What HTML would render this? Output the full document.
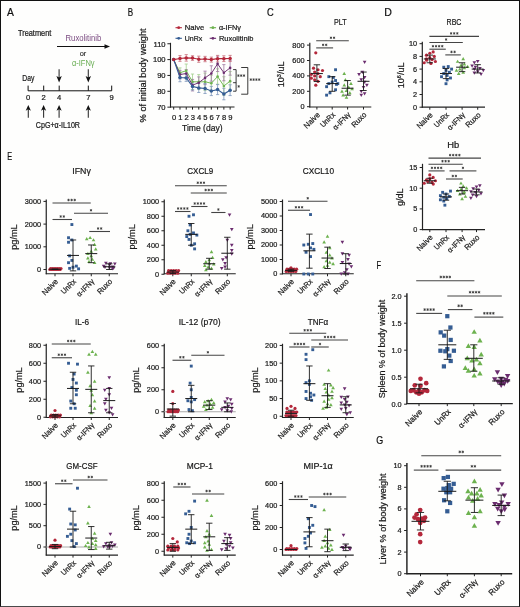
<!DOCTYPE html>
<html><head><meta charset="utf-8"><style>
html,body{margin:0;padding:0;background:#fefefd;}
body{width:520px;height:607px;overflow:hidden;position:relative;}
svg{display:block;font-family:"Liberation Sans", sans-serif;will-change:transform;}
.bd{position:absolute;left:0;top:0;width:520px;height:607px;box-sizing:border-box;border:1px solid #111;border-bottom-color:#4a4a4a;}
</style></head><body>
<svg width="520" height="607" viewBox="0 0 520 607">
<rect x="0" y="0" width="520" height="607" fill="#fefefd"/>
<text x="7.10" y="15.80" font-size="11.3" fill="#111" stroke="#111" stroke-width="0.22" textLength="6.87" lengthAdjust="spacingAndGlyphs">A</text>
<text x="127.80" y="15.70" font-size="11.3" fill="#111" stroke="#111" stroke-width="0.22" textLength="5.38" lengthAdjust="spacingAndGlyphs">B</text>
<text x="266.90" y="15.70" font-size="11.3" fill="#111" stroke="#111" stroke-width="0.22" textLength="6.72" lengthAdjust="spacingAndGlyphs">C</text>
<text x="384.20" y="15.70" font-size="11.3" fill="#111" stroke="#111" stroke-width="0.22" textLength="7.62" lengthAdjust="spacingAndGlyphs">D</text>
<text x="7.20" y="159.70" font-size="11.3" fill="#111" stroke="#111" stroke-width="0.22" textLength="4.88" lengthAdjust="spacingAndGlyphs">E</text>
<text x="376.60" y="268.80" font-size="11.3" fill="#111" stroke="#111" stroke-width="0.22" textLength="4.61" lengthAdjust="spacingAndGlyphs">F</text>
<text x="376.30" y="443.60" font-size="11.3" fill="#111" stroke="#111" stroke-width="0.22" textLength="6.98" lengthAdjust="spacingAndGlyphs">G</text>
<text x="18.00" y="35.60" font-size="8.2" fill="#1a1a1a" stroke="#1a1a1a" stroke-width="0.22" textLength="33.3" lengthAdjust="spacingAndGlyphs">Treatment</text>
<text x="65.50" y="40.60" font-size="8.2" fill="#7a4a80" textLength="35.8" lengthAdjust="spacingAndGlyphs">Ruxolitinib</text>
<line x1="57.00" y1="46.50" x2="107.00" y2="46.50" stroke="#111" stroke-width="1.0"/>
<path d="M104.5 44.2 L110 46.5 L104.5 48.8 Z" stroke="none" stroke-width="1.0" fill="#111"/>
<text x="83.00" y="55.60" font-size="7.6" fill="#1a1a1a" stroke="#1a1a1a" stroke-width="0.1" text-anchor="middle" textLength="6.6" lengthAdjust="spacingAndGlyphs">or</text>
<text x="71.90" y="65.80" font-size="8.2" fill="#68ad52" textLength="22.7" lengthAdjust="spacingAndGlyphs">&#945;-IFN&#947;</text>
<text x="22.30" y="81.20" font-size="8.2" fill="#1a1a1a" stroke="#1a1a1a" stroke-width="0.22" textLength="12.1" lengthAdjust="spacingAndGlyphs">Day</text>
<line x1="28.10" y1="90.80" x2="111.70" y2="90.80" stroke="#111" stroke-width="1.0"/>
<line x1="28.10" y1="85.60" x2="28.10" y2="90.80" stroke="#111" stroke-width="1.0"/>
<text x="28.10" y="100.20" font-size="7.6" fill="#1a1a1a" stroke="#1a1a1a" stroke-width="0.22" text-anchor="middle">0</text>
<line x1="43.70" y1="85.60" x2="43.70" y2="90.80" stroke="#111" stroke-width="1.0"/>
<text x="43.70" y="100.20" font-size="7.6" fill="#1a1a1a" stroke="#1a1a1a" stroke-width="0.22" text-anchor="middle">2</text>
<line x1="59.20" y1="85.60" x2="59.20" y2="90.80" stroke="#111" stroke-width="1.0"/>
<text x="59.20" y="100.20" font-size="7.6" fill="#1a1a1a" stroke="#1a1a1a" stroke-width="0.22" text-anchor="middle">4</text>
<line x1="88.30" y1="85.60" x2="88.30" y2="90.80" stroke="#111" stroke-width="1.0"/>
<text x="88.30" y="100.20" font-size="7.6" fill="#1a1a1a" stroke="#1a1a1a" stroke-width="0.22" text-anchor="middle">7</text>
<line x1="111.70" y1="85.60" x2="111.70" y2="90.80" stroke="#111" stroke-width="1.0"/>
<text x="111.70" y="100.20" font-size="7.6" fill="#1a1a1a" stroke="#1a1a1a" stroke-width="0.22" text-anchor="middle">9</text>
<line x1="59.10" y1="69.20" x2="59.10" y2="78.50" stroke="#333" stroke-width="1.1"/>
<path d="M56.40 76.0 L59.10 77.6 L61.80 76.0 L59.10 82.4 Z" stroke="none" stroke-width="1.0" fill="#111"/>
<line x1="88.30" y1="69.20" x2="88.30" y2="78.50" stroke="#333" stroke-width="1.1"/>
<path d="M85.60 76.0 L88.30 77.6 L91.00 76.0 L88.30 82.4 Z" stroke="none" stroke-width="1.0" fill="#111"/>
<line x1="28.30" y1="109.00" x2="28.30" y2="117.80" stroke="#333" stroke-width="1.1"/>
<path d="M25.70 110.8 L28.30 109.3 L30.90 110.8 L28.30 105.0 Z" stroke="none" stroke-width="1.0" fill="#111"/>
<line x1="43.60" y1="109.00" x2="43.60" y2="117.80" stroke="#333" stroke-width="1.1"/>
<path d="M41.00 110.8 L43.60 109.3 L46.20 110.8 L43.60 105.0 Z" stroke="none" stroke-width="1.0" fill="#111"/>
<line x1="59.10" y1="109.00" x2="59.10" y2="117.80" stroke="#333" stroke-width="1.1"/>
<path d="M56.50 110.8 L59.10 109.3 L61.70 110.8 L59.10 105.0 Z" stroke="none" stroke-width="1.0" fill="#111"/>
<line x1="88.30" y1="109.00" x2="88.30" y2="117.80" stroke="#333" stroke-width="1.1"/>
<path d="M85.70 110.8 L88.30 109.3 L90.90 110.8 L88.30 105.0 Z" stroke="none" stroke-width="1.0" fill="#111"/>
<text x="35.80" y="127.70" font-size="8.2" fill="#1a1a1a" stroke="#1a1a1a" stroke-width="0.22" textLength="44.2" lengthAdjust="spacingAndGlyphs">CpG+&#945;-IL10R</text>
<line x1="170.50" y1="42.80" x2="170.50" y2="107.60" stroke="#222222" stroke-width="1.1"/>
<line x1="170.00" y1="107.00" x2="234.50" y2="107.00" stroke="#222222" stroke-width="1.1"/>
<line x1="167.40" y1="43.75" x2="170.50" y2="43.75" stroke="#222222" stroke-width="1.0"/>
<text x="165.60" y="46.50" font-size="7.6" fill="#1a1a1a" stroke="#1a1a1a" stroke-width="0.22" text-anchor="end">110</text>
<line x1="167.40" y1="59.60" x2="170.50" y2="59.60" stroke="#222222" stroke-width="1.0"/>
<text x="165.60" y="62.35" font-size="7.6" fill="#1a1a1a" stroke="#1a1a1a" stroke-width="0.22" text-anchor="end">100</text>
<line x1="167.40" y1="75.45" x2="170.50" y2="75.45" stroke="#222222" stroke-width="1.0"/>
<text x="165.60" y="78.20" font-size="7.6" fill="#1a1a1a" stroke="#1a1a1a" stroke-width="0.22" text-anchor="end">90</text>
<line x1="167.40" y1="91.30" x2="170.50" y2="91.30" stroke="#222222" stroke-width="1.0"/>
<text x="165.60" y="94.05" font-size="7.6" fill="#1a1a1a" stroke="#1a1a1a" stroke-width="0.22" text-anchor="end">80</text>
<line x1="167.40" y1="107.15" x2="170.50" y2="107.15" stroke="#222222" stroke-width="1.0"/>
<text x="165.60" y="109.90" font-size="7.6" fill="#1a1a1a" stroke="#1a1a1a" stroke-width="0.22" text-anchor="end">70</text>
<line x1="173.70" y1="107.00" x2="173.70" y2="109.60" stroke="#222222" stroke-width="1.0"/>
<text x="174.00" y="119.90" font-size="7.6" fill="#1a1a1a" stroke="#1a1a1a" stroke-width="0.22" text-anchor="middle">0</text>
<line x1="179.97" y1="107.00" x2="179.97" y2="109.60" stroke="#222222" stroke-width="1.0"/>
<text x="180.27" y="119.90" font-size="7.6" fill="#1a1a1a" stroke="#1a1a1a" stroke-width="0.22" text-anchor="middle">1</text>
<line x1="186.24" y1="107.00" x2="186.24" y2="109.60" stroke="#222222" stroke-width="1.0"/>
<text x="186.54" y="119.90" font-size="7.6" fill="#1a1a1a" stroke="#1a1a1a" stroke-width="0.22" text-anchor="middle">2</text>
<line x1="192.51" y1="107.00" x2="192.51" y2="109.60" stroke="#222222" stroke-width="1.0"/>
<text x="192.81" y="119.90" font-size="7.6" fill="#1a1a1a" stroke="#1a1a1a" stroke-width="0.22" text-anchor="middle">3</text>
<line x1="198.78" y1="107.00" x2="198.78" y2="109.60" stroke="#222222" stroke-width="1.0"/>
<text x="199.08" y="119.90" font-size="7.6" fill="#1a1a1a" stroke="#1a1a1a" stroke-width="0.22" text-anchor="middle">4</text>
<line x1="205.05" y1="107.00" x2="205.05" y2="109.60" stroke="#222222" stroke-width="1.0"/>
<text x="205.35" y="119.90" font-size="7.6" fill="#1a1a1a" stroke="#1a1a1a" stroke-width="0.22" text-anchor="middle">5</text>
<line x1="211.32" y1="107.00" x2="211.32" y2="109.60" stroke="#222222" stroke-width="1.0"/>
<text x="211.62" y="119.90" font-size="7.6" fill="#1a1a1a" stroke="#1a1a1a" stroke-width="0.22" text-anchor="middle">6</text>
<line x1="217.59" y1="107.00" x2="217.59" y2="109.60" stroke="#222222" stroke-width="1.0"/>
<text x="217.89" y="119.90" font-size="7.6" fill="#1a1a1a" stroke="#1a1a1a" stroke-width="0.22" text-anchor="middle">7</text>
<line x1="223.86" y1="107.00" x2="223.86" y2="109.60" stroke="#222222" stroke-width="1.0"/>
<text x="224.16" y="119.90" font-size="7.6" fill="#1a1a1a" stroke="#1a1a1a" stroke-width="0.22" text-anchor="middle">8</text>
<line x1="230.13" y1="107.00" x2="230.13" y2="109.60" stroke="#222222" stroke-width="1.0"/>
<text x="230.43" y="119.90" font-size="7.6" fill="#1a1a1a" stroke="#1a1a1a" stroke-width="0.22" text-anchor="middle">9</text>
<text x="202.30" y="130.90" font-size="9.2" fill="#1a1a1a" stroke="#1a1a1a" stroke-width="0.22" text-anchor="middle" textLength="40.5" lengthAdjust="spacingAndGlyphs">Time (day)</text>
<text x="146.00" y="75.40" font-size="8.8" fill="#1a1a1a" stroke="#1a1a1a" stroke-width="0.22" text-anchor="middle" textLength="94" lengthAdjust="spacingAndGlyphs" transform="rotate(-90 146.00 75.40)">% of initial body weight</text>
<line x1="179.97" y1="67.88" x2="179.97" y2="77.50" stroke="#a2cf8d" stroke-width="0.8"/>
<line x1="178.37" y1="67.88" x2="181.57" y2="67.88" stroke="#a2cf8d" stroke-width="0.8"/>
<line x1="178.37" y1="77.50" x2="181.57" y2="77.50" stroke="#a2cf8d" stroke-width="0.8"/>
<line x1="186.24" y1="64.04" x2="186.24" y2="77.50" stroke="#a2cf8d" stroke-width="0.8"/>
<line x1="184.64" y1="64.04" x2="187.84" y2="64.04" stroke="#a2cf8d" stroke-width="0.8"/>
<line x1="184.64" y1="77.50" x2="187.84" y2="77.50" stroke="#a2cf8d" stroke-width="0.8"/>
<line x1="192.51" y1="74.04" x2="192.51" y2="89.42" stroke="#a2cf8d" stroke-width="0.8"/>
<line x1="190.91" y1="74.04" x2="194.11" y2="74.04" stroke="#a2cf8d" stroke-width="0.8"/>
<line x1="190.91" y1="89.42" x2="194.11" y2="89.42" stroke="#a2cf8d" stroke-width="0.8"/>
<line x1="198.78" y1="74.62" x2="198.78" y2="89.23" stroke="#a2cf8d" stroke-width="0.8"/>
<line x1="197.18" y1="74.62" x2="200.38" y2="74.62" stroke="#a2cf8d" stroke-width="0.8"/>
<line x1="197.18" y1="89.23" x2="200.38" y2="89.23" stroke="#a2cf8d" stroke-width="0.8"/>
<line x1="205.05" y1="73.08" x2="205.05" y2="90.38" stroke="#a2cf8d" stroke-width="0.8"/>
<line x1="203.45" y1="73.08" x2="206.65" y2="73.08" stroke="#a2cf8d" stroke-width="0.8"/>
<line x1="203.45" y1="90.38" x2="206.65" y2="90.38" stroke="#a2cf8d" stroke-width="0.8"/>
<line x1="211.32" y1="75.19" x2="211.32" y2="91.35" stroke="#a2cf8d" stroke-width="0.8"/>
<line x1="209.72" y1="75.19" x2="212.92" y2="75.19" stroke="#a2cf8d" stroke-width="0.8"/>
<line x1="209.72" y1="91.35" x2="212.92" y2="91.35" stroke="#a2cf8d" stroke-width="0.8"/>
<line x1="217.59" y1="68.85" x2="217.59" y2="84.23" stroke="#a2cf8d" stroke-width="0.8"/>
<line x1="215.99" y1="68.85" x2="219.19" y2="68.85" stroke="#a2cf8d" stroke-width="0.8"/>
<line x1="215.99" y1="84.23" x2="219.19" y2="84.23" stroke="#a2cf8d" stroke-width="0.8"/>
<line x1="223.86" y1="76.73" x2="223.86" y2="95.19" stroke="#a2cf8d" stroke-width="0.8"/>
<line x1="222.26" y1="76.73" x2="225.46" y2="76.73" stroke="#a2cf8d" stroke-width="0.8"/>
<line x1="222.26" y1="95.19" x2="225.46" y2="95.19" stroke="#a2cf8d" stroke-width="0.8"/>
<line x1="230.13" y1="71.54" x2="230.13" y2="90.77" stroke="#a2cf8d" stroke-width="0.8"/>
<line x1="228.53" y1="71.54" x2="231.73" y2="71.54" stroke="#a2cf8d" stroke-width="0.8"/>
<line x1="228.53" y1="90.77" x2="231.73" y2="90.77" stroke="#a2cf8d" stroke-width="0.8"/>
<line x1="179.97" y1="70.38" x2="179.97" y2="78.85" stroke="#a07aa2" stroke-width="0.8"/>
<line x1="178.37" y1="70.38" x2="181.57" y2="70.38" stroke="#a07aa2" stroke-width="0.8"/>
<line x1="178.37" y1="78.85" x2="181.57" y2="78.85" stroke="#a07aa2" stroke-width="0.8"/>
<line x1="186.24" y1="69.62" x2="186.24" y2="77.31" stroke="#a07aa2" stroke-width="0.8"/>
<line x1="184.64" y1="69.62" x2="187.84" y2="69.62" stroke="#a07aa2" stroke-width="0.8"/>
<line x1="184.64" y1="77.31" x2="187.84" y2="77.31" stroke="#a07aa2" stroke-width="0.8"/>
<line x1="192.51" y1="79.42" x2="192.51" y2="90.96" stroke="#a07aa2" stroke-width="0.8"/>
<line x1="190.91" y1="79.42" x2="194.11" y2="79.42" stroke="#a07aa2" stroke-width="0.8"/>
<line x1="190.91" y1="90.96" x2="194.11" y2="90.96" stroke="#a07aa2" stroke-width="0.8"/>
<line x1="198.78" y1="76.92" x2="198.78" y2="88.46" stroke="#a07aa2" stroke-width="0.8"/>
<line x1="197.18" y1="76.92" x2="200.38" y2="76.92" stroke="#a07aa2" stroke-width="0.8"/>
<line x1="197.18" y1="88.46" x2="200.38" y2="88.46" stroke="#a07aa2" stroke-width="0.8"/>
<line x1="205.05" y1="71.15" x2="205.05" y2="84.62" stroke="#a07aa2" stroke-width="0.8"/>
<line x1="203.45" y1="71.15" x2="206.65" y2="71.15" stroke="#a07aa2" stroke-width="0.8"/>
<line x1="203.45" y1="84.62" x2="206.65" y2="84.62" stroke="#a07aa2" stroke-width="0.8"/>
<line x1="211.32" y1="65.77" x2="211.32" y2="81.15" stroke="#a07aa2" stroke-width="0.8"/>
<line x1="209.72" y1="65.77" x2="212.92" y2="65.77" stroke="#a07aa2" stroke-width="0.8"/>
<line x1="209.72" y1="81.15" x2="212.92" y2="81.15" stroke="#a07aa2" stroke-width="0.8"/>
<line x1="217.59" y1="56.15" x2="217.59" y2="71.54" stroke="#a07aa2" stroke-width="0.8"/>
<line x1="215.99" y1="56.15" x2="219.19" y2="56.15" stroke="#a07aa2" stroke-width="0.8"/>
<line x1="215.99" y1="71.54" x2="219.19" y2="71.54" stroke="#a07aa2" stroke-width="0.8"/>
<line x1="223.86" y1="64.62" x2="223.86" y2="80.77" stroke="#a07aa2" stroke-width="0.8"/>
<line x1="222.26" y1="64.62" x2="225.46" y2="64.62" stroke="#a07aa2" stroke-width="0.8"/>
<line x1="222.26" y1="80.77" x2="225.46" y2="80.77" stroke="#a07aa2" stroke-width="0.8"/>
<line x1="230.13" y1="60.58" x2="230.13" y2="75.19" stroke="#a07aa2" stroke-width="0.8"/>
<line x1="228.53" y1="60.58" x2="231.73" y2="60.58" stroke="#a07aa2" stroke-width="0.8"/>
<line x1="228.53" y1="75.19" x2="231.73" y2="75.19" stroke="#a07aa2" stroke-width="0.8"/>
<line x1="179.97" y1="73.27" x2="179.97" y2="81.73" stroke="#7d97bb" stroke-width="0.8"/>
<line x1="178.37" y1="73.27" x2="181.57" y2="73.27" stroke="#7d97bb" stroke-width="0.8"/>
<line x1="178.37" y1="81.73" x2="181.57" y2="81.73" stroke="#7d97bb" stroke-width="0.8"/>
<line x1="186.24" y1="74.42" x2="186.24" y2="81.35" stroke="#7d97bb" stroke-width="0.8"/>
<line x1="184.64" y1="74.42" x2="187.84" y2="74.42" stroke="#7d97bb" stroke-width="0.8"/>
<line x1="184.64" y1="81.35" x2="187.84" y2="81.35" stroke="#7d97bb" stroke-width="0.8"/>
<line x1="192.51" y1="83.08" x2="192.51" y2="90.00" stroke="#7d97bb" stroke-width="0.8"/>
<line x1="190.91" y1="83.08" x2="194.11" y2="83.08" stroke="#7d97bb" stroke-width="0.8"/>
<line x1="190.91" y1="90.00" x2="194.11" y2="90.00" stroke="#7d97bb" stroke-width="0.8"/>
<line x1="198.78" y1="83.27" x2="198.78" y2="92.50" stroke="#7d97bb" stroke-width="0.8"/>
<line x1="197.18" y1="83.27" x2="200.38" y2="83.27" stroke="#7d97bb" stroke-width="0.8"/>
<line x1="197.18" y1="92.50" x2="200.38" y2="92.50" stroke="#7d97bb" stroke-width="0.8"/>
<line x1="205.05" y1="83.46" x2="205.05" y2="93.46" stroke="#7d97bb" stroke-width="0.8"/>
<line x1="203.45" y1="83.46" x2="206.65" y2="83.46" stroke="#7d97bb" stroke-width="0.8"/>
<line x1="203.45" y1="93.46" x2="206.65" y2="93.46" stroke="#7d97bb" stroke-width="0.8"/>
<line x1="211.32" y1="86.35" x2="211.32" y2="95.58" stroke="#7d97bb" stroke-width="0.8"/>
<line x1="209.72" y1="86.35" x2="212.92" y2="86.35" stroke="#7d97bb" stroke-width="0.8"/>
<line x1="209.72" y1="95.58" x2="212.92" y2="95.58" stroke="#7d97bb" stroke-width="0.8"/>
<line x1="217.59" y1="84.62" x2="217.59" y2="94.62" stroke="#7d97bb" stroke-width="0.8"/>
<line x1="215.99" y1="84.62" x2="219.19" y2="84.62" stroke="#7d97bb" stroke-width="0.8"/>
<line x1="215.99" y1="94.62" x2="219.19" y2="94.62" stroke="#7d97bb" stroke-width="0.8"/>
<line x1="223.86" y1="88.27" x2="223.86" y2="99.81" stroke="#7d97bb" stroke-width="0.8"/>
<line x1="222.26" y1="88.27" x2="225.46" y2="88.27" stroke="#7d97bb" stroke-width="0.8"/>
<line x1="222.26" y1="99.81" x2="225.46" y2="99.81" stroke="#7d97bb" stroke-width="0.8"/>
<line x1="230.13" y1="84.81" x2="230.13" y2="95.58" stroke="#7d97bb" stroke-width="0.8"/>
<line x1="228.53" y1="84.81" x2="231.73" y2="84.81" stroke="#7d97bb" stroke-width="0.8"/>
<line x1="228.53" y1="95.58" x2="231.73" y2="95.58" stroke="#7d97bb" stroke-width="0.8"/>
<line x1="179.97" y1="55.58" x2="179.97" y2="61.35" stroke="#c9707c" stroke-width="0.8"/>
<line x1="178.37" y1="55.58" x2="181.57" y2="55.58" stroke="#c9707c" stroke-width="0.8"/>
<line x1="178.37" y1="61.35" x2="181.57" y2="61.35" stroke="#c9707c" stroke-width="0.8"/>
<line x1="186.24" y1="54.62" x2="186.24" y2="61.15" stroke="#c9707c" stroke-width="0.8"/>
<line x1="184.64" y1="54.62" x2="187.84" y2="54.62" stroke="#c9707c" stroke-width="0.8"/>
<line x1="184.64" y1="61.15" x2="187.84" y2="61.15" stroke="#c9707c" stroke-width="0.8"/>
<line x1="192.51" y1="55.77" x2="192.51" y2="60.38" stroke="#c9707c" stroke-width="0.8"/>
<line x1="190.91" y1="55.77" x2="194.11" y2="55.77" stroke="#c9707c" stroke-width="0.8"/>
<line x1="190.91" y1="60.38" x2="194.11" y2="60.38" stroke="#c9707c" stroke-width="0.8"/>
<line x1="198.78" y1="56.15" x2="198.78" y2="62.31" stroke="#c9707c" stroke-width="0.8"/>
<line x1="197.18" y1="56.15" x2="200.38" y2="56.15" stroke="#c9707c" stroke-width="0.8"/>
<line x1="197.18" y1="62.31" x2="200.38" y2="62.31" stroke="#c9707c" stroke-width="0.8"/>
<line x1="205.05" y1="56.35" x2="205.05" y2="61.73" stroke="#c9707c" stroke-width="0.8"/>
<line x1="203.45" y1="56.35" x2="206.65" y2="56.35" stroke="#c9707c" stroke-width="0.8"/>
<line x1="203.45" y1="61.73" x2="206.65" y2="61.73" stroke="#c9707c" stroke-width="0.8"/>
<line x1="211.32" y1="57.12" x2="211.32" y2="62.12" stroke="#c9707c" stroke-width="0.8"/>
<line x1="209.72" y1="57.12" x2="212.92" y2="57.12" stroke="#c9707c" stroke-width="0.8"/>
<line x1="209.72" y1="62.12" x2="212.92" y2="62.12" stroke="#c9707c" stroke-width="0.8"/>
<line x1="217.59" y1="55.38" x2="217.59" y2="61.92" stroke="#c9707c" stroke-width="0.8"/>
<line x1="215.99" y1="55.38" x2="219.19" y2="55.38" stroke="#c9707c" stroke-width="0.8"/>
<line x1="215.99" y1="61.92" x2="219.19" y2="61.92" stroke="#c9707c" stroke-width="0.8"/>
<line x1="223.86" y1="55.77" x2="223.86" y2="61.54" stroke="#c9707c" stroke-width="0.8"/>
<line x1="222.26" y1="55.77" x2="225.46" y2="55.77" stroke="#c9707c" stroke-width="0.8"/>
<line x1="222.26" y1="61.54" x2="225.46" y2="61.54" stroke="#c9707c" stroke-width="0.8"/>
<line x1="230.13" y1="55.38" x2="230.13" y2="61.54" stroke="#c9707c" stroke-width="0.8"/>
<line x1="228.53" y1="55.38" x2="231.73" y2="55.38" stroke="#c9707c" stroke-width="0.8"/>
<line x1="228.53" y1="61.54" x2="231.73" y2="61.54" stroke="#c9707c" stroke-width="0.8"/>
<path d="M173.70 59.62 L179.97 72.69 L186.24 70.77 L192.51 81.73 L198.78 81.92 L205.05 81.73 L211.32 83.27 L217.59 76.54 L223.86 85.96 L230.13 81.15" stroke="#6db24f" stroke-width="0.95" fill="none"/>
<circle cx="173.70" cy="59.62" r="1.3" fill="#6db24f"/>
<circle cx="179.97" cy="72.69" r="1.3" fill="#6db24f"/>
<circle cx="186.24" cy="70.77" r="1.3" fill="#6db24f"/>
<circle cx="192.51" cy="81.73" r="1.3" fill="#6db24f"/>
<circle cx="198.78" cy="81.92" r="1.3" fill="#6db24f"/>
<circle cx="205.05" cy="81.73" r="1.3" fill="#6db24f"/>
<circle cx="211.32" cy="83.27" r="1.3" fill="#6db24f"/>
<circle cx="217.59" cy="76.54" r="1.3" fill="#6db24f"/>
<circle cx="223.86" cy="85.96" r="1.3" fill="#6db24f"/>
<circle cx="230.13" cy="81.15" r="1.3" fill="#6db24f"/>
<path d="M173.70 59.62 L179.97 74.62 L186.24 73.46 L192.51 85.19 L198.78 82.69 L205.05 77.88 L211.32 73.46 L217.59 63.85 L223.86 72.69 L230.13 67.88" stroke="#6b2d6f" stroke-width="0.95" fill="none"/>
<circle cx="173.70" cy="59.62" r="1.3" fill="#6b2d6f"/>
<circle cx="179.97" cy="74.62" r="1.3" fill="#6b2d6f"/>
<circle cx="186.24" cy="73.46" r="1.3" fill="#6b2d6f"/>
<circle cx="192.51" cy="85.19" r="1.3" fill="#6b2d6f"/>
<circle cx="198.78" cy="82.69" r="1.3" fill="#6b2d6f"/>
<circle cx="205.05" cy="77.88" r="1.3" fill="#6b2d6f"/>
<circle cx="211.32" cy="73.46" r="1.3" fill="#6b2d6f"/>
<circle cx="217.59" cy="63.85" r="1.3" fill="#6b2d6f"/>
<circle cx="223.86" cy="72.69" r="1.3" fill="#6b2d6f"/>
<circle cx="230.13" cy="67.88" r="1.3" fill="#6b2d6f"/>
<path d="M173.70 59.62 L179.97 77.50 L186.24 77.88 L192.51 86.54 L198.78 87.88 L205.05 88.46 L211.32 90.96 L217.59 89.62 L223.86 94.04 L230.13 90.19" stroke="#355d93" stroke-width="1.1" fill="none"/>
<circle cx="173.70" cy="59.62" r="1.75" fill="#355d93"/>
<circle cx="179.97" cy="77.50" r="1.75" fill="#355d93"/>
<circle cx="186.24" cy="77.88" r="1.75" fill="#355d93"/>
<circle cx="192.51" cy="86.54" r="1.75" fill="#355d93"/>
<circle cx="198.78" cy="87.88" r="1.75" fill="#355d93"/>
<circle cx="205.05" cy="88.46" r="1.75" fill="#355d93"/>
<circle cx="211.32" cy="90.96" r="1.75" fill="#355d93"/>
<circle cx="217.59" cy="89.62" r="1.75" fill="#355d93"/>
<circle cx="223.86" cy="94.04" r="1.75" fill="#355d93"/>
<circle cx="230.13" cy="90.19" r="1.75" fill="#355d93"/>
<path d="M173.70 59.62 L179.97 58.46 L186.24 57.88 L192.51 58.08 L198.78 59.23 L205.05 59.04 L211.32 59.62 L217.59 58.65 L223.86 58.65 L230.13 58.46" stroke="#b4283b" stroke-width="1.1" fill="none"/>
<circle cx="173.70" cy="59.62" r="1.75" fill="#b4283b"/>
<circle cx="179.97" cy="58.46" r="1.75" fill="#b4283b"/>
<circle cx="186.24" cy="57.88" r="1.75" fill="#b4283b"/>
<circle cx="192.51" cy="58.08" r="1.75" fill="#b4283b"/>
<circle cx="198.78" cy="59.23" r="1.75" fill="#b4283b"/>
<circle cx="205.05" cy="59.04" r="1.75" fill="#b4283b"/>
<circle cx="211.32" cy="59.62" r="1.75" fill="#b4283b"/>
<circle cx="217.59" cy="58.65" r="1.75" fill="#b4283b"/>
<circle cx="223.86" cy="58.65" r="1.75" fill="#b4283b"/>
<circle cx="230.13" cy="58.46" r="1.75" fill="#b4283b"/>
<line x1="175.50" y1="27.70" x2="181.90" y2="27.70" stroke="#b4283b" stroke-width="1.1"/>
<circle cx="178.70" cy="27.70" r="1.4" fill="#b4283b"/>
<text x="184.70" y="30.40" font-size="7.6" fill="#1a1a1a" stroke="#1a1a1a" stroke-width="0.22" textLength="19.5" lengthAdjust="spacingAndGlyphs">Naive</text>
<line x1="175.50" y1="38.30" x2="181.90" y2="38.30" stroke="#355d93" stroke-width="1.1"/>
<circle cx="178.70" cy="38.30" r="1.4" fill="#355d93"/>
<text x="184.70" y="41.00" font-size="7.6" fill="#1a1a1a" stroke="#1a1a1a" stroke-width="0.22" textLength="17.5" lengthAdjust="spacingAndGlyphs">UnRx</text>
<line x1="209.70" y1="27.70" x2="216.10" y2="27.70" stroke="#6db24f" stroke-width="1.1"/>
<circle cx="212.90" cy="27.70" r="1.4" fill="#6db24f"/>
<text x="218.90" y="30.40" font-size="7.6" fill="#1a1a1a" stroke="#1a1a1a" stroke-width="0.22" textLength="22" lengthAdjust="spacingAndGlyphs">&#945;-IFN&#947;</text>
<line x1="209.70" y1="38.30" x2="216.10" y2="38.30" stroke="#6b2d6f" stroke-width="1.1"/>
<circle cx="212.90" cy="38.30" r="1.4" fill="#6b2d6f"/>
<text x="218.90" y="41.00" font-size="7.6" fill="#1a1a1a" stroke="#1a1a1a" stroke-width="0.22" textLength="34.5" lengthAdjust="spacingAndGlyphs">Ruxolitinib</text>
<path d="M233.1 69.6 H236.1 V91.2 H233.1 M233.1 82.7 H236.1" stroke="#222" stroke-width="0.9" fill="none"/>
<path d="M238.40 74.35L238.40 76.85M237.32 74.97L239.48 76.22M237.32 76.22L239.48 74.97M241.20 74.35L241.20 76.85M240.12 74.97L242.28 76.22M240.12 76.22L242.28 74.97M244.00 74.35L244.00 76.85M242.92 74.97L245.08 76.22M242.92 76.22L245.08 74.97" stroke="#333" stroke-width="0.75" fill="none"/>
<path d="M238.70 85.15L238.70 87.65M237.62 85.78L239.78 87.03M237.62 87.03L239.78 85.78" stroke="#333" stroke-width="0.75" fill="none"/>
<path d="M241.2 67.5 H247.8 V94.2 H241.2" stroke="#222" stroke-width="0.9" fill="none"/>
<path d="M250.80 78.35L250.80 80.85M249.72 78.97L251.88 80.22M249.72 80.22L251.88 78.97M253.60 78.35L253.60 80.85M252.52 78.97L254.68 80.22M252.52 80.22L254.68 78.97M256.40 78.35L256.40 80.85M255.32 78.97L257.48 80.22M255.32 80.22L257.48 78.97M259.20 78.35L259.20 80.85M258.12 78.97L260.28 80.22M258.12 80.22L260.28 78.97" stroke="#333" stroke-width="0.75" fill="none"/>
<line x1="309.80" y1="42.70" x2="309.80" y2="107.50" stroke="#222222" stroke-width="1.2"/>
<line x1="309.30" y1="107.00" x2="371.30" y2="107.00" stroke="#222222" stroke-width="1.2"/>
<line x1="307.00" y1="106.70" x2="309.80" y2="106.70" stroke="#222222" stroke-width="1.0"/>
<text x="304.60" y="109.11" font-size="7.8" fill="#1a1a1a" stroke="#1a1a1a" stroke-width="0.22" text-anchor="end" textLength="4.08" lengthAdjust="spacingAndGlyphs">0</text>
<line x1="307.00" y1="91.30" x2="309.80" y2="91.30" stroke="#222222" stroke-width="1.0"/>
<text x="304.60" y="93.71" font-size="7.8" fill="#1a1a1a" stroke="#1a1a1a" stroke-width="0.22" text-anchor="end" textLength="12.23" lengthAdjust="spacingAndGlyphs">200</text>
<line x1="307.00" y1="75.90" x2="309.80" y2="75.90" stroke="#222222" stroke-width="1.0"/>
<text x="304.60" y="78.31" font-size="7.8" fill="#1a1a1a" stroke="#1a1a1a" stroke-width="0.22" text-anchor="end" textLength="12.23" lengthAdjust="spacingAndGlyphs">400</text>
<line x1="307.00" y1="60.50" x2="309.80" y2="60.50" stroke="#222222" stroke-width="1.0"/>
<text x="304.60" y="62.91" font-size="7.8" fill="#1a1a1a" stroke="#1a1a1a" stroke-width="0.22" text-anchor="end" textLength="12.23" lengthAdjust="spacingAndGlyphs">600</text>
<line x1="307.00" y1="45.10" x2="309.80" y2="45.10" stroke="#222222" stroke-width="1.0"/>
<text x="304.60" y="47.51" font-size="7.8" fill="#1a1a1a" stroke="#1a1a1a" stroke-width="0.22" text-anchor="end" textLength="12.23" lengthAdjust="spacingAndGlyphs">800</text>
<line x1="316.90" y1="107.00" x2="316.90" y2="109.50" stroke="#222222" stroke-width="1.0"/>
<text x="320.40" y="115.30" font-size="7.7" fill="#1a1a1a" stroke="#1a1a1a" stroke-width="0.22" text-anchor="end" textLength="19.2" lengthAdjust="spacingAndGlyphs" transform="rotate(-45 320.40 115.30)">Naive</text>
<line x1="332.20" y1="107.00" x2="332.20" y2="109.50" stroke="#222222" stroke-width="1.0"/>
<text x="335.70" y="115.30" font-size="7.7" fill="#1a1a1a" stroke="#1a1a1a" stroke-width="0.22" text-anchor="end" textLength="17.6" lengthAdjust="spacingAndGlyphs" transform="rotate(-45 335.70 115.30)">UnRx</text>
<line x1="347.60" y1="107.00" x2="347.60" y2="109.50" stroke="#222222" stroke-width="1.0"/>
<text x="351.10" y="115.30" font-size="7.7" fill="#1a1a1a" stroke="#1a1a1a" stroke-width="0.22" text-anchor="end" textLength="21.6" lengthAdjust="spacingAndGlyphs" transform="rotate(-45 351.10 115.30)">&#945;-IFN&#947;</text>
<line x1="363.50" y1="107.00" x2="363.50" y2="109.50" stroke="#222222" stroke-width="1.0"/>
<text x="367.00" y="115.30" font-size="7.7" fill="#1a1a1a" stroke="#1a1a1a" stroke-width="0.22" text-anchor="end" textLength="17.8" lengthAdjust="spacingAndGlyphs" transform="rotate(-45 367.00 115.30)">Ruxo</text>
<circle cx="315.78" cy="52.80" r="1.60" fill="#b4283b"/>
<circle cx="313.54" cy="68.20" r="1.60" fill="#b4283b"/>
<circle cx="318.02" cy="69.74" r="1.60" fill="#b4283b"/>
<circle cx="322.50" cy="70.51" r="1.60" fill="#b4283b"/>
<circle cx="314.66" cy="72.05" r="1.60" fill="#b4283b"/>
<circle cx="318.02" cy="73.59" r="1.60" fill="#b4283b"/>
<circle cx="311.30" cy="74.36" r="1.60" fill="#b4283b"/>
<circle cx="314.66" cy="75.90" r="1.60" fill="#b4283b"/>
<circle cx="320.26" cy="76.67" r="1.60" fill="#b4283b"/>
<circle cx="311.30" cy="78.21" r="1.60" fill="#b4283b"/>
<circle cx="314.66" cy="79.75" r="1.60" fill="#b4283b"/>
<circle cx="318.02" cy="81.29" r="1.60" fill="#b4283b"/>
<circle cx="315.78" cy="85.14" r="1.60" fill="#b4283b"/>
<rect x="334.12" y="68.30" width="2.88" height="2.88" fill="#355d93"/>
<rect x="327.40" y="75.23" width="2.88" height="2.88" fill="#355d93"/>
<rect x="331.88" y="76.00" width="2.88" height="2.88" fill="#355d93"/>
<rect x="334.12" y="79.08" width="2.88" height="2.88" fill="#355d93"/>
<rect x="330.76" y="80.62" width="2.88" height="2.88" fill="#355d93"/>
<rect x="327.40" y="82.16" width="2.88" height="2.88" fill="#355d93"/>
<rect x="336.36" y="82.16" width="2.88" height="2.88" fill="#355d93"/>
<rect x="335.05" y="82.93" width="2.88" height="2.88" fill="#355d93"/>
<rect x="325.16" y="85.24" width="2.88" height="2.88" fill="#355d93"/>
<rect x="334.12" y="88.32" width="2.88" height="2.88" fill="#355d93"/>
<rect x="328.52" y="91.40" width="2.88" height="2.88" fill="#355d93"/>
<rect x="325.16" y="93.71" width="2.88" height="2.88" fill="#355d93"/>
<path d="M344.24 71.75L346.08 74.97L342.40 74.97Z" fill="#6db24f"/>
<path d="M345.36 77.91L347.20 81.13L343.52 81.13Z" fill="#6db24f"/>
<path d="M350.96 81.76L352.80 84.98L349.12 84.98Z" fill="#6db24f"/>
<path d="M344.24 83.30L346.08 86.52L342.40 86.52Z" fill="#6db24f"/>
<path d="M348.72 85.61L350.56 88.83L346.88 88.83Z" fill="#6db24f"/>
<path d="M352.08 87.15L353.92 90.37L350.24 90.37Z" fill="#6db24f"/>
<path d="M346.48 88.69L348.32 91.91L344.64 91.91Z" fill="#6db24f"/>
<path d="M342.00 89.46L343.84 92.68L340.16 92.68Z" fill="#6db24f"/>
<path d="M349.84 91.00L351.68 94.22L348.00 94.22Z" fill="#6db24f"/>
<path d="M343.12 93.31L344.96 96.53L341.28 96.53Z" fill="#6db24f"/>
<path d="M346.48 95.62L348.32 98.84L344.64 98.84Z" fill="#6db24f"/>
<path d="M364.62 63.88L366.46 60.66L362.78 60.66Z" fill="#6b2d6f"/>
<path d="M362.38 73.89L364.22 70.67L360.54 70.67Z" fill="#6b2d6f"/>
<path d="M359.02 76.20L360.86 72.98L357.18 72.98Z" fill="#6b2d6f"/>
<path d="M364.62 79.28L366.46 76.06L362.78 76.06Z" fill="#6b2d6f"/>
<path d="M361.26 81.59L363.10 78.37L359.42 78.37Z" fill="#6b2d6f"/>
<path d="M364.62 83.90L366.46 80.68L362.78 80.68Z" fill="#6b2d6f"/>
<path d="M366.86 86.98L368.70 83.76L365.02 83.76Z" fill="#6b2d6f"/>
<path d="M363.50 89.29L365.34 86.07L361.66 86.07Z" fill="#6b2d6f"/>
<path d="M361.26 93.14L363.10 89.92L359.42 89.92Z" fill="#6b2d6f"/>
<path d="M364.62 95.45L366.46 92.23L362.78 92.23Z" fill="#6b2d6f"/>
<path d="M361.26 96.99L363.10 93.77L359.42 93.77Z" fill="#6b2d6f"/>
<line x1="310.90" y1="73.59" x2="322.90" y2="73.59" stroke="#1a1a1a" stroke-width="1.0"/>
<line x1="316.90" y1="64.81" x2="316.90" y2="81.52" stroke="#1a1a1a" stroke-width="0.9"/>
<line x1="313.70" y1="64.81" x2="320.10" y2="64.81" stroke="#1a1a1a" stroke-width="0.9"/>
<line x1="313.70" y1="81.52" x2="320.10" y2="81.52" stroke="#1a1a1a" stroke-width="0.9"/>
<line x1="326.20" y1="83.60" x2="338.20" y2="83.60" stroke="#1a1a1a" stroke-width="1.0"/>
<line x1="332.20" y1="76.67" x2="332.20" y2="91.30" stroke="#1a1a1a" stroke-width="0.9"/>
<line x1="329.00" y1="76.67" x2="335.40" y2="76.67" stroke="#1a1a1a" stroke-width="0.9"/>
<line x1="329.00" y1="91.30" x2="335.40" y2="91.30" stroke="#1a1a1a" stroke-width="0.9"/>
<line x1="341.60" y1="88.22" x2="353.60" y2="88.22" stroke="#1a1a1a" stroke-width="1.0"/>
<line x1="347.60" y1="80.52" x2="347.60" y2="95.15" stroke="#1a1a1a" stroke-width="0.9"/>
<line x1="344.40" y1="80.52" x2="350.80" y2="80.52" stroke="#1a1a1a" stroke-width="0.9"/>
<line x1="344.40" y1="95.15" x2="350.80" y2="95.15" stroke="#1a1a1a" stroke-width="0.9"/>
<line x1="357.50" y1="81.29" x2="369.50" y2="81.29" stroke="#1a1a1a" stroke-width="1.0"/>
<line x1="363.50" y1="72.05" x2="363.50" y2="90.53" stroke="#1a1a1a" stroke-width="0.9"/>
<line x1="360.30" y1="72.05" x2="366.70" y2="72.05" stroke="#1a1a1a" stroke-width="0.9"/>
<line x1="360.30" y1="90.53" x2="366.70" y2="90.53" stroke="#1a1a1a" stroke-width="0.9"/>
<line x1="316.20" y1="47.90" x2="333.10" y2="47.90" stroke="#444444" stroke-width="1.1"/>
<path d="M323.10 43.65L323.10 46.15M322.02 44.27L324.18 45.52M322.02 45.52L324.18 44.27M326.20 43.65L326.20 46.15M325.12 44.27L327.28 45.52M325.12 45.52L327.28 44.27" stroke="#333" stroke-width="0.75" fill="none"/>
<line x1="316.20" y1="40.80" x2="348.80" y2="40.80" stroke="#444444" stroke-width="1.1"/>
<path d="M330.95 36.55L330.95 39.05M329.87 37.17L332.03 38.42M329.87 38.42L332.03 37.17M334.05 36.55L334.05 39.05M332.97 37.17L335.13 38.42M332.97 38.42L335.13 37.17" stroke="#333" stroke-width="0.75" fill="none"/>
<text x="340.40" y="25.00" font-size="9.4" fill="#1a1a1a" stroke="#1a1a1a" stroke-width="0.22" text-anchor="middle" textLength="12.6" lengthAdjust="spacingAndGlyphs">PLT</text>
<text x="284.50" y="74.40" font-size="9.0" fill="#1a1a1a" stroke="#1a1a1a" stroke-width="0.22" text-anchor="middle" transform="rotate(-90 284.50 74.40)">10<tspan font-size="5.5" dy="-3">3</tspan><tspan dy="3">/uL</tspan></text>
<line x1="422.30" y1="41.70" x2="422.30" y2="107.70" stroke="#222222" stroke-width="1.2"/>
<line x1="421.80" y1="107.20" x2="485.00" y2="107.20" stroke="#222222" stroke-width="1.2"/>
<line x1="419.50" y1="107.20" x2="422.30" y2="107.20" stroke="#222222" stroke-width="1.0"/>
<text x="417.10" y="109.61" font-size="7.8" fill="#1a1a1a" stroke="#1a1a1a" stroke-width="0.22" text-anchor="end" textLength="4.08" lengthAdjust="spacingAndGlyphs">0</text>
<line x1="419.50" y1="94.50" x2="422.30" y2="94.50" stroke="#222222" stroke-width="1.0"/>
<text x="417.10" y="96.91" font-size="7.8" fill="#1a1a1a" stroke="#1a1a1a" stroke-width="0.22" text-anchor="end" textLength="4.08" lengthAdjust="spacingAndGlyphs">2</text>
<line x1="419.50" y1="81.80" x2="422.30" y2="81.80" stroke="#222222" stroke-width="1.0"/>
<text x="417.10" y="84.21" font-size="7.8" fill="#1a1a1a" stroke="#1a1a1a" stroke-width="0.22" text-anchor="end" textLength="4.08" lengthAdjust="spacingAndGlyphs">4</text>
<line x1="419.50" y1="69.10" x2="422.30" y2="69.10" stroke="#222222" stroke-width="1.0"/>
<text x="417.10" y="71.51" font-size="7.8" fill="#1a1a1a" stroke="#1a1a1a" stroke-width="0.22" text-anchor="end" textLength="4.08" lengthAdjust="spacingAndGlyphs">6</text>
<line x1="419.50" y1="56.40" x2="422.30" y2="56.40" stroke="#222222" stroke-width="1.0"/>
<text x="417.10" y="58.81" font-size="7.8" fill="#1a1a1a" stroke="#1a1a1a" stroke-width="0.22" text-anchor="end" textLength="4.08" lengthAdjust="spacingAndGlyphs">8</text>
<line x1="419.50" y1="43.70" x2="422.30" y2="43.70" stroke="#222222" stroke-width="1.0"/>
<text x="417.10" y="46.11" font-size="7.8" fill="#1a1a1a" stroke="#1a1a1a" stroke-width="0.22" text-anchor="end" textLength="8.15" lengthAdjust="spacingAndGlyphs">10</text>
<line x1="429.80" y1="107.20" x2="429.80" y2="109.70" stroke="#222222" stroke-width="1.0"/>
<text x="433.30" y="115.50" font-size="7.7" fill="#1a1a1a" stroke="#1a1a1a" stroke-width="0.22" text-anchor="end" textLength="19.2" lengthAdjust="spacingAndGlyphs" transform="rotate(-45 433.30 115.50)">Naive</text>
<line x1="446.00" y1="107.20" x2="446.00" y2="109.70" stroke="#222222" stroke-width="1.0"/>
<text x="449.50" y="115.50" font-size="7.7" fill="#1a1a1a" stroke="#1a1a1a" stroke-width="0.22" text-anchor="end" textLength="17.6" lengthAdjust="spacingAndGlyphs" transform="rotate(-45 449.50 115.50)">UnRx</text>
<line x1="462.10" y1="107.20" x2="462.10" y2="109.70" stroke="#222222" stroke-width="1.0"/>
<text x="465.60" y="115.50" font-size="7.7" fill="#1a1a1a" stroke="#1a1a1a" stroke-width="0.22" text-anchor="end" textLength="21.6" lengthAdjust="spacingAndGlyphs" transform="rotate(-45 465.60 115.50)">&#945;-IFN&#947;</text>
<line x1="477.70" y1="107.20" x2="477.70" y2="109.70" stroke="#222222" stroke-width="1.0"/>
<text x="481.20" y="115.50" font-size="7.7" fill="#1a1a1a" stroke="#1a1a1a" stroke-width="0.22" text-anchor="end" textLength="17.8" lengthAdjust="spacingAndGlyphs" transform="rotate(-45 481.20 115.50)">Ruxo</text>
<circle cx="433.16" cy="51.96" r="1.60" fill="#b4283b"/>
<circle cx="429.80" cy="53.23" r="1.60" fill="#b4283b"/>
<circle cx="426.44" cy="55.13" r="1.60" fill="#b4283b"/>
<circle cx="434.28" cy="56.40" r="1.60" fill="#b4283b"/>
<circle cx="429.80" cy="57.67" r="1.60" fill="#b4283b"/>
<circle cx="426.44" cy="58.94" r="1.60" fill="#b4283b"/>
<circle cx="432.11" cy="59.58" r="1.60" fill="#b4283b"/>
<circle cx="426.67" cy="60.21" r="1.60" fill="#b4283b"/>
<circle cx="435.40" cy="61.48" r="1.60" fill="#b4283b"/>
<circle cx="424.20" cy="62.75" r="1.60" fill="#b4283b"/>
<circle cx="430.92" cy="63.39" r="1.60" fill="#b4283b"/>
<rect x="446.80" y="65.12" width="2.88" height="2.88" fill="#355d93"/>
<rect x="442.32" y="65.76" width="2.88" height="2.88" fill="#355d93"/>
<rect x="450.16" y="67.66" width="2.88" height="2.88" fill="#355d93"/>
<rect x="444.56" y="68.93" width="2.88" height="2.88" fill="#355d93"/>
<rect x="447.92" y="70.84" width="2.88" height="2.88" fill="#355d93"/>
<rect x="442.32" y="72.11" width="2.88" height="2.88" fill="#355d93"/>
<rect x="445.68" y="74.01" width="2.88" height="2.88" fill="#355d93"/>
<rect x="440.08" y="75.28" width="2.88" height="2.88" fill="#355d93"/>
<rect x="449.04" y="76.55" width="2.88" height="2.88" fill="#355d93"/>
<rect x="445.68" y="78.46" width="2.88" height="2.88" fill="#355d93"/>
<rect x="444.56" y="82.27" width="2.88" height="2.88" fill="#355d93"/>
<path d="M463.22 57.10L465.06 60.32L461.38 60.32Z" fill="#6db24f"/>
<path d="M457.62 59.64L459.46 62.86L455.78 62.86Z" fill="#6db24f"/>
<path d="M464.34 62.18L466.18 65.40L462.50 65.40Z" fill="#6db24f"/>
<path d="M460.98 63.45L462.82 66.67L459.14 66.67Z" fill="#6db24f"/>
<path d="M467.70 64.72L469.54 67.94L465.86 67.94Z" fill="#6db24f"/>
<path d="M464.34 65.99L466.18 69.21L462.50 69.21Z" fill="#6db24f"/>
<path d="M459.86 67.26L461.70 70.48L458.02 70.48Z" fill="#6db24f"/>
<path d="M456.50 68.53L458.34 71.75L454.66 71.75Z" fill="#6db24f"/>
<path d="M463.22 70.44L465.06 73.66L461.38 73.66Z" fill="#6db24f"/>
<path d="M458.74 71.71L460.58 74.93L456.90 74.93Z" fill="#6db24f"/>
<path d="M477.70 63.32L479.54 60.10L475.86 60.10Z" fill="#6b2d6f"/>
<path d="M474.34 64.59L476.18 61.37L472.50 61.37Z" fill="#6b2d6f"/>
<path d="M472.10 67.77L473.94 64.55L470.26 64.55Z" fill="#6b2d6f"/>
<path d="M475.46 69.04L477.30 65.82L473.62 65.82Z" fill="#6b2d6f"/>
<path d="M479.94 70.31L481.78 67.09L478.10 67.09Z" fill="#6b2d6f"/>
<path d="M474.36 70.94L476.20 67.72L472.52 67.72Z" fill="#6b2d6f"/>
<path d="M483.30 72.21L485.14 68.99L481.46 68.99Z" fill="#6b2d6f"/>
<path d="M477.70 73.48L479.54 70.26L475.86 70.26Z" fill="#6b2d6f"/>
<path d="M474.34 74.75L476.18 71.53L472.50 71.53Z" fill="#6b2d6f"/>
<path d="M481.06 76.02L482.90 72.80L479.22 72.80Z" fill="#6b2d6f"/>
<line x1="423.80" y1="58.94" x2="435.80" y2="58.94" stroke="#1a1a1a" stroke-width="1.0"/>
<line x1="429.80" y1="55.13" x2="429.80" y2="62.75" stroke="#1a1a1a" stroke-width="0.9"/>
<line x1="426.60" y1="55.13" x2="433.00" y2="55.13" stroke="#1a1a1a" stroke-width="0.9"/>
<line x1="426.60" y1="62.75" x2="433.00" y2="62.75" stroke="#1a1a1a" stroke-width="0.9"/>
<line x1="440.00" y1="73.55" x2="452.00" y2="73.55" stroke="#1a1a1a" stroke-width="1.0"/>
<line x1="446.00" y1="68.47" x2="446.00" y2="78.62" stroke="#1a1a1a" stroke-width="0.9"/>
<line x1="442.80" y1="68.47" x2="449.20" y2="68.47" stroke="#1a1a1a" stroke-width="0.9"/>
<line x1="442.80" y1="78.62" x2="449.20" y2="78.62" stroke="#1a1a1a" stroke-width="0.9"/>
<line x1="456.10" y1="67.20" x2="468.10" y2="67.20" stroke="#1a1a1a" stroke-width="1.0"/>
<line x1="462.10" y1="62.75" x2="462.10" y2="71.64" stroke="#1a1a1a" stroke-width="0.9"/>
<line x1="458.90" y1="62.75" x2="465.30" y2="62.75" stroke="#1a1a1a" stroke-width="0.9"/>
<line x1="458.90" y1="71.64" x2="465.30" y2="71.64" stroke="#1a1a1a" stroke-width="0.9"/>
<line x1="471.70" y1="69.10" x2="483.70" y2="69.10" stroke="#1a1a1a" stroke-width="1.0"/>
<line x1="477.70" y1="64.66" x2="477.70" y2="72.91" stroke="#1a1a1a" stroke-width="0.9"/>
<line x1="474.50" y1="64.66" x2="480.90" y2="64.66" stroke="#1a1a1a" stroke-width="0.9"/>
<line x1="474.50" y1="72.91" x2="480.90" y2="72.91" stroke="#1a1a1a" stroke-width="0.9"/>
<line x1="429.40" y1="36.40" x2="479.00" y2="36.40" stroke="#444444" stroke-width="1.1"/>
<path d="M451.10 32.15L451.10 34.65M450.02 32.77L452.18 34.02M450.02 34.02L452.18 32.77M454.20 32.15L454.20 34.65M453.12 32.77L455.28 34.02M453.12 34.02L455.28 32.77M457.30 32.15L457.30 34.65M456.22 32.77L458.38 34.02M456.22 34.02L458.38 32.77" stroke="#333" stroke-width="0.75" fill="none"/>
<line x1="429.40" y1="42.50" x2="462.80" y2="42.50" stroke="#444444" stroke-width="1.1"/>
<path d="M446.10 38.25L446.10 40.75M445.02 38.88L447.18 40.12M445.02 40.12L447.18 38.88" stroke="#333" stroke-width="0.75" fill="none"/>
<line x1="429.40" y1="49.20" x2="445.80" y2="49.20" stroke="#444444" stroke-width="1.1"/>
<path d="M432.95 44.95L432.95 47.45M431.87 45.58L434.03 46.83M431.87 46.83L434.03 45.58M436.05 44.95L436.05 47.45M434.97 45.58L437.13 46.83M434.97 46.83L437.13 45.58M439.15 44.95L439.15 47.45M438.07 45.58L440.23 46.83M438.07 46.83L440.23 45.58M442.25 44.95L442.25 47.45M441.17 45.58L443.33 46.83M441.17 46.83L443.33 45.58" stroke="#333" stroke-width="0.75" fill="none"/>
<line x1="445.30" y1="54.90" x2="460.80" y2="54.90" stroke="#444444" stroke-width="1.1"/>
<path d="M451.50 50.65L451.50 53.15M450.42 51.27L452.58 52.52M450.42 52.52L452.58 51.27M454.60 50.65L454.60 53.15M453.52 51.27L455.68 52.52M453.52 52.52L455.68 51.27" stroke="#333" stroke-width="0.75" fill="none"/>
<text x="454.00" y="25.30" font-size="9.4" fill="#1a1a1a" stroke="#1a1a1a" stroke-width="0.22" text-anchor="middle" textLength="14.8" lengthAdjust="spacingAndGlyphs">RBC</text>
<text x="404.00" y="75.40" font-size="9.0" fill="#1a1a1a" stroke="#1a1a1a" stroke-width="0.22" text-anchor="middle" transform="rotate(-90 404.00 75.40)">10<tspan font-size="5.5" dy="-3">6</tspan><tspan dy="3">/uL</tspan></text>
<line x1="422.50" y1="163.80" x2="422.50" y2="230.10" stroke="#222222" stroke-width="1.2"/>
<line x1="422.00" y1="229.60" x2="485.00" y2="229.60" stroke="#222222" stroke-width="1.2"/>
<line x1="419.70" y1="229.60" x2="422.50" y2="229.60" stroke="#222222" stroke-width="1.0"/>
<text x="417.30" y="232.01" font-size="7.8" fill="#1a1a1a" stroke="#1a1a1a" stroke-width="0.22" text-anchor="end" textLength="4.08" lengthAdjust="spacingAndGlyphs">0</text>
<line x1="419.70" y1="208.90" x2="422.50" y2="208.90" stroke="#222222" stroke-width="1.0"/>
<text x="417.30" y="211.31" font-size="7.8" fill="#1a1a1a" stroke="#1a1a1a" stroke-width="0.22" text-anchor="end" textLength="4.08" lengthAdjust="spacingAndGlyphs">5</text>
<line x1="419.70" y1="188.20" x2="422.50" y2="188.20" stroke="#222222" stroke-width="1.0"/>
<text x="417.30" y="190.61" font-size="7.8" fill="#1a1a1a" stroke="#1a1a1a" stroke-width="0.22" text-anchor="end" textLength="8.15" lengthAdjust="spacingAndGlyphs">10</text>
<line x1="419.70" y1="167.50" x2="422.50" y2="167.50" stroke="#222222" stroke-width="1.0"/>
<text x="417.30" y="169.91" font-size="7.8" fill="#1a1a1a" stroke="#1a1a1a" stroke-width="0.22" text-anchor="end" textLength="8.15" lengthAdjust="spacingAndGlyphs">15</text>
<line x1="429.80" y1="229.60" x2="429.80" y2="232.10" stroke="#222222" stroke-width="1.0"/>
<text x="433.30" y="237.90" font-size="7.7" fill="#1a1a1a" stroke="#1a1a1a" stroke-width="0.22" text-anchor="end" textLength="19.2" lengthAdjust="spacingAndGlyphs" transform="rotate(-45 433.30 237.90)">Naive</text>
<line x1="446.00" y1="229.60" x2="446.00" y2="232.10" stroke="#222222" stroke-width="1.0"/>
<text x="449.50" y="237.90" font-size="7.7" fill="#1a1a1a" stroke="#1a1a1a" stroke-width="0.22" text-anchor="end" textLength="17.6" lengthAdjust="spacingAndGlyphs" transform="rotate(-45 449.50 237.90)">UnRx</text>
<line x1="462.10" y1="229.60" x2="462.10" y2="232.10" stroke="#222222" stroke-width="1.0"/>
<text x="465.60" y="237.90" font-size="7.7" fill="#1a1a1a" stroke="#1a1a1a" stroke-width="0.22" text-anchor="end" textLength="21.6" lengthAdjust="spacingAndGlyphs" transform="rotate(-45 465.60 237.90)">&#945;-IFN&#947;</text>
<line x1="476.50" y1="229.60" x2="476.50" y2="232.10" stroke="#222222" stroke-width="1.0"/>
<text x="480.00" y="237.90" font-size="7.7" fill="#1a1a1a" stroke="#1a1a1a" stroke-width="0.22" text-anchor="end" textLength="17.8" lengthAdjust="spacingAndGlyphs" transform="rotate(-45 480.00 237.90)">Ruxo</text>
<circle cx="429.80" cy="174.95" r="1.60" fill="#b4283b"/>
<circle cx="433.16" cy="177.44" r="1.60" fill="#b4283b"/>
<circle cx="429.80" cy="178.68" r="1.60" fill="#b4283b"/>
<circle cx="426.44" cy="179.92" r="1.60" fill="#b4283b"/>
<circle cx="435.40" cy="180.75" r="1.60" fill="#b4283b"/>
<circle cx="427.81" cy="181.58" r="1.60" fill="#b4283b"/>
<circle cx="432.04" cy="182.40" r="1.60" fill="#b4283b"/>
<circle cx="424.20" cy="183.23" r="1.60" fill="#b4283b"/>
<circle cx="433.26" cy="184.06" r="1.60" fill="#b4283b"/>
<rect x="449.04" y="189.66" width="2.88" height="2.88" fill="#355d93"/>
<rect x="441.20" y="190.90" width="2.88" height="2.88" fill="#355d93"/>
<rect x="444.56" y="192.56" width="2.88" height="2.88" fill="#355d93"/>
<rect x="438.96" y="194.21" width="2.88" height="2.88" fill="#355d93"/>
<rect x="447.92" y="195.04" width="2.88" height="2.88" fill="#355d93"/>
<rect x="442.32" y="195.87" width="2.88" height="2.88" fill="#355d93"/>
<rect x="445.36" y="197.11" width="2.88" height="2.88" fill="#355d93"/>
<rect x="438.96" y="198.35" width="2.88" height="2.88" fill="#355d93"/>
<rect x="442.32" y="199.59" width="2.88" height="2.88" fill="#355d93"/>
<rect x="443.44" y="203.73" width="2.88" height="2.88" fill="#355d93"/>
<path d="M460.98 181.39L462.82 184.61L459.14 184.61Z" fill="#6db24f"/>
<path d="M463.22 184.29L465.06 187.51L461.38 187.51Z" fill="#6db24f"/>
<path d="M466.58 186.36L468.42 189.58L464.74 189.58Z" fill="#6db24f"/>
<path d="M460.98 187.60L462.82 190.82L459.14 190.82Z" fill="#6db24f"/>
<path d="M457.62 188.84L459.46 192.06L455.78 192.06Z" fill="#6db24f"/>
<path d="M464.34 190.09L466.18 193.31L462.50 193.31Z" fill="#6db24f"/>
<path d="M463.69 190.91L465.53 194.13L461.85 194.13Z" fill="#6db24f"/>
<path d="M459.86 192.16L461.70 195.38L458.02 195.38Z" fill="#6db24f"/>
<path d="M465.46 194.64L467.30 197.86L463.62 197.86Z" fill="#6db24f"/>
<path d="M462.10 197.12L463.94 200.34L460.26 200.34Z" fill="#6db24f"/>
<path d="M479.86 187.56L481.70 184.34L478.02 184.34Z" fill="#6b2d6f"/>
<path d="M476.50 188.80L478.34 185.58L474.66 185.58Z" fill="#6b2d6f"/>
<path d="M473.14 190.45L474.98 187.23L471.30 187.23Z" fill="#6b2d6f"/>
<path d="M478.74 192.11L480.58 188.89L476.90 188.89Z" fill="#6b2d6f"/>
<path d="M470.90 193.35L472.74 190.13L469.06 190.13Z" fill="#6b2d6f"/>
<path d="M475.38 194.18L477.22 190.96L473.54 190.96Z" fill="#6b2d6f"/>
<path d="M480.98 195.42L482.82 192.20L479.14 192.20Z" fill="#6b2d6f"/>
<path d="M472.61 196.66L474.45 193.44L470.77 193.44Z" fill="#6b2d6f"/>
<path d="M476.50 198.32L478.34 195.10L474.66 195.10Z" fill="#6b2d6f"/>
<path d="M470.90 199.98L472.74 196.76L469.06 196.76Z" fill="#6b2d6f"/>
<line x1="423.80" y1="180.75" x2="435.80" y2="180.75" stroke="#1a1a1a" stroke-width="1.0"/>
<line x1="429.80" y1="178.26" x2="429.80" y2="183.23" stroke="#1a1a1a" stroke-width="0.9"/>
<line x1="426.60" y1="178.26" x2="433.00" y2="178.26" stroke="#1a1a1a" stroke-width="0.9"/>
<line x1="426.60" y1="183.23" x2="433.00" y2="183.23" stroke="#1a1a1a" stroke-width="0.9"/>
<line x1="440.00" y1="196.89" x2="452.00" y2="196.89" stroke="#1a1a1a" stroke-width="1.0"/>
<line x1="446.00" y1="194.00" x2="446.00" y2="200.21" stroke="#1a1a1a" stroke-width="0.9"/>
<line x1="442.80" y1="194.00" x2="449.20" y2="194.00" stroke="#1a1a1a" stroke-width="0.9"/>
<line x1="442.80" y1="200.21" x2="449.20" y2="200.21" stroke="#1a1a1a" stroke-width="0.9"/>
<line x1="456.10" y1="190.68" x2="468.10" y2="190.68" stroke="#1a1a1a" stroke-width="1.0"/>
<line x1="462.10" y1="187.37" x2="462.10" y2="194.00" stroke="#1a1a1a" stroke-width="0.9"/>
<line x1="458.90" y1="187.37" x2="465.30" y2="187.37" stroke="#1a1a1a" stroke-width="0.9"/>
<line x1="458.90" y1="194.00" x2="465.30" y2="194.00" stroke="#1a1a1a" stroke-width="0.9"/>
<line x1="470.50" y1="191.93" x2="482.50" y2="191.93" stroke="#1a1a1a" stroke-width="1.0"/>
<line x1="476.50" y1="189.03" x2="476.50" y2="194.82" stroke="#1a1a1a" stroke-width="0.9"/>
<line x1="473.30" y1="189.03" x2="479.70" y2="189.03" stroke="#1a1a1a" stroke-width="0.9"/>
<line x1="473.30" y1="194.82" x2="479.70" y2="194.82" stroke="#1a1a1a" stroke-width="0.9"/>
<line x1="428.50" y1="158.10" x2="481.00" y2="158.10" stroke="#444444" stroke-width="1.1"/>
<path d="M450.10 153.85L450.10 156.35M449.02 154.47L451.18 155.72M449.02 155.72L451.18 154.47M453.20 153.85L453.20 156.35M452.12 154.47L454.28 155.72M452.12 155.72L454.28 154.47M456.30 153.85L456.30 156.35M455.22 154.47L457.38 155.72M455.22 155.72L457.38 154.47M459.40 153.85L459.40 156.35M458.32 154.47L460.48 155.72M458.32 155.72L460.48 154.47" stroke="#333" stroke-width="0.75" fill="none"/>
<line x1="428.50" y1="164.20" x2="462.70" y2="164.20" stroke="#444444" stroke-width="1.1"/>
<path d="M442.50 159.95L442.50 162.45M441.42 160.57L443.58 161.82M441.42 161.82L443.58 160.57M445.60 159.95L445.60 162.45M444.52 160.57L446.68 161.82M444.52 161.82L446.68 160.57M448.70 159.95L448.70 162.45M447.62 160.57L449.78 161.82M447.62 161.82L449.78 160.57" stroke="#333" stroke-width="0.75" fill="none"/>
<line x1="428.50" y1="170.90" x2="444.60" y2="170.90" stroke="#444444" stroke-width="1.1"/>
<path d="M431.90 166.65L431.90 169.15M430.82 167.28L432.98 168.53M430.82 168.53L432.98 167.28M435.00 166.65L435.00 169.15M433.92 167.28L436.08 168.53M433.92 168.53L436.08 167.28M438.10 166.65L438.10 169.15M437.02 167.28L439.18 168.53M437.02 168.53L439.18 167.28M441.20 166.65L441.20 169.15M440.12 167.28L442.28 168.53M440.12 168.53L442.28 167.28" stroke="#333" stroke-width="0.75" fill="none"/>
<line x1="449.50" y1="170.90" x2="476.40" y2="170.90" stroke="#444444" stroke-width="1.1"/>
<path d="M462.95 166.65L462.95 169.15M461.87 167.28L464.03 168.53M461.87 168.53L464.03 167.28" stroke="#333" stroke-width="0.75" fill="none"/>
<line x1="446.00" y1="179.00" x2="462.70" y2="179.00" stroke="#444444" stroke-width="1.1"/>
<path d="M452.80 174.75L452.80 177.25M451.72 175.38L453.88 176.62M451.72 176.62L453.88 175.38M455.90 174.75L455.90 177.25M454.82 175.38L456.98 176.62M454.82 176.62L456.98 175.38" stroke="#333" stroke-width="0.75" fill="none"/>
<text x="453.20" y="147.80" font-size="9.4" fill="#1a1a1a" stroke="#1a1a1a" stroke-width="0.22" text-anchor="middle">Hb</text>
<text x="403.50" y="197.30" font-size="9.0" fill="#1a1a1a" stroke="#1a1a1a" stroke-width="0.22" text-anchor="middle" transform="rotate(-90 403.50 197.30)">g/dL</text>
<line x1="46.25" y1="199.50" x2="46.25" y2="274.25" stroke="#222222" stroke-width="1.2"/>
<line x1="45.75" y1="273.75" x2="118.00" y2="273.75" stroke="#222222" stroke-width="1.2"/>
<line x1="43.45" y1="269.50" x2="46.25" y2="269.50" stroke="#222222" stroke-width="1.0"/>
<text x="41.05" y="271.91" font-size="7.8" fill="#1a1a1a" stroke="#1a1a1a" stroke-width="0.22" text-anchor="end" textLength="4.08" lengthAdjust="spacingAndGlyphs">0</text>
<line x1="43.45" y1="246.80" x2="46.25" y2="246.80" stroke="#222222" stroke-width="1.0"/>
<text x="41.05" y="249.21" font-size="7.8" fill="#1a1a1a" stroke="#1a1a1a" stroke-width="0.22" text-anchor="end" textLength="16.31" lengthAdjust="spacingAndGlyphs">1000</text>
<line x1="43.45" y1="224.10" x2="46.25" y2="224.10" stroke="#222222" stroke-width="1.0"/>
<text x="41.05" y="226.51" font-size="7.8" fill="#1a1a1a" stroke="#1a1a1a" stroke-width="0.22" text-anchor="end" textLength="16.31" lengthAdjust="spacingAndGlyphs">2000</text>
<line x1="43.45" y1="201.40" x2="46.25" y2="201.40" stroke="#222222" stroke-width="1.0"/>
<text x="41.05" y="203.81" font-size="7.8" fill="#1a1a1a" stroke="#1a1a1a" stroke-width="0.22" text-anchor="end" textLength="16.31" lengthAdjust="spacingAndGlyphs">3000</text>
<line x1="55.00" y1="273.75" x2="55.00" y2="276.25" stroke="#222222" stroke-width="1.0"/>
<text x="58.50" y="282.05" font-size="7.7" fill="#1a1a1a" stroke="#1a1a1a" stroke-width="0.22" text-anchor="end" textLength="19.2" lengthAdjust="spacingAndGlyphs" transform="rotate(-45 58.50 282.05)">Naive</text>
<line x1="73.00" y1="273.75" x2="73.00" y2="276.25" stroke="#222222" stroke-width="1.0"/>
<text x="76.50" y="282.05" font-size="7.7" fill="#1a1a1a" stroke="#1a1a1a" stroke-width="0.22" text-anchor="end" textLength="17.6" lengthAdjust="spacingAndGlyphs" transform="rotate(-45 76.50 282.05)">UnRx</text>
<line x1="91.25" y1="273.75" x2="91.25" y2="276.25" stroke="#222222" stroke-width="1.0"/>
<text x="94.75" y="282.05" font-size="7.7" fill="#1a1a1a" stroke="#1a1a1a" stroke-width="0.22" text-anchor="end" textLength="21.6" lengthAdjust="spacingAndGlyphs" transform="rotate(-45 94.75 282.05)">&#945;-IFN&#947;</text>
<line x1="109.25" y1="273.75" x2="109.25" y2="276.25" stroke="#222222" stroke-width="1.0"/>
<text x="112.75" y="282.05" font-size="7.7" fill="#1a1a1a" stroke="#1a1a1a" stroke-width="0.22" text-anchor="end" textLength="17.8" lengthAdjust="spacingAndGlyphs" transform="rotate(-45 112.75 282.05)">Ruxo</text>
<circle cx="49.80" cy="269.50" r="1.60" fill="#b4283b"/>
<circle cx="51.53" cy="269.50" r="1.60" fill="#b4283b"/>
<circle cx="53.27" cy="269.50" r="1.60" fill="#b4283b"/>
<circle cx="55.00" cy="269.50" r="1.60" fill="#b4283b"/>
<circle cx="56.73" cy="269.50" r="1.60" fill="#b4283b"/>
<circle cx="58.47" cy="269.50" r="1.60" fill="#b4283b"/>
<circle cx="60.20" cy="269.50" r="1.60" fill="#b4283b"/>
<circle cx="50.60" cy="268.48" r="1.60" fill="#b4283b"/>
<circle cx="52.33" cy="268.48" r="1.60" fill="#b4283b"/>
<circle cx="54.07" cy="268.48" r="1.60" fill="#b4283b"/>
<circle cx="55.80" cy="268.48" r="1.60" fill="#b4283b"/>
<circle cx="57.53" cy="268.48" r="1.60" fill="#b4283b"/>
<circle cx="59.27" cy="268.48" r="1.60" fill="#b4283b"/>
<circle cx="61.00" cy="268.48" r="1.60" fill="#b4283b"/>
<rect x="70.44" y="223.11" width="2.88" height="2.88" fill="#355d93"/>
<rect x="67.08" y="236.28" width="2.88" height="2.88" fill="#355d93"/>
<rect x="70.44" y="238.55" width="2.88" height="2.88" fill="#355d93"/>
<rect x="67.08" y="240.82" width="2.88" height="2.88" fill="#355d93"/>
<rect x="68.20" y="254.44" width="2.88" height="2.88" fill="#355d93"/>
<rect x="70.44" y="258.98" width="2.88" height="2.88" fill="#355d93"/>
<rect x="67.08" y="261.25" width="2.88" height="2.88" fill="#355d93"/>
<rect x="74.92" y="264.66" width="2.88" height="2.88" fill="#355d93"/>
<rect x="71.56" y="265.79" width="2.88" height="2.88" fill="#355d93"/>
<rect x="68.20" y="266.93" width="2.88" height="2.88" fill="#355d93"/>
<rect x="77.16" y="267.38" width="2.88" height="2.88" fill="#355d93"/>
<path d="M90.13 235.88L91.97 239.10L88.29 239.10Z" fill="#6db24f"/>
<path d="M86.77 237.02L88.61 240.24L84.93 240.24Z" fill="#6db24f"/>
<path d="M93.49 238.15L95.33 241.37L91.65 241.37Z" fill="#6db24f"/>
<path d="M94.61 242.69L96.45 245.91L92.77 245.91Z" fill="#6db24f"/>
<path d="M95.73 247.23L97.57 250.45L93.89 250.45Z" fill="#6db24f"/>
<path d="M91.25 249.50L93.09 252.72L89.41 252.72Z" fill="#6db24f"/>
<path d="M87.89 251.77L89.73 254.99L86.05 254.99Z" fill="#6db24f"/>
<path d="M91.25 254.04L93.09 257.26L89.41 257.26Z" fill="#6db24f"/>
<path d="M87.89 256.31L89.73 259.53L86.05 259.53Z" fill="#6db24f"/>
<path d="M92.37 257.45L94.21 260.67L90.53 260.67Z" fill="#6db24f"/>
<path d="M89.01 259.72L90.85 262.94L87.17 262.94Z" fill="#6db24f"/>
<path d="M94.61 260.85L96.45 264.07L92.77 264.07Z" fill="#6db24f"/>
<path d="M105.89 264.98L107.73 261.76L104.05 261.76Z" fill="#6b2d6f"/>
<path d="M110.37 265.44L112.21 262.22L108.53 262.22Z" fill="#6b2d6f"/>
<path d="M114.85 265.66L116.69 262.44L113.01 262.44Z" fill="#6b2d6f"/>
<path d="M109.50 266.80L111.34 263.58L107.66 263.58Z" fill="#6b2d6f"/>
<path d="M103.65 267.94L105.49 264.72L101.81 264.72Z" fill="#6b2d6f"/>
<path d="M112.61 268.62L114.45 265.40L110.77 265.40Z" fill="#6b2d6f"/>
<path d="M104.99 269.07L106.83 265.85L103.15 265.85Z" fill="#6b2d6f"/>
<path d="M109.50 269.52L111.34 266.30L107.66 266.30Z" fill="#6b2d6f"/>
<path d="M113.56 269.98L115.40 266.76L111.72 266.76Z" fill="#6b2d6f"/>
<path d="M112.52 270.43L114.36 267.21L110.68 267.21Z" fill="#6b2d6f"/>
<line x1="49.00" y1="269.27" x2="61.00" y2="269.27" stroke="#1a1a1a" stroke-width="1.0"/>
<line x1="55.00" y1="269.05" x2="55.00" y2="269.50" stroke="#1a1a1a" stroke-width="0.9"/>
<line x1="51.80" y1="269.05" x2="58.20" y2="269.05" stroke="#1a1a1a" stroke-width="0.9"/>
<line x1="51.80" y1="269.50" x2="58.20" y2="269.50" stroke="#1a1a1a" stroke-width="0.9"/>
<line x1="67.00" y1="255.43" x2="79.00" y2="255.43" stroke="#1a1a1a" stroke-width="1.0"/>
<line x1="73.00" y1="239.99" x2="73.00" y2="270.86" stroke="#1a1a1a" stroke-width="0.9"/>
<line x1="69.80" y1="239.99" x2="76.20" y2="239.99" stroke="#1a1a1a" stroke-width="0.9"/>
<line x1="69.80" y1="270.86" x2="76.20" y2="270.86" stroke="#1a1a1a" stroke-width="0.9"/>
<line x1="85.25" y1="253.61" x2="97.25" y2="253.61" stroke="#1a1a1a" stroke-width="1.0"/>
<line x1="91.25" y1="244.98" x2="91.25" y2="262.69" stroke="#1a1a1a" stroke-width="0.9"/>
<line x1="88.05" y1="244.98" x2="94.45" y2="244.98" stroke="#1a1a1a" stroke-width="0.9"/>
<line x1="88.05" y1="262.69" x2="94.45" y2="262.69" stroke="#1a1a1a" stroke-width="0.9"/>
<line x1="103.25" y1="266.78" x2="115.25" y2="266.78" stroke="#1a1a1a" stroke-width="1.0"/>
<line x1="109.25" y1="263.82" x2="109.25" y2="269.50" stroke="#1a1a1a" stroke-width="0.9"/>
<line x1="106.05" y1="263.82" x2="112.45" y2="263.82" stroke="#1a1a1a" stroke-width="0.9"/>
<line x1="106.05" y1="269.50" x2="112.45" y2="269.50" stroke="#1a1a1a" stroke-width="0.9"/>
<line x1="52.50" y1="203.00" x2="90.75" y2="203.00" stroke="#444444" stroke-width="1.1"/>
<path d="M68.53 198.75L68.53 201.25M67.44 199.38L69.61 200.62M67.44 200.62L69.61 199.38M71.62 198.75L71.62 201.25M70.54 199.38L72.71 200.62M70.54 200.62L72.71 199.38M74.73 198.75L74.73 201.25M73.64 199.38L75.81 200.62M73.64 200.62L75.81 199.38" stroke="#333" stroke-width="0.75" fill="none"/>
<line x1="52.50" y1="219.50" x2="72.00" y2="219.50" stroke="#444444" stroke-width="1.1"/>
<path d="M60.70 215.25L60.70 217.75M59.62 215.88L61.78 217.12M59.62 217.12L61.78 215.88M63.80 215.25L63.80 217.75M62.72 215.88L64.88 217.12M62.72 217.12L64.88 215.88" stroke="#333" stroke-width="0.75" fill="none"/>
<line x1="74.00" y1="213.25" x2="108.00" y2="213.25" stroke="#444444" stroke-width="1.1"/>
<path d="M91.00 209.00L91.00 211.50M89.92 209.62L92.08 210.88M89.92 210.88L92.08 209.62" stroke="#333" stroke-width="0.75" fill="none"/>
<line x1="89.25" y1="231.50" x2="110.00" y2="231.50" stroke="#444444" stroke-width="1.1"/>
<path d="M98.08 227.25L98.08 229.75M96.99 227.88L99.16 229.12M96.99 229.12L99.16 227.88M101.17 227.25L101.17 229.75M100.09 227.88L102.26 229.12M100.09 229.12L102.26 227.88" stroke="#333" stroke-width="0.75" fill="none"/>
<text x="81.50" y="173.80" font-size="9.4" fill="#1a1a1a" stroke="#1a1a1a" stroke-width="0.22" text-anchor="middle" textLength="18.6" lengthAdjust="spacingAndGlyphs">IFN&#947;</text>
<text x="17.40" y="237.00" font-size="9.0" fill="#1a1a1a" stroke="#1a1a1a" stroke-width="0.22" text-anchor="middle" textLength="25.4" lengthAdjust="spacingAndGlyphs" transform="rotate(-90 17.40 237.00)">pg/mL</text>
<line x1="164.25" y1="199.50" x2="164.25" y2="274.25" stroke="#222222" stroke-width="1.2"/>
<line x1="163.75" y1="273.75" x2="235.75" y2="273.75" stroke="#222222" stroke-width="1.2"/>
<line x1="161.45" y1="274.25" x2="164.25" y2="274.25" stroke="#222222" stroke-width="1.0"/>
<text x="159.05" y="276.66" font-size="7.8" fill="#1a1a1a" stroke="#1a1a1a" stroke-width="0.22" text-anchor="end" textLength="4.08" lengthAdjust="spacingAndGlyphs">0</text>
<line x1="161.45" y1="259.75" x2="164.25" y2="259.75" stroke="#222222" stroke-width="1.0"/>
<text x="159.05" y="262.16" font-size="7.8" fill="#1a1a1a" stroke="#1a1a1a" stroke-width="0.22" text-anchor="end" textLength="12.23" lengthAdjust="spacingAndGlyphs">200</text>
<line x1="161.45" y1="245.25" x2="164.25" y2="245.25" stroke="#222222" stroke-width="1.0"/>
<text x="159.05" y="247.66" font-size="7.8" fill="#1a1a1a" stroke="#1a1a1a" stroke-width="0.22" text-anchor="end" textLength="12.23" lengthAdjust="spacingAndGlyphs">400</text>
<line x1="161.45" y1="230.75" x2="164.25" y2="230.75" stroke="#222222" stroke-width="1.0"/>
<text x="159.05" y="233.16" font-size="7.8" fill="#1a1a1a" stroke="#1a1a1a" stroke-width="0.22" text-anchor="end" textLength="12.23" lengthAdjust="spacingAndGlyphs">600</text>
<line x1="161.45" y1="216.25" x2="164.25" y2="216.25" stroke="#222222" stroke-width="1.0"/>
<text x="159.05" y="218.66" font-size="7.8" fill="#1a1a1a" stroke="#1a1a1a" stroke-width="0.22" text-anchor="end" textLength="12.23" lengthAdjust="spacingAndGlyphs">800</text>
<line x1="161.45" y1="201.75" x2="164.25" y2="201.75" stroke="#222222" stroke-width="1.0"/>
<text x="159.05" y="204.16" font-size="7.8" fill="#1a1a1a" stroke="#1a1a1a" stroke-width="0.22" text-anchor="end" textLength="16.31" lengthAdjust="spacingAndGlyphs">1000</text>
<line x1="172.80" y1="273.75" x2="172.80" y2="276.25" stroke="#222222" stroke-width="1.0"/>
<text x="176.30" y="282.05" font-size="7.7" fill="#1a1a1a" stroke="#1a1a1a" stroke-width="0.22" text-anchor="end" textLength="19.2" lengthAdjust="spacingAndGlyphs" transform="rotate(-45 176.30 282.05)">Naive</text>
<line x1="191.25" y1="273.75" x2="191.25" y2="276.25" stroke="#222222" stroke-width="1.0"/>
<text x="194.75" y="282.05" font-size="7.7" fill="#1a1a1a" stroke="#1a1a1a" stroke-width="0.22" text-anchor="end" textLength="17.6" lengthAdjust="spacingAndGlyphs" transform="rotate(-45 194.75 282.05)">UnRx</text>
<line x1="209.25" y1="273.75" x2="209.25" y2="276.25" stroke="#222222" stroke-width="1.0"/>
<text x="212.75" y="282.05" font-size="7.7" fill="#1a1a1a" stroke="#1a1a1a" stroke-width="0.22" text-anchor="end" textLength="21.6" lengthAdjust="spacingAndGlyphs" transform="rotate(-45 212.75 282.05)">&#945;-IFN&#947;</text>
<line x1="227.30" y1="273.75" x2="227.30" y2="276.25" stroke="#222222" stroke-width="1.0"/>
<text x="230.80" y="282.05" font-size="7.7" fill="#1a1a1a" stroke="#1a1a1a" stroke-width="0.22" text-anchor="end" textLength="17.8" lengthAdjust="spacingAndGlyphs" transform="rotate(-45 230.80 282.05)">Ruxo</text>
<circle cx="167.80" cy="273.16" r="1.60" fill="#b4283b"/>
<circle cx="170.30" cy="273.16" r="1.60" fill="#b4283b"/>
<circle cx="172.80" cy="273.16" r="1.60" fill="#b4283b"/>
<circle cx="175.30" cy="273.16" r="1.60" fill="#b4283b"/>
<circle cx="177.80" cy="273.16" r="1.60" fill="#b4283b"/>
<circle cx="168.60" cy="270.62" r="1.60" fill="#b4283b"/>
<circle cx="171.10" cy="270.62" r="1.60" fill="#b4283b"/>
<circle cx="173.60" cy="270.62" r="1.60" fill="#b4283b"/>
<circle cx="176.10" cy="270.62" r="1.60" fill="#b4283b"/>
<circle cx="178.60" cy="270.62" r="1.60" fill="#b4283b"/>
<rect x="192.05" y="213.36" width="2.88" height="2.88" fill="#355d93"/>
<rect x="187.57" y="214.81" width="2.88" height="2.88" fill="#355d93"/>
<rect x="188.69" y="223.51" width="2.88" height="2.88" fill="#355d93"/>
<rect x="186.45" y="229.31" width="2.88" height="2.88" fill="#355d93"/>
<rect x="192.05" y="231.49" width="2.88" height="2.88" fill="#355d93"/>
<rect x="188.69" y="232.94" width="2.88" height="2.88" fill="#355d93"/>
<rect x="195.41" y="233.66" width="2.88" height="2.88" fill="#355d93"/>
<rect x="185.33" y="235.11" width="2.88" height="2.88" fill="#355d93"/>
<rect x="187.57" y="238.01" width="2.88" height="2.88" fill="#355d93"/>
<rect x="193.17" y="242.36" width="2.88" height="2.88" fill="#355d93"/>
<rect x="189.81" y="243.81" width="2.88" height="2.88" fill="#355d93"/>
<rect x="193.17" y="247.44" width="2.88" height="2.88" fill="#355d93"/>
<path d="M211.49 249.94L213.33 253.16L209.65 253.16Z" fill="#6db24f"/>
<path d="M212.61 255.73L214.45 258.95L210.77 258.95Z" fill="#6db24f"/>
<path d="M209.25 257.91L211.09 261.13L207.41 261.13Z" fill="#6db24f"/>
<path d="M205.89 260.09L207.73 263.31L204.05 263.31Z" fill="#6db24f"/>
<path d="M209.25 261.54L211.09 264.75L207.41 264.75Z" fill="#6db24f"/>
<path d="M213.73 262.26L215.57 265.48L211.89 265.48Z" fill="#6db24f"/>
<path d="M204.77 263.71L206.61 266.93L202.93 266.93Z" fill="#6db24f"/>
<path d="M208.13 265.16L209.97 268.38L206.29 268.38Z" fill="#6db24f"/>
<path d="M211.49 266.61L213.33 269.83L209.65 269.83Z" fill="#6db24f"/>
<path d="M205.89 268.06L207.73 271.28L204.05 271.28Z" fill="#6db24f"/>
<path d="M229.54 216.64L231.38 213.42L227.70 213.42Z" fill="#6b2d6f"/>
<path d="M231.78 231.14L233.62 227.92L229.94 227.92Z" fill="#6b2d6f"/>
<path d="M227.30 242.02L229.14 238.80L225.46 238.80Z" fill="#6b2d6f"/>
<path d="M231.78 247.09L233.62 243.87L229.94 243.87Z" fill="#6b2d6f"/>
<path d="M231.78 252.16L233.62 248.94L229.94 248.94Z" fill="#6b2d6f"/>
<path d="M231.78 255.79L233.62 252.57L229.94 252.57Z" fill="#6b2d6f"/>
<path d="M226.18 259.41L228.02 256.19L224.34 256.19Z" fill="#6b2d6f"/>
<path d="M222.82 261.59L224.66 258.37L220.98 258.37Z" fill="#6b2d6f"/>
<path d="M225.06 265.21L226.90 262.00L223.22 262.00Z" fill="#6b2d6f"/>
<path d="M225.06 268.84L226.90 265.62L223.22 265.62Z" fill="#6b2d6f"/>
<path d="M221.70 270.29L223.54 267.07L219.86 267.07Z" fill="#6b2d6f"/>
<line x1="166.80" y1="272.07" x2="178.80" y2="272.07" stroke="#1a1a1a" stroke-width="1.0"/>
<line x1="172.80" y1="270.62" x2="172.80" y2="273.52" stroke="#1a1a1a" stroke-width="0.9"/>
<line x1="169.60" y1="270.62" x2="176.00" y2="270.62" stroke="#1a1a1a" stroke-width="0.9"/>
<line x1="169.60" y1="273.52" x2="176.00" y2="273.52" stroke="#1a1a1a" stroke-width="0.9"/>
<line x1="185.25" y1="234.38" x2="197.25" y2="234.38" stroke="#1a1a1a" stroke-width="1.0"/>
<line x1="191.25" y1="223.50" x2="191.25" y2="245.25" stroke="#1a1a1a" stroke-width="0.9"/>
<line x1="188.05" y1="223.50" x2="194.45" y2="223.50" stroke="#1a1a1a" stroke-width="0.9"/>
<line x1="188.05" y1="245.25" x2="194.45" y2="245.25" stroke="#1a1a1a" stroke-width="0.9"/>
<line x1="203.25" y1="263.74" x2="215.25" y2="263.74" stroke="#1a1a1a" stroke-width="1.0"/>
<line x1="209.25" y1="258.30" x2="209.25" y2="269.18" stroke="#1a1a1a" stroke-width="0.9"/>
<line x1="206.05" y1="258.30" x2="212.45" y2="258.30" stroke="#1a1a1a" stroke-width="0.9"/>
<line x1="206.05" y1="269.18" x2="212.45" y2="269.18" stroke="#1a1a1a" stroke-width="0.9"/>
<line x1="221.30" y1="253.22" x2="233.30" y2="253.22" stroke="#1a1a1a" stroke-width="1.0"/>
<line x1="227.30" y1="237.28" x2="227.30" y2="269.18" stroke="#1a1a1a" stroke-width="0.9"/>
<line x1="224.10" y1="237.28" x2="230.50" y2="237.28" stroke="#1a1a1a" stroke-width="0.9"/>
<line x1="224.10" y1="269.18" x2="230.50" y2="269.18" stroke="#1a1a1a" stroke-width="0.9"/>
<line x1="175.00" y1="185.75" x2="226.75" y2="185.75" stroke="#444444" stroke-width="1.1"/>
<path d="M197.78 181.50L197.78 184.00M196.69 182.12L198.86 183.38M196.69 183.38L198.86 182.12M200.88 181.50L200.88 184.00M199.79 182.12L201.96 183.38M199.79 183.38L201.96 182.12M203.97 181.50L203.97 184.00M202.89 182.12L205.06 183.38M202.89 183.38L205.06 182.12" stroke="#333" stroke-width="0.75" fill="none"/>
<line x1="190.75" y1="193.00" x2="226.75" y2="193.00" stroke="#444444" stroke-width="1.1"/>
<path d="M205.65 188.75L205.65 191.25M204.57 189.38L206.73 190.62M204.57 190.62L206.73 189.38M208.75 188.75L208.75 191.25M207.67 189.38L209.83 190.62M207.67 190.62L209.83 189.38M211.85 188.75L211.85 191.25M210.77 189.38L212.93 190.62M210.77 190.62L212.93 189.38" stroke="#333" stroke-width="0.75" fill="none"/>
<line x1="191.25" y1="206.50" x2="207.50" y2="206.50" stroke="#444444" stroke-width="1.1"/>
<path d="M194.72 202.25L194.72 204.75M193.64 202.88L195.81 204.12M193.64 204.12L195.81 202.88M197.82 202.25L197.82 204.75M196.74 202.88L198.91 204.12M196.74 204.12L198.91 202.88M200.92 202.25L200.92 204.75M199.84 202.88L202.01 204.12M199.84 204.12L202.01 202.88M204.03 202.25L204.03 204.75M202.94 202.88L205.11 204.12M202.94 204.12L205.11 202.88" stroke="#333" stroke-width="0.75" fill="none"/>
<line x1="175.00" y1="211.50" x2="190.50" y2="211.50" stroke="#444444" stroke-width="1.1"/>
<path d="M178.10 207.25L178.10 209.75M177.02 207.88L179.18 209.12M177.02 209.12L179.18 207.88M181.20 207.25L181.20 209.75M180.12 207.88L182.28 209.12M180.12 209.12L182.28 207.88M184.30 207.25L184.30 209.75M183.22 207.88L185.38 209.12M183.22 209.12L185.38 207.88M187.40 207.25L187.40 209.75M186.32 207.88L188.48 209.12M186.32 209.12L188.48 207.88" stroke="#333" stroke-width="0.75" fill="none"/>
<line x1="211.25" y1="212.50" x2="225.50" y2="212.50" stroke="#444444" stroke-width="1.1"/>
<path d="M218.38 208.25L218.38 210.75M217.29 208.88L219.46 210.12M217.29 210.12L219.46 208.88" stroke="#333" stroke-width="0.75" fill="none"/>
<text x="200.20" y="174.30" font-size="9.4" fill="#1a1a1a" stroke="#1a1a1a" stroke-width="0.22" text-anchor="middle" textLength="26.0" lengthAdjust="spacingAndGlyphs">CXCL9</text>
<text x="135.30" y="236.90" font-size="9.0" fill="#1a1a1a" stroke="#1a1a1a" stroke-width="0.22" text-anchor="middle" textLength="25.4" lengthAdjust="spacingAndGlyphs" transform="rotate(-90 135.30 236.90)">pg/mL</text>
<line x1="282.50" y1="199.50" x2="282.50" y2="274.25" stroke="#222222" stroke-width="1.2"/>
<line x1="282.00" y1="273.75" x2="353.75" y2="273.75" stroke="#222222" stroke-width="1.2"/>
<line x1="279.70" y1="274.00" x2="282.50" y2="274.00" stroke="#222222" stroke-width="1.0"/>
<text x="277.30" y="276.41" font-size="7.8" fill="#1a1a1a" stroke="#1a1a1a" stroke-width="0.22" text-anchor="end" textLength="4.08" lengthAdjust="spacingAndGlyphs">0</text>
<line x1="279.70" y1="259.50" x2="282.50" y2="259.50" stroke="#222222" stroke-width="1.0"/>
<text x="277.30" y="261.91" font-size="7.8" fill="#1a1a1a" stroke="#1a1a1a" stroke-width="0.22" text-anchor="end" textLength="16.31" lengthAdjust="spacingAndGlyphs">1000</text>
<line x1="279.70" y1="245.00" x2="282.50" y2="245.00" stroke="#222222" stroke-width="1.0"/>
<text x="277.30" y="247.41" font-size="7.8" fill="#1a1a1a" stroke="#1a1a1a" stroke-width="0.22" text-anchor="end" textLength="16.31" lengthAdjust="spacingAndGlyphs">2000</text>
<line x1="279.70" y1="230.50" x2="282.50" y2="230.50" stroke="#222222" stroke-width="1.0"/>
<text x="277.30" y="232.91" font-size="7.8" fill="#1a1a1a" stroke="#1a1a1a" stroke-width="0.22" text-anchor="end" textLength="16.31" lengthAdjust="spacingAndGlyphs">3000</text>
<line x1="279.70" y1="216.00" x2="282.50" y2="216.00" stroke="#222222" stroke-width="1.0"/>
<text x="277.30" y="218.41" font-size="7.8" fill="#1a1a1a" stroke="#1a1a1a" stroke-width="0.22" text-anchor="end" textLength="16.31" lengthAdjust="spacingAndGlyphs">4000</text>
<line x1="279.70" y1="201.50" x2="282.50" y2="201.50" stroke="#222222" stroke-width="1.0"/>
<text x="277.30" y="203.91" font-size="7.8" fill="#1a1a1a" stroke="#1a1a1a" stroke-width="0.22" text-anchor="end" textLength="16.31" lengthAdjust="spacingAndGlyphs">5000</text>
<line x1="291.00" y1="273.75" x2="291.00" y2="276.25" stroke="#222222" stroke-width="1.0"/>
<text x="294.50" y="282.05" font-size="7.7" fill="#1a1a1a" stroke="#1a1a1a" stroke-width="0.22" text-anchor="end" textLength="19.2" lengthAdjust="spacingAndGlyphs" transform="rotate(-45 294.50 282.05)">Naive</text>
<line x1="309.40" y1="273.75" x2="309.40" y2="276.25" stroke="#222222" stroke-width="1.0"/>
<text x="312.90" y="282.05" font-size="7.7" fill="#1a1a1a" stroke="#1a1a1a" stroke-width="0.22" text-anchor="end" textLength="17.6" lengthAdjust="spacingAndGlyphs" transform="rotate(-45 312.90 282.05)">UnRx</text>
<line x1="327.50" y1="273.75" x2="327.50" y2="276.25" stroke="#222222" stroke-width="1.0"/>
<text x="331.00" y="282.05" font-size="7.7" fill="#1a1a1a" stroke="#1a1a1a" stroke-width="0.22" text-anchor="end" textLength="21.6" lengthAdjust="spacingAndGlyphs" transform="rotate(-45 331.00 282.05)">&#945;-IFN&#947;</text>
<line x1="345.75" y1="273.75" x2="345.75" y2="276.25" stroke="#222222" stroke-width="1.0"/>
<text x="349.25" y="282.05" font-size="7.7" fill="#1a1a1a" stroke="#1a1a1a" stroke-width="0.22" text-anchor="end" textLength="17.8" lengthAdjust="spacingAndGlyphs" transform="rotate(-45 349.25 282.05)">Ruxo</text>
<circle cx="291.00" cy="267.91" r="1.60" fill="#b4283b"/>
<circle cx="286.20" cy="271.39" r="1.60" fill="#b4283b"/>
<circle cx="288.60" cy="271.39" r="1.60" fill="#b4283b"/>
<circle cx="291.00" cy="271.39" r="1.60" fill="#b4283b"/>
<circle cx="293.40" cy="271.39" r="1.60" fill="#b4283b"/>
<circle cx="295.80" cy="271.39" r="1.60" fill="#b4283b"/>
<circle cx="287.00" cy="269.21" r="1.60" fill="#b4283b"/>
<circle cx="289.40" cy="269.21" r="1.60" fill="#b4283b"/>
<circle cx="291.80" cy="269.21" r="1.60" fill="#b4283b"/>
<circle cx="294.20" cy="269.21" r="1.60" fill="#b4283b"/>
<circle cx="296.60" cy="269.21" r="1.60" fill="#b4283b"/>
<rect x="309.08" y="213.11" width="2.88" height="2.88" fill="#355d93"/>
<rect x="311.32" y="242.11" width="2.88" height="2.88" fill="#355d93"/>
<rect x="306.84" y="242.84" width="2.88" height="2.88" fill="#355d93"/>
<rect x="302.36" y="243.56" width="2.88" height="2.88" fill="#355d93"/>
<rect x="309.08" y="246.46" width="2.88" height="2.88" fill="#355d93"/>
<rect x="312.44" y="247.91" width="2.88" height="2.88" fill="#355d93"/>
<rect x="304.60" y="250.81" width="2.88" height="2.88" fill="#355d93"/>
<rect x="309.08" y="255.16" width="2.88" height="2.88" fill="#355d93"/>
<rect x="311.32" y="272.56" width="2.88" height="2.88" fill="#355d93"/>
<rect x="306.84" y="272.56" width="2.88" height="2.88" fill="#355d93"/>
<rect x="302.36" y="272.56" width="2.88" height="2.88" fill="#355d93"/>
<path d="M327.50 234.46L329.34 237.68L325.66 237.68Z" fill="#6db24f"/>
<path d="M324.14 240.26L325.98 243.48L322.30 243.48Z" fill="#6db24f"/>
<path d="M329.74 246.06L331.58 249.28L327.90 249.28Z" fill="#6db24f"/>
<path d="M326.38 250.41L328.22 253.63L324.54 253.63Z" fill="#6db24f"/>
<path d="M329.74 253.31L331.58 256.53L327.90 256.53Z" fill="#6db24f"/>
<path d="M331.98 256.21L333.82 259.43L330.14 259.43Z" fill="#6db24f"/>
<path d="M326.38 259.11L328.22 262.33L324.54 262.33Z" fill="#6db24f"/>
<path d="M329.74 260.56L331.58 263.78L327.90 263.78Z" fill="#6db24f"/>
<path d="M333.10 262.01L334.94 265.23L331.26 265.23Z" fill="#6db24f"/>
<path d="M327.50 263.46L329.34 266.68L325.66 266.68Z" fill="#6db24f"/>
<path d="M324.14 264.91L325.98 268.13L322.30 268.13Z" fill="#6db24f"/>
<path d="M342.39 243.94L344.23 240.72L340.55 240.72Z" fill="#6b2d6f"/>
<path d="M342.39 255.54L344.23 252.32L340.55 252.32Z" fill="#6b2d6f"/>
<path d="M349.11 256.99L350.95 253.77L347.27 253.77Z" fill="#6b2d6f"/>
<path d="M347.99 261.34L349.83 258.12L346.15 258.12Z" fill="#6b2d6f"/>
<path d="M342.39 264.24L344.23 261.02L340.55 261.02Z" fill="#6b2d6f"/>
<path d="M349.11 265.69L350.95 262.47L347.27 262.47Z" fill="#6b2d6f"/>
<path d="M351.35 268.59L353.19 265.37L349.51 265.37Z" fill="#6b2d6f"/>
<path d="M346.87 271.49L348.71 268.27L345.03 268.27Z" fill="#6b2d6f"/>
<path d="M344.63 274.39L346.47 271.17L342.79 271.17Z" fill="#6b2d6f"/>
<path d="M347.99 275.84L349.83 272.62L346.15 272.62Z" fill="#6b2d6f"/>
<path d="M341.27 275.84L343.11 272.62L339.43 272.62Z" fill="#6b2d6f"/>
<line x1="285.00" y1="270.38" x2="297.00" y2="270.38" stroke="#1a1a1a" stroke-width="1.0"/>
<line x1="291.00" y1="269.21" x2="291.00" y2="271.39" stroke="#1a1a1a" stroke-width="0.9"/>
<line x1="287.80" y1="269.21" x2="294.20" y2="269.21" stroke="#1a1a1a" stroke-width="0.9"/>
<line x1="287.80" y1="271.39" x2="294.20" y2="271.39" stroke="#1a1a1a" stroke-width="0.9"/>
<line x1="303.40" y1="250.80" x2="315.40" y2="250.80" stroke="#1a1a1a" stroke-width="1.0"/>
<line x1="309.40" y1="234.12" x2="309.40" y2="268.20" stroke="#1a1a1a" stroke-width="0.9"/>
<line x1="306.20" y1="234.12" x2="312.60" y2="234.12" stroke="#1a1a1a" stroke-width="0.9"/>
<line x1="306.20" y1="268.20" x2="312.60" y2="268.20" stroke="#1a1a1a" stroke-width="0.9"/>
<line x1="321.50" y1="258.05" x2="333.50" y2="258.05" stroke="#1a1a1a" stroke-width="1.0"/>
<line x1="327.50" y1="247.18" x2="327.50" y2="268.49" stroke="#1a1a1a" stroke-width="0.9"/>
<line x1="324.30" y1="247.18" x2="330.70" y2="247.18" stroke="#1a1a1a" stroke-width="0.9"/>
<line x1="324.30" y1="268.49" x2="330.70" y2="268.49" stroke="#1a1a1a" stroke-width="0.9"/>
<line x1="339.75" y1="263.56" x2="351.75" y2="263.56" stroke="#1a1a1a" stroke-width="1.0"/>
<line x1="345.75" y1="253.70" x2="345.75" y2="274.00" stroke="#1a1a1a" stroke-width="0.9"/>
<line x1="342.55" y1="253.70" x2="348.95" y2="253.70" stroke="#1a1a1a" stroke-width="0.9"/>
<line x1="342.55" y1="274.00" x2="348.95" y2="274.00" stroke="#1a1a1a" stroke-width="0.9"/>
<line x1="288.00" y1="201.25" x2="327.50" y2="201.25" stroke="#444444" stroke-width="1.1"/>
<path d="M307.75 197.00L307.75 199.50M306.67 197.62L308.83 198.88M306.67 198.88L308.83 197.62" stroke="#333" stroke-width="0.75" fill="none"/>
<line x1="288.00" y1="210.25" x2="310.00" y2="210.25" stroke="#444444" stroke-width="1.1"/>
<path d="M295.90 206.00L295.90 208.50M294.82 206.62L296.98 207.88M294.82 207.88L296.98 206.62M299.00 206.00L299.00 208.50M297.92 206.62L300.08 207.88M297.92 207.88L300.08 206.62M302.10 206.00L302.10 208.50M301.02 206.62L303.18 207.88M301.02 207.88L303.18 206.62" stroke="#333" stroke-width="0.75" fill="none"/>
<text x="318.40" y="173.80" font-size="9.4" fill="#1a1a1a" stroke="#1a1a1a" stroke-width="0.22" text-anchor="middle" textLength="31.2" lengthAdjust="spacingAndGlyphs">CXCL10</text>
<text x="253.30" y="236.90" font-size="9.0" fill="#1a1a1a" stroke="#1a1a1a" stroke-width="0.22" text-anchor="middle" textLength="25.4" lengthAdjust="spacingAndGlyphs" transform="rotate(-90 253.30 236.90)">pg/mL</text>
<line x1="46.25" y1="343.75" x2="46.25" y2="418.00" stroke="#222222" stroke-width="1.2"/>
<line x1="45.75" y1="417.50" x2="118.00" y2="417.50" stroke="#222222" stroke-width="1.2"/>
<line x1="43.45" y1="417.25" x2="46.25" y2="417.25" stroke="#222222" stroke-width="1.0"/>
<text x="41.05" y="419.66" font-size="7.8" fill="#1a1a1a" stroke="#1a1a1a" stroke-width="0.22" text-anchor="end" textLength="4.08" lengthAdjust="spacingAndGlyphs">0</text>
<line x1="43.45" y1="399.25" x2="46.25" y2="399.25" stroke="#222222" stroke-width="1.0"/>
<text x="41.05" y="401.66" font-size="7.8" fill="#1a1a1a" stroke="#1a1a1a" stroke-width="0.22" text-anchor="end" textLength="12.23" lengthAdjust="spacingAndGlyphs">200</text>
<line x1="43.45" y1="381.25" x2="46.25" y2="381.25" stroke="#222222" stroke-width="1.0"/>
<text x="41.05" y="383.66" font-size="7.8" fill="#1a1a1a" stroke="#1a1a1a" stroke-width="0.22" text-anchor="end" textLength="12.23" lengthAdjust="spacingAndGlyphs">400</text>
<line x1="43.45" y1="363.25" x2="46.25" y2="363.25" stroke="#222222" stroke-width="1.0"/>
<text x="41.05" y="365.66" font-size="7.8" fill="#1a1a1a" stroke="#1a1a1a" stroke-width="0.22" text-anchor="end" textLength="12.23" lengthAdjust="spacingAndGlyphs">600</text>
<line x1="43.45" y1="345.25" x2="46.25" y2="345.25" stroke="#222222" stroke-width="1.0"/>
<text x="41.05" y="347.66" font-size="7.8" fill="#1a1a1a" stroke="#1a1a1a" stroke-width="0.22" text-anchor="end" textLength="12.23" lengthAdjust="spacingAndGlyphs">800</text>
<line x1="55.00" y1="417.50" x2="55.00" y2="420.00" stroke="#222222" stroke-width="1.0"/>
<text x="58.50" y="425.80" font-size="7.7" fill="#1a1a1a" stroke="#1a1a1a" stroke-width="0.22" text-anchor="end" textLength="19.2" lengthAdjust="spacingAndGlyphs" transform="rotate(-45 58.50 425.80)">Naive</text>
<line x1="73.00" y1="417.50" x2="73.00" y2="420.00" stroke="#222222" stroke-width="1.0"/>
<text x="76.50" y="425.80" font-size="7.7" fill="#1a1a1a" stroke="#1a1a1a" stroke-width="0.22" text-anchor="end" textLength="17.6" lengthAdjust="spacingAndGlyphs" transform="rotate(-45 76.50 425.80)">UnRx</text>
<line x1="91.25" y1="417.50" x2="91.25" y2="420.00" stroke="#222222" stroke-width="1.0"/>
<text x="94.75" y="425.80" font-size="7.7" fill="#1a1a1a" stroke="#1a1a1a" stroke-width="0.22" text-anchor="end" textLength="21.6" lengthAdjust="spacingAndGlyphs" transform="rotate(-45 94.75 425.80)">&#945;-IFN&#947;</text>
<line x1="109.25" y1="417.50" x2="109.25" y2="420.00" stroke="#222222" stroke-width="1.0"/>
<text x="112.75" y="425.80" font-size="7.7" fill="#1a1a1a" stroke="#1a1a1a" stroke-width="0.22" text-anchor="end" textLength="17.8" lengthAdjust="spacingAndGlyphs" transform="rotate(-45 112.75 425.80)">Ruxo</text>
<circle cx="55.00" cy="410.50" r="1.60" fill="#b4283b"/>
<circle cx="50.40" cy="416.80" r="1.60" fill="#b4283b"/>
<circle cx="52.70" cy="416.80" r="1.60" fill="#b4283b"/>
<circle cx="55.00" cy="416.80" r="1.60" fill="#b4283b"/>
<circle cx="57.30" cy="416.80" r="1.60" fill="#b4283b"/>
<circle cx="59.60" cy="416.80" r="1.60" fill="#b4283b"/>
<circle cx="51.20" cy="415.00" r="1.60" fill="#b4283b"/>
<circle cx="53.50" cy="415.00" r="1.60" fill="#b4283b"/>
<circle cx="55.80" cy="415.00" r="1.60" fill="#b4283b"/>
<circle cx="58.10" cy="415.00" r="1.60" fill="#b4283b"/>
<circle cx="60.40" cy="415.00" r="1.60" fill="#b4283b"/>
<rect x="67.08" y="361.81" width="2.88" height="2.88" fill="#355d93"/>
<rect x="76.04" y="362.71" width="2.88" height="2.88" fill="#355d93"/>
<rect x="72.68" y="372.61" width="2.88" height="2.88" fill="#355d93"/>
<rect x="71.56" y="378.01" width="2.88" height="2.88" fill="#355d93"/>
<rect x="74.92" y="381.61" width="2.88" height="2.88" fill="#355d93"/>
<rect x="70.44" y="386.11" width="2.88" height="2.88" fill="#355d93"/>
<rect x="74.92" y="388.81" width="2.88" height="2.88" fill="#355d93"/>
<rect x="74.92" y="393.31" width="2.88" height="2.88" fill="#355d93"/>
<rect x="69.32" y="399.61" width="2.88" height="2.88" fill="#355d93"/>
<rect x="72.68" y="402.31" width="2.88" height="2.88" fill="#355d93"/>
<rect x="69.32" y="406.81" width="2.88" height="2.88" fill="#355d93"/>
<rect x="73.80" y="406.81" width="2.88" height="2.88" fill="#355d93"/>
<path d="M92.37 349.71L94.21 352.93L90.53 352.93Z" fill="#6db24f"/>
<path d="M89.01 352.41L90.85 355.63L87.17 355.63Z" fill="#6db24f"/>
<path d="M95.73 352.41L97.57 355.63L93.89 355.63Z" fill="#6db24f"/>
<path d="M87.89 370.41L89.73 373.63L86.05 373.63Z" fill="#6db24f"/>
<path d="M94.61 379.41L96.45 382.63L92.77 382.63Z" fill="#6db24f"/>
<path d="M90.13 383.91L91.97 387.13L88.29 387.13Z" fill="#6db24f"/>
<path d="M91.25 388.41L93.09 391.63L89.41 391.63Z" fill="#6db24f"/>
<path d="M92.37 392.91L94.21 396.13L90.53 396.13Z" fill="#6db24f"/>
<path d="M94.61 399.21L96.45 402.43L92.77 402.43Z" fill="#6db24f"/>
<path d="M90.13 403.71L91.97 406.93L88.29 406.93Z" fill="#6db24f"/>
<path d="M94.61 406.41L96.45 409.63L92.77 409.63Z" fill="#6db24f"/>
<path d="M91.25 410.91L93.09 414.13L89.41 414.13Z" fill="#6db24f"/>
<path d="M109.25 379.49L111.09 376.27L107.41 376.27Z" fill="#6b2d6f"/>
<path d="M109.25 390.29L111.09 387.07L107.41 387.07Z" fill="#6b2d6f"/>
<path d="M104.77 392.09L106.61 388.87L102.93 388.87Z" fill="#6b2d6f"/>
<path d="M109.25 396.59L111.09 393.37L107.41 393.37Z" fill="#6b2d6f"/>
<path d="M105.89 401.09L107.73 397.87L104.05 397.87Z" fill="#6b2d6f"/>
<path d="M104.77 405.59L106.61 402.37L102.93 402.37Z" fill="#6b2d6f"/>
<path d="M111.49 410.09L113.33 406.87L109.65 406.87Z" fill="#6b2d6f"/>
<path d="M105.89 411.89L107.73 408.67L104.05 408.67Z" fill="#6b2d6f"/>
<path d="M109.25 414.59L111.09 411.37L107.41 411.37Z" fill="#6b2d6f"/>
<path d="M112.61 416.39L114.45 413.17L110.77 413.17Z" fill="#6b2d6f"/>
<line x1="49.00" y1="415.90" x2="61.00" y2="415.90" stroke="#1a1a1a" stroke-width="1.0"/>
<line x1="55.00" y1="414.55" x2="55.00" y2="417.25" stroke="#1a1a1a" stroke-width="0.9"/>
<line x1="51.80" y1="414.55" x2="58.20" y2="414.55" stroke="#1a1a1a" stroke-width="0.9"/>
<line x1="51.80" y1="417.25" x2="58.20" y2="417.25" stroke="#1a1a1a" stroke-width="0.9"/>
<line x1="67.00" y1="388.45" x2="79.00" y2="388.45" stroke="#1a1a1a" stroke-width="1.0"/>
<line x1="73.00" y1="372.25" x2="73.00" y2="403.75" stroke="#1a1a1a" stroke-width="0.9"/>
<line x1="69.80" y1="372.25" x2="76.20" y2="372.25" stroke="#1a1a1a" stroke-width="0.9"/>
<line x1="69.80" y1="403.75" x2="76.20" y2="403.75" stroke="#1a1a1a" stroke-width="0.9"/>
<line x1="85.25" y1="389.35" x2="97.25" y2="389.35" stroke="#1a1a1a" stroke-width="1.0"/>
<line x1="91.25" y1="365.95" x2="91.25" y2="412.75" stroke="#1a1a1a" stroke-width="0.9"/>
<line x1="88.05" y1="365.95" x2="94.45" y2="365.95" stroke="#1a1a1a" stroke-width="0.9"/>
<line x1="88.05" y1="412.75" x2="94.45" y2="412.75" stroke="#1a1a1a" stroke-width="0.9"/>
<line x1="103.25" y1="400.60" x2="115.25" y2="400.60" stroke="#1a1a1a" stroke-width="1.0"/>
<line x1="109.25" y1="388.45" x2="109.25" y2="412.75" stroke="#1a1a1a" stroke-width="0.9"/>
<line x1="106.05" y1="388.45" x2="112.45" y2="388.45" stroke="#1a1a1a" stroke-width="0.9"/>
<line x1="106.05" y1="412.75" x2="112.45" y2="412.75" stroke="#1a1a1a" stroke-width="0.9"/>
<line x1="51.75" y1="344.00" x2="90.75" y2="344.00" stroke="#444444" stroke-width="1.1"/>
<path d="M68.15 339.75L68.15 342.25M67.07 340.38L69.23 341.62M67.07 341.62L69.23 340.38M71.25 339.75L71.25 342.25M70.17 340.38L72.33 341.62M70.17 341.62L72.33 340.38M74.35 339.75L74.35 342.25M73.27 340.38L75.43 341.62M73.27 341.62L75.43 340.38" stroke="#333" stroke-width="0.75" fill="none"/>
<line x1="51.75" y1="357.75" x2="72.00" y2="357.75" stroke="#444444" stroke-width="1.1"/>
<path d="M58.77 353.50L58.77 356.00M57.69 354.12L59.86 355.38M57.69 355.38L59.86 354.12M61.88 353.50L61.88 356.00M60.79 354.12L62.96 355.38M60.79 355.38L62.96 354.12M64.97 353.50L64.97 356.00M63.89 354.12L66.06 355.38M63.89 355.38L66.06 354.12" stroke="#333" stroke-width="0.75" fill="none"/>
<text x="82.00" y="324.60" font-size="9.4" fill="#1a1a1a" stroke="#1a1a1a" stroke-width="0.22" text-anchor="middle" textLength="14.2" lengthAdjust="spacingAndGlyphs">IL-6</text>
<text x="21.80" y="380.00" font-size="9.0" fill="#1a1a1a" stroke="#1a1a1a" stroke-width="0.22" text-anchor="middle" textLength="25.4" lengthAdjust="spacingAndGlyphs" transform="rotate(-90 21.80 380.00)">pg/mL</text>
<line x1="164.25" y1="343.75" x2="164.25" y2="418.00" stroke="#222222" stroke-width="1.2"/>
<line x1="163.75" y1="417.50" x2="235.75" y2="417.50" stroke="#222222" stroke-width="1.2"/>
<line x1="161.45" y1="411.75" x2="164.25" y2="411.75" stroke="#222222" stroke-width="1.0"/>
<text x="159.05" y="414.16" font-size="7.8" fill="#1a1a1a" stroke="#1a1a1a" stroke-width="0.22" text-anchor="end" textLength="4.08" lengthAdjust="spacingAndGlyphs">0</text>
<line x1="161.45" y1="389.75" x2="164.25" y2="389.75" stroke="#222222" stroke-width="1.0"/>
<text x="159.05" y="392.16" font-size="7.8" fill="#1a1a1a" stroke="#1a1a1a" stroke-width="0.22" text-anchor="end" textLength="12.23" lengthAdjust="spacingAndGlyphs">200</text>
<line x1="161.45" y1="367.75" x2="164.25" y2="367.75" stroke="#222222" stroke-width="1.0"/>
<text x="159.05" y="370.16" font-size="7.8" fill="#1a1a1a" stroke="#1a1a1a" stroke-width="0.22" text-anchor="end" textLength="12.23" lengthAdjust="spacingAndGlyphs">400</text>
<line x1="161.45" y1="345.75" x2="164.25" y2="345.75" stroke="#222222" stroke-width="1.0"/>
<text x="159.05" y="348.16" font-size="7.8" fill="#1a1a1a" stroke="#1a1a1a" stroke-width="0.22" text-anchor="end" textLength="12.23" lengthAdjust="spacingAndGlyphs">600</text>
<line x1="164.25" y1="411.75" x2="235.75" y2="411.75" stroke="#aaaaaa" stroke-width="1.0"/>
<line x1="172.80" y1="417.50" x2="172.80" y2="420.00" stroke="#222222" stroke-width="1.0"/>
<text x="176.30" y="425.80" font-size="7.7" fill="#1a1a1a" stroke="#1a1a1a" stroke-width="0.22" text-anchor="end" textLength="19.2" lengthAdjust="spacingAndGlyphs" transform="rotate(-45 176.30 425.80)">Naive</text>
<line x1="191.25" y1="417.50" x2="191.25" y2="420.00" stroke="#222222" stroke-width="1.0"/>
<text x="194.75" y="425.80" font-size="7.7" fill="#1a1a1a" stroke="#1a1a1a" stroke-width="0.22" text-anchor="end" textLength="17.6" lengthAdjust="spacingAndGlyphs" transform="rotate(-45 194.75 425.80)">UnRx</text>
<line x1="209.25" y1="417.50" x2="209.25" y2="420.00" stroke="#222222" stroke-width="1.0"/>
<text x="212.75" y="425.80" font-size="7.7" fill="#1a1a1a" stroke="#1a1a1a" stroke-width="0.22" text-anchor="end" textLength="21.6" lengthAdjust="spacingAndGlyphs" transform="rotate(-45 212.75 425.80)">&#945;-IFN&#947;</text>
<line x1="227.30" y1="417.50" x2="227.30" y2="420.00" stroke="#222222" stroke-width="1.0"/>
<text x="230.80" y="425.80" font-size="7.7" fill="#1a1a1a" stroke="#1a1a1a" stroke-width="0.22" text-anchor="end" textLength="17.8" lengthAdjust="spacingAndGlyphs" transform="rotate(-45 230.80 425.80)">Ruxo</text>
<circle cx="172.80" cy="391.40" r="1.60" fill="#b4283b"/>
<circle cx="172.80" cy="403.50" r="1.60" fill="#b4283b"/>
<circle cx="168.00" cy="411.75" r="1.60" fill="#b4283b"/>
<circle cx="169.92" cy="411.75" r="1.60" fill="#b4283b"/>
<circle cx="171.84" cy="411.75" r="1.60" fill="#b4283b"/>
<circle cx="173.76" cy="411.75" r="1.60" fill="#b4283b"/>
<circle cx="175.68" cy="411.75" r="1.60" fill="#b4283b"/>
<circle cx="177.60" cy="411.75" r="1.60" fill="#b4283b"/>
<circle cx="168.80" cy="410.10" r="1.60" fill="#b4283b"/>
<circle cx="170.72" cy="410.10" r="1.60" fill="#b4283b"/>
<circle cx="172.64" cy="410.10" r="1.60" fill="#b4283b"/>
<circle cx="174.56" cy="410.10" r="1.60" fill="#b4283b"/>
<circle cx="176.48" cy="410.10" r="1.60" fill="#b4283b"/>
<circle cx="178.40" cy="410.10" r="1.60" fill="#b4283b"/>
<rect x="189.81" y="364.66" width="2.88" height="2.88" fill="#355d93"/>
<rect x="188.69" y="381.71" width="2.88" height="2.88" fill="#355d93"/>
<rect x="189.81" y="388.31" width="2.88" height="2.88" fill="#355d93"/>
<rect x="189.81" y="396.01" width="2.88" height="2.88" fill="#355d93"/>
<rect x="193.17" y="398.21" width="2.88" height="2.88" fill="#355d93"/>
<rect x="186.45" y="399.31" width="2.88" height="2.88" fill="#355d93"/>
<rect x="189.81" y="400.41" width="2.88" height="2.88" fill="#355d93"/>
<rect x="187.57" y="408.11" width="2.88" height="2.88" fill="#355d93"/>
<rect x="190.93" y="409.21" width="2.88" height="2.88" fill="#355d93"/>
<path d="M211.49 397.81L213.33 401.03L209.65 401.03Z" fill="#6db24f"/>
<path d="M208.13 398.91L209.97 402.13L206.29 402.13Z" fill="#6db24f"/>
<path d="M204.77 400.01L206.61 403.23L202.93 403.23Z" fill="#6db24f"/>
<path d="M213.73 401.11L215.57 404.33L211.89 404.33Z" fill="#6db24f"/>
<path d="M210.37 402.21L212.21 405.43L208.53 405.43Z" fill="#6db24f"/>
<path d="M207.01 403.31L208.85 406.53L205.17 406.53Z" fill="#6db24f"/>
<path d="M203.65 404.41L205.49 407.63L201.81 407.63Z" fill="#6db24f"/>
<path d="M212.61 405.51L214.45 408.73L210.77 408.73Z" fill="#6db24f"/>
<path d="M209.25 406.61L211.09 409.83L207.41 409.83Z" fill="#6db24f"/>
<path d="M205.89 407.71L207.73 410.93L204.05 410.93Z" fill="#6db24f"/>
<path d="M227.30 400.39L229.14 397.17L225.46 397.17Z" fill="#6b2d6f"/>
<path d="M230.66 401.49L232.50 398.27L228.82 398.27Z" fill="#6b2d6f"/>
<path d="M225.06 403.69L226.90 400.47L223.22 400.47Z" fill="#6b2d6f"/>
<path d="M231.78 405.89L233.62 402.67L229.94 402.67Z" fill="#6b2d6f"/>
<path d="M228.42 408.09L230.26 404.87L226.58 404.87Z" fill="#6b2d6f"/>
<path d="M225.06 409.19L226.90 405.97L223.22 405.97Z" fill="#6b2d6f"/>
<path d="M231.78 410.29L233.62 407.07L229.94 407.07Z" fill="#6b2d6f"/>
<path d="M221.70 411.39L223.54 408.17L219.86 408.17Z" fill="#6b2d6f"/>
<path d="M227.30 412.49L229.14 409.27L225.46 409.27Z" fill="#6b2d6f"/>
<path d="M231.29 413.59L233.13 410.37L229.45 410.37Z" fill="#6b2d6f"/>
<line x1="166.80" y1="409.00" x2="178.80" y2="409.00" stroke="#1a1a1a" stroke-width="1.0"/>
<line x1="172.80" y1="403.50" x2="172.80" y2="416.15" stroke="#1a1a1a" stroke-width="0.9"/>
<line x1="169.60" y1="403.50" x2="176.00" y2="403.50" stroke="#1a1a1a" stroke-width="0.9"/>
<line x1="169.60" y1="416.15" x2="176.00" y2="416.15" stroke="#1a1a1a" stroke-width="0.9"/>
<line x1="185.25" y1="398.55" x2="197.25" y2="398.55" stroke="#1a1a1a" stroke-width="1.0"/>
<line x1="191.25" y1="385.35" x2="191.25" y2="411.75" stroke="#1a1a1a" stroke-width="0.9"/>
<line x1="188.05" y1="385.35" x2="194.45" y2="385.35" stroke="#1a1a1a" stroke-width="0.9"/>
<line x1="188.05" y1="411.75" x2="194.45" y2="411.75" stroke="#1a1a1a" stroke-width="0.9"/>
<line x1="203.25" y1="405.15" x2="215.25" y2="405.15" stroke="#1a1a1a" stroke-width="1.0"/>
<line x1="209.25" y1="400.75" x2="209.25" y2="409.55" stroke="#1a1a1a" stroke-width="0.9"/>
<line x1="206.05" y1="400.75" x2="212.45" y2="400.75" stroke="#1a1a1a" stroke-width="0.9"/>
<line x1="206.05" y1="409.55" x2="212.45" y2="409.55" stroke="#1a1a1a" stroke-width="0.9"/>
<line x1="221.30" y1="407.35" x2="233.30" y2="407.35" stroke="#1a1a1a" stroke-width="1.0"/>
<line x1="227.30" y1="402.95" x2="227.30" y2="411.75" stroke="#1a1a1a" stroke-width="0.9"/>
<line x1="224.10" y1="402.95" x2="230.50" y2="402.95" stroke="#1a1a1a" stroke-width="0.9"/>
<line x1="224.10" y1="411.75" x2="230.50" y2="411.75" stroke="#1a1a1a" stroke-width="0.9"/>
<line x1="172.50" y1="360.25" x2="191.25" y2="360.25" stroke="#444444" stroke-width="1.1"/>
<path d="M180.32 356.00L180.32 358.50M179.24 356.62L181.41 357.88M179.24 357.88L181.41 356.62M183.42 356.00L183.42 358.50M182.34 356.62L184.51 357.88M182.34 357.88L184.51 356.62" stroke="#333" stroke-width="0.75" fill="none"/>
<line x1="191.25" y1="355.25" x2="224.50" y2="355.25" stroke="#444444" stroke-width="1.1"/>
<path d="M207.88 351.00L207.88 353.50M206.79 351.62L208.96 352.88M206.79 352.88L208.96 351.62" stroke="#333" stroke-width="0.75" fill="none"/>
<text x="199.70" y="324.60" font-size="9.4" fill="#1a1a1a" stroke="#1a1a1a" stroke-width="0.22" text-anchor="middle" textLength="42.0" lengthAdjust="spacingAndGlyphs">IL-12 (p70)</text>
<text x="139.50" y="380.10" font-size="9.0" fill="#1a1a1a" stroke="#1a1a1a" stroke-width="0.22" text-anchor="middle" textLength="25.4" lengthAdjust="spacingAndGlyphs" transform="rotate(-90 139.50 380.10)">pg/mL</text>
<line x1="282.50" y1="343.75" x2="282.50" y2="418.00" stroke="#222222" stroke-width="1.2"/>
<line x1="282.00" y1="417.50" x2="353.75" y2="417.50" stroke="#222222" stroke-width="1.2"/>
<line x1="279.70" y1="416.25" x2="282.50" y2="416.25" stroke="#222222" stroke-width="1.0"/>
<text x="277.30" y="418.66" font-size="7.8" fill="#1a1a1a" stroke="#1a1a1a" stroke-width="0.22" text-anchor="end" textLength="4.08" lengthAdjust="spacingAndGlyphs">0</text>
<line x1="279.70" y1="398.55" x2="282.50" y2="398.55" stroke="#222222" stroke-width="1.0"/>
<text x="277.30" y="400.96" font-size="7.8" fill="#1a1a1a" stroke="#1a1a1a" stroke-width="0.22" text-anchor="end" textLength="8.15" lengthAdjust="spacingAndGlyphs">50</text>
<line x1="279.70" y1="380.85" x2="282.50" y2="380.85" stroke="#222222" stroke-width="1.0"/>
<text x="277.30" y="383.26" font-size="7.8" fill="#1a1a1a" stroke="#1a1a1a" stroke-width="0.22" text-anchor="end" textLength="12.23" lengthAdjust="spacingAndGlyphs">100</text>
<line x1="279.70" y1="363.15" x2="282.50" y2="363.15" stroke="#222222" stroke-width="1.0"/>
<text x="277.30" y="365.56" font-size="7.8" fill="#1a1a1a" stroke="#1a1a1a" stroke-width="0.22" text-anchor="end" textLength="12.23" lengthAdjust="spacingAndGlyphs">150</text>
<line x1="279.70" y1="345.45" x2="282.50" y2="345.45" stroke="#222222" stroke-width="1.0"/>
<text x="277.30" y="347.86" font-size="7.8" fill="#1a1a1a" stroke="#1a1a1a" stroke-width="0.22" text-anchor="end" textLength="12.23" lengthAdjust="spacingAndGlyphs">200</text>
<line x1="291.00" y1="417.50" x2="291.00" y2="420.00" stroke="#222222" stroke-width="1.0"/>
<text x="294.50" y="425.80" font-size="7.7" fill="#1a1a1a" stroke="#1a1a1a" stroke-width="0.22" text-anchor="end" textLength="19.2" lengthAdjust="spacingAndGlyphs" transform="rotate(-45 294.50 425.80)">Naive</text>
<line x1="309.40" y1="417.50" x2="309.40" y2="420.00" stroke="#222222" stroke-width="1.0"/>
<text x="312.90" y="425.80" font-size="7.7" fill="#1a1a1a" stroke="#1a1a1a" stroke-width="0.22" text-anchor="end" textLength="17.6" lengthAdjust="spacingAndGlyphs" transform="rotate(-45 312.90 425.80)">UnRx</text>
<line x1="327.50" y1="417.50" x2="327.50" y2="420.00" stroke="#222222" stroke-width="1.0"/>
<text x="331.00" y="425.80" font-size="7.7" fill="#1a1a1a" stroke="#1a1a1a" stroke-width="0.22" text-anchor="end" textLength="21.6" lengthAdjust="spacingAndGlyphs" transform="rotate(-45 331.00 425.80)">&#945;-IFN&#947;</text>
<line x1="345.75" y1="417.50" x2="345.75" y2="420.00" stroke="#222222" stroke-width="1.0"/>
<text x="349.25" y="425.80" font-size="7.7" fill="#1a1a1a" stroke="#1a1a1a" stroke-width="0.22" text-anchor="end" textLength="17.8" lengthAdjust="spacingAndGlyphs" transform="rotate(-45 349.25 425.80)">Ruxo</text>
<circle cx="291.00" cy="406.34" r="1.60" fill="#b4283b"/>
<circle cx="286.00" cy="415.54" r="1.60" fill="#b4283b"/>
<circle cx="288.00" cy="415.54" r="1.60" fill="#b4283b"/>
<circle cx="290.00" cy="415.54" r="1.60" fill="#b4283b"/>
<circle cx="292.00" cy="415.54" r="1.60" fill="#b4283b"/>
<circle cx="294.00" cy="415.54" r="1.60" fill="#b4283b"/>
<circle cx="296.00" cy="415.54" r="1.60" fill="#b4283b"/>
<circle cx="286.80" cy="412.00" r="1.60" fill="#b4283b"/>
<circle cx="288.80" cy="412.00" r="1.60" fill="#b4283b"/>
<circle cx="290.80" cy="412.00" r="1.60" fill="#b4283b"/>
<circle cx="292.80" cy="412.00" r="1.60" fill="#b4283b"/>
<circle cx="294.80" cy="412.00" r="1.60" fill="#b4283b"/>
<circle cx="296.80" cy="412.00" r="1.60" fill="#b4283b"/>
<circle cx="287.00" cy="408.46" r="1.60" fill="#b4283b"/>
<circle cx="295.00" cy="408.46" r="1.60" fill="#b4283b"/>
<rect x="311.32" y="348.26" width="2.88" height="2.88" fill="#355d93"/>
<rect x="304.60" y="352.86" width="2.88" height="2.88" fill="#355d93"/>
<rect x="304.60" y="358.17" width="2.88" height="2.88" fill="#355d93"/>
<rect x="307.96" y="379.41" width="2.88" height="2.88" fill="#355d93"/>
<rect x="304.60" y="381.18" width="2.88" height="2.88" fill="#355d93"/>
<rect x="307.96" y="382.95" width="2.88" height="2.88" fill="#355d93"/>
<rect x="304.60" y="390.03" width="2.88" height="2.88" fill="#355d93"/>
<rect x="309.08" y="391.80" width="2.88" height="2.88" fill="#355d93"/>
<rect x="312.44" y="393.57" width="2.88" height="2.88" fill="#355d93"/>
<rect x="309.08" y="395.34" width="2.88" height="2.88" fill="#355d93"/>
<rect x="304.60" y="397.11" width="2.88" height="2.88" fill="#355d93"/>
<rect x="310.20" y="398.88" width="2.88" height="2.88" fill="#355d93"/>
<path d="M328.62 368.39L330.46 371.61L326.78 371.61Z" fill="#6db24f"/>
<path d="M324.14 382.55L325.98 385.77L322.30 385.77Z" fill="#6db24f"/>
<path d="M330.86 383.26L332.70 386.48L329.02 386.48Z" fill="#6db24f"/>
<path d="M333.10 386.09L334.94 389.31L331.26 389.31Z" fill="#6db24f"/>
<path d="M325.26 386.80L327.10 390.02L323.42 390.02Z" fill="#6db24f"/>
<path d="M331.98 389.63L333.82 392.85L330.14 392.85Z" fill="#6db24f"/>
<path d="M326.38 390.34L328.22 393.56L324.54 393.56Z" fill="#6db24f"/>
<path d="M328.62 393.17L330.46 396.39L326.78 396.39Z" fill="#6db24f"/>
<path d="M331.98 396.00L333.82 399.22L330.14 399.22Z" fill="#6db24f"/>
<path d="M328.62 397.42L330.46 400.64L326.78 400.64Z" fill="#6db24f"/>
<path d="M324.14 399.54L325.98 402.76L322.30 402.76Z" fill="#6db24f"/>
<path d="M327.50 402.02L329.34 405.24L325.66 405.24Z" fill="#6db24f"/>
<path d="M330.86 403.08L332.70 406.30L329.02 406.30Z" fill="#6db24f"/>
<path d="M326.38 405.56L328.22 408.78L324.54 408.78Z" fill="#6db24f"/>
<path d="M323.02 406.62L324.86 409.84L321.18 409.84Z" fill="#6db24f"/>
<path d="M344.63 390.48L346.47 387.26L342.79 387.26Z" fill="#6b2d6f"/>
<path d="M347.99 398.62L349.83 395.40L346.15 395.40Z" fill="#6b2d6f"/>
<path d="M341.27 398.97L343.11 395.75L339.43 395.75Z" fill="#6b2d6f"/>
<path d="M344.63 401.10L346.47 397.88L342.79 397.88Z" fill="#6b2d6f"/>
<path d="M346.87 403.93L348.71 400.71L345.03 400.71Z" fill="#6b2d6f"/>
<path d="M341.27 404.64L343.11 401.42L339.43 401.42Z" fill="#6b2d6f"/>
<path d="M344.63 406.76L346.47 403.54L342.79 403.54Z" fill="#6b2d6f"/>
<path d="M349.11 407.47L350.95 404.25L347.27 404.25Z" fill="#6b2d6f"/>
<path d="M345.75 410.30L347.59 407.08L343.91 407.08Z" fill="#6b2d6f"/>
<path d="M341.27 411.01L343.11 407.79L339.43 407.79Z" fill="#6b2d6f"/>
<path d="M350.23 414.55L352.07 411.33L348.39 411.33Z" fill="#6b2d6f"/>
<path d="M346.87 416.32L348.71 413.10L345.03 413.10Z" fill="#6b2d6f"/>
<line x1="285.00" y1="413.42" x2="297.00" y2="413.42" stroke="#1a1a1a" stroke-width="1.0"/>
<line x1="291.00" y1="410.23" x2="291.00" y2="416.25" stroke="#1a1a1a" stroke-width="0.9"/>
<line x1="287.80" y1="410.23" x2="294.20" y2="410.23" stroke="#1a1a1a" stroke-width="0.9"/>
<line x1="287.80" y1="416.25" x2="294.20" y2="416.25" stroke="#1a1a1a" stroke-width="0.9"/>
<line x1="303.40" y1="383.68" x2="315.40" y2="383.68" stroke="#1a1a1a" stroke-width="1.0"/>
<line x1="309.40" y1="365.98" x2="309.40" y2="400.32" stroke="#1a1a1a" stroke-width="0.9"/>
<line x1="306.20" y1="365.98" x2="312.60" y2="365.98" stroke="#1a1a1a" stroke-width="0.9"/>
<line x1="306.20" y1="400.32" x2="312.60" y2="400.32" stroke="#1a1a1a" stroke-width="0.9"/>
<line x1="321.50" y1="395.72" x2="333.50" y2="395.72" stroke="#1a1a1a" stroke-width="1.0"/>
<line x1="327.50" y1="383.68" x2="327.50" y2="407.40" stroke="#1a1a1a" stroke-width="0.9"/>
<line x1="324.30" y1="383.68" x2="330.70" y2="383.68" stroke="#1a1a1a" stroke-width="0.9"/>
<line x1="324.30" y1="407.40" x2="330.70" y2="407.40" stroke="#1a1a1a" stroke-width="0.9"/>
<line x1="339.75" y1="404.92" x2="351.75" y2="404.92" stroke="#1a1a1a" stroke-width="1.0"/>
<line x1="345.75" y1="396.78" x2="345.75" y2="412.71" stroke="#1a1a1a" stroke-width="0.9"/>
<line x1="342.55" y1="396.78" x2="348.95" y2="396.78" stroke="#1a1a1a" stroke-width="0.9"/>
<line x1="342.55" y1="412.71" x2="348.95" y2="412.71" stroke="#1a1a1a" stroke-width="0.9"/>
<line x1="289.25" y1="333.25" x2="326.25" y2="333.25" stroke="#444444" stroke-width="1.1"/>
<path d="M304.65 329.00L304.65 331.50M303.57 329.62L305.73 330.88M303.57 330.88L305.73 329.62M307.75 329.00L307.75 331.50M306.67 329.62L308.83 330.88M306.67 330.88L308.83 329.62M310.85 329.00L310.85 331.50M309.77 329.62L311.93 330.88M309.77 330.88L311.93 329.62" stroke="#333" stroke-width="0.75" fill="none"/>
<line x1="311.25" y1="340.00" x2="348.00" y2="340.00" stroke="#444444" stroke-width="1.1"/>
<path d="M324.98 335.75L324.98 338.25M323.89 336.38L326.06 337.62M323.89 337.62L326.06 336.38M328.08 335.75L328.08 338.25M326.99 336.38L329.16 337.62M326.99 337.62L329.16 336.38M331.18 335.75L331.18 338.25M330.09 336.38L332.26 337.62M330.09 337.62L332.26 336.38M334.28 335.75L334.28 338.25M333.19 336.38L335.36 337.62M333.19 337.62L335.36 336.38" stroke="#333" stroke-width="0.75" fill="none"/>
<line x1="289.25" y1="347.00" x2="309.50" y2="347.00" stroke="#444444" stroke-width="1.1"/>
<path d="M294.73 342.75L294.73 345.25M293.64 343.38L295.81 344.62M293.64 344.62L295.81 343.38M297.83 342.75L297.83 345.25M296.74 343.38L298.91 344.62M296.74 344.62L298.91 343.38M300.93 342.75L300.93 345.25M299.84 343.38L302.01 344.62M299.84 344.62L302.01 343.38M304.03 342.75L304.03 345.25M302.94 343.38L305.11 344.62M302.94 344.62L305.11 343.38" stroke="#333" stroke-width="0.75" fill="none"/>
<line x1="311.25" y1="347.00" x2="328.75" y2="347.00" stroke="#444444" stroke-width="1.1"/>
<path d="M320.00 342.75L320.00 345.25M318.92 343.38L321.08 344.62M318.92 344.62L321.08 343.38" stroke="#333" stroke-width="0.75" fill="none"/>
<text x="318.00" y="324.60" font-size="9.4" fill="#1a1a1a" stroke="#1a1a1a" stroke-width="0.22" text-anchor="middle" textLength="20.5" lengthAdjust="spacingAndGlyphs">TNF&#945;</text>
<text x="258.00" y="380.00" font-size="9.0" fill="#1a1a1a" stroke="#1a1a1a" stroke-width="0.22" text-anchor="middle" textLength="25.4" lengthAdjust="spacingAndGlyphs" transform="rotate(-90 258.00 380.00)">pg/mL</text>
<line x1="46.25" y1="481.25" x2="46.25" y2="555.60" stroke="#222222" stroke-width="1.2"/>
<line x1="45.75" y1="555.10" x2="118.00" y2="555.10" stroke="#222222" stroke-width="1.2"/>
<line x1="43.45" y1="547.00" x2="46.25" y2="547.00" stroke="#222222" stroke-width="1.0"/>
<text x="41.05" y="549.41" font-size="7.8" fill="#1a1a1a" stroke="#1a1a1a" stroke-width="0.22" text-anchor="end" textLength="4.08" lengthAdjust="spacingAndGlyphs">0</text>
<line x1="43.45" y1="525.70" x2="46.25" y2="525.70" stroke="#222222" stroke-width="1.0"/>
<text x="41.05" y="528.11" font-size="7.8" fill="#1a1a1a" stroke="#1a1a1a" stroke-width="0.22" text-anchor="end" textLength="12.23" lengthAdjust="spacingAndGlyphs">500</text>
<line x1="43.45" y1="504.40" x2="46.25" y2="504.40" stroke="#222222" stroke-width="1.0"/>
<text x="41.05" y="506.81" font-size="7.8" fill="#1a1a1a" stroke="#1a1a1a" stroke-width="0.22" text-anchor="end" textLength="16.31" lengthAdjust="spacingAndGlyphs">1000</text>
<line x1="43.45" y1="483.10" x2="46.25" y2="483.10" stroke="#222222" stroke-width="1.0"/>
<text x="41.05" y="485.51" font-size="7.8" fill="#1a1a1a" stroke="#1a1a1a" stroke-width="0.22" text-anchor="end" textLength="16.31" lengthAdjust="spacingAndGlyphs">1500</text>
<line x1="46.25" y1="547.00" x2="118.00" y2="547.00" stroke="#aaaaaa" stroke-width="1.0"/>
<line x1="55.00" y1="555.10" x2="55.00" y2="557.60" stroke="#222222" stroke-width="1.0"/>
<text x="58.50" y="563.40" font-size="7.7" fill="#1a1a1a" stroke="#1a1a1a" stroke-width="0.22" text-anchor="end" textLength="19.2" lengthAdjust="spacingAndGlyphs" transform="rotate(-45 58.50 563.40)">Naive</text>
<line x1="73.00" y1="555.10" x2="73.00" y2="557.60" stroke="#222222" stroke-width="1.0"/>
<text x="76.50" y="563.40" font-size="7.7" fill="#1a1a1a" stroke="#1a1a1a" stroke-width="0.22" text-anchor="end" textLength="17.6" lengthAdjust="spacingAndGlyphs" transform="rotate(-45 76.50 563.40)">UnRx</text>
<line x1="91.25" y1="555.10" x2="91.25" y2="557.60" stroke="#222222" stroke-width="1.0"/>
<text x="94.75" y="563.40" font-size="7.7" fill="#1a1a1a" stroke="#1a1a1a" stroke-width="0.22" text-anchor="end" textLength="21.6" lengthAdjust="spacingAndGlyphs" transform="rotate(-45 94.75 563.40)">&#945;-IFN&#947;</text>
<line x1="109.25" y1="555.10" x2="109.25" y2="557.60" stroke="#222222" stroke-width="1.0"/>
<text x="112.75" y="563.40" font-size="7.7" fill="#1a1a1a" stroke="#1a1a1a" stroke-width="0.22" text-anchor="end" textLength="17.8" lengthAdjust="spacingAndGlyphs" transform="rotate(-45 112.75 563.40)">Ruxo</text>
<circle cx="55.00" cy="540.18" r="1.60" fill="#b4283b"/>
<circle cx="50.20" cy="547.00" r="1.60" fill="#b4283b"/>
<circle cx="52.12" cy="547.00" r="1.60" fill="#b4283b"/>
<circle cx="54.04" cy="547.00" r="1.60" fill="#b4283b"/>
<circle cx="55.96" cy="547.00" r="1.60" fill="#b4283b"/>
<circle cx="57.88" cy="547.00" r="1.60" fill="#b4283b"/>
<circle cx="59.80" cy="547.00" r="1.60" fill="#b4283b"/>
<circle cx="51.00" cy="545.72" r="1.60" fill="#b4283b"/>
<circle cx="52.92" cy="545.72" r="1.60" fill="#b4283b"/>
<circle cx="54.84" cy="545.72" r="1.60" fill="#b4283b"/>
<circle cx="56.76" cy="545.72" r="1.60" fill="#b4283b"/>
<circle cx="58.68" cy="545.72" r="1.60" fill="#b4283b"/>
<circle cx="60.60" cy="545.72" r="1.60" fill="#b4283b"/>
<rect x="76.04" y="486.77" width="2.88" height="2.88" fill="#355d93"/>
<rect x="68.20" y="507.65" width="2.88" height="2.88" fill="#355d93"/>
<rect x="69.32" y="522.56" width="2.88" height="2.88" fill="#355d93"/>
<rect x="73.80" y="523.41" width="2.88" height="2.88" fill="#355d93"/>
<rect x="73.80" y="528.52" width="2.88" height="2.88" fill="#355d93"/>
<rect x="69.32" y="532.78" width="2.88" height="2.88" fill="#355d93"/>
<rect x="65.96" y="534.91" width="2.88" height="2.88" fill="#355d93"/>
<rect x="70.44" y="539.17" width="2.88" height="2.88" fill="#355d93"/>
<rect x="74.92" y="542.15" width="2.88" height="2.88" fill="#355d93"/>
<rect x="72.68" y="545.13" width="2.88" height="2.88" fill="#355d93"/>
<path d="M89.01 504.69L90.85 507.91L87.17 507.91Z" fill="#6db24f"/>
<path d="M87.89 521.30L89.73 524.52L86.05 524.52Z" fill="#6db24f"/>
<path d="M94.61 531.53L96.45 534.75L92.77 534.75Z" fill="#6db24f"/>
<path d="M92.37 536.64L94.21 539.86L90.53 539.86Z" fill="#6db24f"/>
<path d="M95.73 538.77L97.57 541.99L93.89 541.99Z" fill="#6db24f"/>
<path d="M87.89 540.90L89.73 544.12L86.05 544.12Z" fill="#6db24f"/>
<path d="M92.37 541.75L94.21 544.97L90.53 544.97Z" fill="#6db24f"/>
<path d="M95.73 543.03L97.57 546.25L93.89 546.25Z" fill="#6db24f"/>
<path d="M85.65 543.88L87.49 547.10L83.81 547.10Z" fill="#6db24f"/>
<path d="M89.01 545.16L90.85 548.38L87.17 548.38Z" fill="#6db24f"/>
<path d="M95.73 546.86L97.57 550.08L93.89 550.08Z" fill="#6db24f"/>
<path d="M110.37 536.06L112.21 532.84L108.53 532.84Z" fill="#6b2d6f"/>
<path d="M111.49 544.58L113.33 541.36L109.65 541.36Z" fill="#6b2d6f"/>
<path d="M105.89 545.43L107.73 542.21L104.05 542.21Z" fill="#6b2d6f"/>
<path d="M114.85 546.71L116.69 543.49L113.01 543.49Z" fill="#6b2d6f"/>
<path d="M109.25 547.56L111.09 544.34L107.41 544.34Z" fill="#6b2d6f"/>
<path d="M112.51 547.99L114.35 544.77L110.67 544.77Z" fill="#6b2d6f"/>
<path d="M103.65 548.41L105.49 545.19L101.81 545.19Z" fill="#6b2d6f"/>
<path d="M107.80 548.84L109.64 545.62L105.96 545.62Z" fill="#6b2d6f"/>
<path d="M109.73 548.84L111.57 545.62L107.89 545.62Z" fill="#6b2d6f"/>
<line x1="49.00" y1="546.57" x2="61.00" y2="546.57" stroke="#1a1a1a" stroke-width="1.0"/>
<line x1="55.00" y1="544.44" x2="55.00" y2="548.70" stroke="#1a1a1a" stroke-width="0.9"/>
<line x1="51.80" y1="544.44" x2="58.20" y2="544.44" stroke="#1a1a1a" stroke-width="0.9"/>
<line x1="51.80" y1="548.70" x2="58.20" y2="548.70" stroke="#1a1a1a" stroke-width="0.9"/>
<line x1="67.00" y1="529.11" x2="79.00" y2="529.11" stroke="#1a1a1a" stroke-width="1.0"/>
<line x1="73.00" y1="511.22" x2="73.00" y2="547.00" stroke="#1a1a1a" stroke-width="0.9"/>
<line x1="69.80" y1="511.22" x2="76.20" y2="511.22" stroke="#1a1a1a" stroke-width="0.9"/>
<line x1="69.80" y1="547.00" x2="76.20" y2="547.00" stroke="#1a1a1a" stroke-width="0.9"/>
<line x1="85.25" y1="538.05" x2="97.25" y2="538.05" stroke="#1a1a1a" stroke-width="1.0"/>
<line x1="91.25" y1="526.55" x2="91.25" y2="549.56" stroke="#1a1a1a" stroke-width="0.9"/>
<line x1="88.05" y1="526.55" x2="94.45" y2="526.55" stroke="#1a1a1a" stroke-width="0.9"/>
<line x1="88.05" y1="549.56" x2="94.45" y2="549.56" stroke="#1a1a1a" stroke-width="0.9"/>
<line x1="103.25" y1="545.72" x2="115.25" y2="545.72" stroke="#1a1a1a" stroke-width="1.0"/>
<line x1="109.25" y1="542.31" x2="109.25" y2="549.13" stroke="#1a1a1a" stroke-width="0.9"/>
<line x1="106.05" y1="542.31" x2="112.45" y2="542.31" stroke="#1a1a1a" stroke-width="0.9"/>
<line x1="106.05" y1="549.13" x2="112.45" y2="549.13" stroke="#1a1a1a" stroke-width="0.9"/>
<line x1="55.00" y1="483.75" x2="72.50" y2="483.75" stroke="#444444" stroke-width="1.1"/>
<path d="M62.20 479.50L62.20 482.00M61.12 480.12L63.28 481.38M61.12 481.38L63.28 480.12M65.30 479.50L65.30 482.00M64.22 480.12L66.38 481.38M64.22 481.38L66.38 480.12" stroke="#333" stroke-width="0.75" fill="none"/>
<line x1="73.00" y1="480.00" x2="107.50" y2="480.00" stroke="#444444" stroke-width="1.1"/>
<path d="M88.70 475.75L88.70 478.25M87.62 476.38L89.78 477.62M87.62 477.62L89.78 476.38M91.80 475.75L91.80 478.25M90.72 476.38L92.88 477.62M90.72 477.62L92.88 476.38" stroke="#333" stroke-width="0.75" fill="none"/>
<text x="81.90" y="468.70" font-size="9.4" fill="#1a1a1a" stroke="#1a1a1a" stroke-width="0.22" text-anchor="middle" textLength="31.2" lengthAdjust="spacingAndGlyphs">GM-CSF</text>
<text x="17.20" y="518.00" font-size="9.0" fill="#1a1a1a" stroke="#1a1a1a" stroke-width="0.22" text-anchor="middle" textLength="25.4" lengthAdjust="spacingAndGlyphs" transform="rotate(-90 17.20 518.00)">pg/mL</text>
<line x1="164.25" y1="481.25" x2="164.25" y2="555.60" stroke="#222222" stroke-width="1.2"/>
<line x1="163.75" y1="555.10" x2="235.75" y2="555.10" stroke="#222222" stroke-width="1.2"/>
<line x1="161.45" y1="551.25" x2="164.25" y2="551.25" stroke="#222222" stroke-width="1.0"/>
<text x="159.05" y="553.66" font-size="7.8" fill="#1a1a1a" stroke="#1a1a1a" stroke-width="0.22" text-anchor="end" textLength="4.08" lengthAdjust="spacingAndGlyphs">0</text>
<line x1="161.45" y1="534.25" x2="164.25" y2="534.25" stroke="#222222" stroke-width="1.0"/>
<text x="159.05" y="536.66" font-size="7.8" fill="#1a1a1a" stroke="#1a1a1a" stroke-width="0.22" text-anchor="end" textLength="12.23" lengthAdjust="spacingAndGlyphs">200</text>
<line x1="161.45" y1="517.25" x2="164.25" y2="517.25" stroke="#222222" stroke-width="1.0"/>
<text x="159.05" y="519.66" font-size="7.8" fill="#1a1a1a" stroke="#1a1a1a" stroke-width="0.22" text-anchor="end" textLength="12.23" lengthAdjust="spacingAndGlyphs">400</text>
<line x1="161.45" y1="500.25" x2="164.25" y2="500.25" stroke="#222222" stroke-width="1.0"/>
<text x="159.05" y="502.66" font-size="7.8" fill="#1a1a1a" stroke="#1a1a1a" stroke-width="0.22" text-anchor="end" textLength="12.23" lengthAdjust="spacingAndGlyphs">600</text>
<line x1="161.45" y1="483.25" x2="164.25" y2="483.25" stroke="#222222" stroke-width="1.0"/>
<text x="159.05" y="485.66" font-size="7.8" fill="#1a1a1a" stroke="#1a1a1a" stroke-width="0.22" text-anchor="end" textLength="12.23" lengthAdjust="spacingAndGlyphs">800</text>
<line x1="172.80" y1="555.10" x2="172.80" y2="557.60" stroke="#222222" stroke-width="1.0"/>
<text x="176.30" y="563.40" font-size="7.7" fill="#1a1a1a" stroke="#1a1a1a" stroke-width="0.22" text-anchor="end" textLength="19.2" lengthAdjust="spacingAndGlyphs" transform="rotate(-45 176.30 563.40)">Naive</text>
<line x1="191.25" y1="555.10" x2="191.25" y2="557.60" stroke="#222222" stroke-width="1.0"/>
<text x="194.75" y="563.40" font-size="7.7" fill="#1a1a1a" stroke="#1a1a1a" stroke-width="0.22" text-anchor="end" textLength="17.6" lengthAdjust="spacingAndGlyphs" transform="rotate(-45 194.75 563.40)">UnRx</text>
<line x1="209.25" y1="555.10" x2="209.25" y2="557.60" stroke="#222222" stroke-width="1.0"/>
<text x="212.75" y="563.40" font-size="7.7" fill="#1a1a1a" stroke="#1a1a1a" stroke-width="0.22" text-anchor="end" textLength="21.6" lengthAdjust="spacingAndGlyphs" transform="rotate(-45 212.75 563.40)">&#945;-IFN&#947;</text>
<line x1="227.30" y1="555.10" x2="227.30" y2="557.60" stroke="#222222" stroke-width="1.0"/>
<text x="230.80" y="563.40" font-size="7.7" fill="#1a1a1a" stroke="#1a1a1a" stroke-width="0.22" text-anchor="end" textLength="17.8" lengthAdjust="spacingAndGlyphs" transform="rotate(-45 230.80 563.40)">Ruxo</text>
<circle cx="172.80" cy="538.50" r="1.60" fill="#b4283b"/>
<circle cx="167.80" cy="549.98" r="1.60" fill="#b4283b"/>
<circle cx="171.13" cy="549.98" r="1.60" fill="#b4283b"/>
<circle cx="174.47" cy="549.98" r="1.60" fill="#b4283b"/>
<circle cx="177.80" cy="549.98" r="1.60" fill="#b4283b"/>
<circle cx="168.60" cy="548.06" r="1.60" fill="#b4283b"/>
<circle cx="171.93" cy="548.06" r="1.60" fill="#b4283b"/>
<circle cx="175.27" cy="548.06" r="1.60" fill="#b4283b"/>
<circle cx="178.60" cy="548.06" r="1.60" fill="#b4283b"/>
<circle cx="167.80" cy="546.15" r="1.60" fill="#b4283b"/>
<circle cx="171.13" cy="546.15" r="1.60" fill="#b4283b"/>
<circle cx="174.47" cy="546.15" r="1.60" fill="#b4283b"/>
<circle cx="177.80" cy="546.15" r="1.60" fill="#b4283b"/>
<circle cx="177.30" cy="541.90" r="1.60" fill="#b4283b"/>
<rect x="193.17" y="499.66" width="2.88" height="2.88" fill="#355d93"/>
<rect x="187.57" y="509.86" width="2.88" height="2.88" fill="#355d93"/>
<rect x="184.21" y="512.41" width="2.88" height="2.88" fill="#355d93"/>
<rect x="189.81" y="526.01" width="2.88" height="2.88" fill="#355d93"/>
<rect x="187.57" y="532.81" width="2.88" height="2.88" fill="#355d93"/>
<rect x="186.45" y="537.06" width="2.88" height="2.88" fill="#355d93"/>
<rect x="189.81" y="539.61" width="2.88" height="2.88" fill="#355d93"/>
<rect x="185.33" y="541.31" width="2.88" height="2.88" fill="#355d93"/>
<rect x="193.17" y="541.31" width="2.88" height="2.88" fill="#355d93"/>
<rect x="188.12" y="542.16" width="2.88" height="2.88" fill="#355d93"/>
<path d="M207.01 498.41L208.85 501.63L205.17 501.63Z" fill="#6db24f"/>
<path d="M211.49 513.71L213.33 516.93L209.65 516.93Z" fill="#6db24f"/>
<path d="M207.01 529.01L208.85 532.23L205.17 532.23Z" fill="#6db24f"/>
<path d="M209.25 532.41L211.09 535.63L207.41 535.63Z" fill="#6db24f"/>
<path d="M205.89 534.96L207.73 538.18L204.05 538.18Z" fill="#6db24f"/>
<path d="M208.13 539.21L209.97 542.43L206.29 542.43Z" fill="#6db24f"/>
<path d="M204.77 540.91L206.61 544.13L202.93 544.13Z" fill="#6db24f"/>
<path d="M209.25 542.61L211.09 545.83L207.41 545.83Z" fill="#6db24f"/>
<path d="M204.77 545.16L206.61 548.38L202.93 548.38Z" fill="#6db24f"/>
<path d="M211.49 547.71L213.33 550.93L209.65 550.93Z" fill="#6db24f"/>
<path d="M207.01 548.56L208.85 551.78L205.17 551.78Z" fill="#6db24f"/>
<path d="M225.06 536.09L226.90 532.87L223.22 532.87Z" fill="#6b2d6f"/>
<path d="M229.54 536.94L231.38 533.72L227.70 533.72Z" fill="#6b2d6f"/>
<path d="M230.66 540.34L232.50 537.12L228.82 537.12Z" fill="#6b2d6f"/>
<path d="M223.94 542.89L225.78 539.67L222.10 539.67Z" fill="#6b2d6f"/>
<path d="M230.66 544.59L232.50 541.37L228.82 541.37Z" fill="#6b2d6f"/>
<path d="M226.18 546.29L228.02 543.07L224.34 543.07Z" fill="#6b2d6f"/>
<path d="M229.54 547.99L231.38 544.77L227.70 544.77Z" fill="#6b2d6f"/>
<path d="M232.90 549.69L234.74 546.47L231.06 546.47Z" fill="#6b2d6f"/>
<path d="M226.18 550.54L228.02 547.32L224.34 547.32Z" fill="#6b2d6f"/>
<path d="M221.70 551.39L223.54 548.17L219.86 548.17Z" fill="#6b2d6f"/>
<line x1="166.80" y1="547.42" x2="178.80" y2="547.42" stroke="#1a1a1a" stroke-width="1.0"/>
<line x1="172.80" y1="543.60" x2="172.80" y2="551.25" stroke="#1a1a1a" stroke-width="0.9"/>
<line x1="169.60" y1="543.60" x2="176.00" y2="543.60" stroke="#1a1a1a" stroke-width="0.9"/>
<line x1="169.60" y1="551.25" x2="176.00" y2="551.25" stroke="#1a1a1a" stroke-width="0.9"/>
<line x1="185.25" y1="529.15" x2="197.25" y2="529.15" stroke="#1a1a1a" stroke-width="1.0"/>
<line x1="191.25" y1="514.70" x2="191.25" y2="543.60" stroke="#1a1a1a" stroke-width="0.9"/>
<line x1="188.05" y1="514.70" x2="194.45" y2="514.70" stroke="#1a1a1a" stroke-width="0.9"/>
<line x1="188.05" y1="543.60" x2="194.45" y2="543.60" stroke="#1a1a1a" stroke-width="0.9"/>
<line x1="203.25" y1="536.80" x2="215.25" y2="536.80" stroke="#1a1a1a" stroke-width="1.0"/>
<line x1="209.25" y1="523.20" x2="209.25" y2="550.40" stroke="#1a1a1a" stroke-width="0.9"/>
<line x1="206.05" y1="523.20" x2="212.45" y2="523.20" stroke="#1a1a1a" stroke-width="0.9"/>
<line x1="206.05" y1="550.40" x2="212.45" y2="550.40" stroke="#1a1a1a" stroke-width="0.9"/>
<line x1="221.30" y1="543.60" x2="233.30" y2="543.60" stroke="#1a1a1a" stroke-width="1.0"/>
<line x1="227.30" y1="537.65" x2="227.30" y2="550.40" stroke="#1a1a1a" stroke-width="0.9"/>
<line x1="224.10" y1="537.65" x2="230.50" y2="537.65" stroke="#1a1a1a" stroke-width="0.9"/>
<line x1="224.10" y1="550.40" x2="230.50" y2="550.40" stroke="#1a1a1a" stroke-width="0.9"/>
<line x1="173.25" y1="487.00" x2="190.50" y2="487.00" stroke="#444444" stroke-width="1.1"/>
<path d="M178.78 482.75L178.78 485.25M177.69 483.38L179.86 484.62M177.69 484.62L179.86 483.38M181.88 482.75L181.88 485.25M180.79 483.38L182.96 484.62M180.79 484.62L182.96 483.38M184.97 482.75L184.97 485.25M183.89 483.38L186.06 484.62M183.89 484.62L186.06 483.38" stroke="#333" stroke-width="0.75" fill="none"/>
<line x1="192.00" y1="494.00" x2="224.25" y2="494.00" stroke="#444444" stroke-width="1.1"/>
<path d="M206.57 489.75L206.57 492.25M205.49 490.38L207.66 491.62M205.49 491.62L207.66 490.38M209.67 489.75L209.67 492.25M208.59 490.38L210.76 491.62M208.59 491.62L210.76 490.38" stroke="#333" stroke-width="0.75" fill="none"/>
<text x="199.80" y="468.70" font-size="9.4" fill="#1a1a1a" stroke="#1a1a1a" stroke-width="0.22" text-anchor="middle" textLength="26.0" lengthAdjust="spacingAndGlyphs">MCP-1</text>
<text x="138.80" y="517.90" font-size="9.0" fill="#1a1a1a" stroke="#1a1a1a" stroke-width="0.22" text-anchor="middle" textLength="25.4" lengthAdjust="spacingAndGlyphs" transform="rotate(-90 138.80 517.90)">pg/mL</text>
<line x1="282.50" y1="481.25" x2="282.50" y2="555.60" stroke="#222222" stroke-width="1.2"/>
<line x1="282.00" y1="555.10" x2="353.75" y2="555.10" stroke="#222222" stroke-width="1.2"/>
<line x1="279.70" y1="549.50" x2="282.50" y2="549.50" stroke="#222222" stroke-width="1.0"/>
<text x="277.30" y="551.91" font-size="7.8" fill="#1a1a1a" stroke="#1a1a1a" stroke-width="0.22" text-anchor="end" textLength="4.08" lengthAdjust="spacingAndGlyphs">0</text>
<line x1="279.70" y1="527.50" x2="282.50" y2="527.50" stroke="#222222" stroke-width="1.0"/>
<text x="277.30" y="529.91" font-size="7.8" fill="#1a1a1a" stroke="#1a1a1a" stroke-width="0.22" text-anchor="end" textLength="12.23" lengthAdjust="spacingAndGlyphs">200</text>
<line x1="279.70" y1="505.50" x2="282.50" y2="505.50" stroke="#222222" stroke-width="1.0"/>
<text x="277.30" y="507.91" font-size="7.8" fill="#1a1a1a" stroke="#1a1a1a" stroke-width="0.22" text-anchor="end" textLength="12.23" lengthAdjust="spacingAndGlyphs">400</text>
<line x1="279.70" y1="483.50" x2="282.50" y2="483.50" stroke="#222222" stroke-width="1.0"/>
<text x="277.30" y="485.91" font-size="7.8" fill="#1a1a1a" stroke="#1a1a1a" stroke-width="0.22" text-anchor="end" textLength="12.23" lengthAdjust="spacingAndGlyphs">600</text>
<line x1="291.00" y1="555.10" x2="291.00" y2="557.60" stroke="#222222" stroke-width="1.0"/>
<text x="294.50" y="563.40" font-size="7.7" fill="#1a1a1a" stroke="#1a1a1a" stroke-width="0.22" text-anchor="end" textLength="19.2" lengthAdjust="spacingAndGlyphs" transform="rotate(-45 294.50 563.40)">Naive</text>
<line x1="309.40" y1="555.10" x2="309.40" y2="557.60" stroke="#222222" stroke-width="1.0"/>
<text x="312.90" y="563.40" font-size="7.7" fill="#1a1a1a" stroke="#1a1a1a" stroke-width="0.22" text-anchor="end" textLength="17.6" lengthAdjust="spacingAndGlyphs" transform="rotate(-45 312.90 563.40)">UnRx</text>
<line x1="327.50" y1="555.10" x2="327.50" y2="557.60" stroke="#222222" stroke-width="1.0"/>
<text x="331.00" y="563.40" font-size="7.7" fill="#1a1a1a" stroke="#1a1a1a" stroke-width="0.22" text-anchor="end" textLength="21.6" lengthAdjust="spacingAndGlyphs" transform="rotate(-45 331.00 563.40)">&#945;-IFN&#947;</text>
<line x1="345.75" y1="555.10" x2="345.75" y2="557.60" stroke="#222222" stroke-width="1.0"/>
<text x="349.25" y="563.40" font-size="7.7" fill="#1a1a1a" stroke="#1a1a1a" stroke-width="0.22" text-anchor="end" textLength="17.8" lengthAdjust="spacingAndGlyphs" transform="rotate(-45 349.25 563.40)">Ruxo</text>
<circle cx="291.00" cy="545.65" r="1.60" fill="#b4283b"/>
<circle cx="286.00" cy="549.50" r="1.60" fill="#b4283b"/>
<circle cx="288.50" cy="549.50" r="1.60" fill="#b4283b"/>
<circle cx="291.00" cy="549.50" r="1.60" fill="#b4283b"/>
<circle cx="293.50" cy="549.50" r="1.60" fill="#b4283b"/>
<circle cx="296.00" cy="549.50" r="1.60" fill="#b4283b"/>
<circle cx="286.80" cy="548.62" r="1.60" fill="#b4283b"/>
<circle cx="289.30" cy="548.62" r="1.60" fill="#b4283b"/>
<circle cx="291.80" cy="548.62" r="1.60" fill="#b4283b"/>
<circle cx="294.30" cy="548.62" r="1.60" fill="#b4283b"/>
<circle cx="296.80" cy="548.62" r="1.60" fill="#b4283b"/>
<rect x="310.20" y="504.06" width="2.88" height="2.88" fill="#355d93"/>
<rect x="313.56" y="505.16" width="2.88" height="2.88" fill="#355d93"/>
<rect x="306.84" y="517.26" width="2.88" height="2.88" fill="#355d93"/>
<rect x="311.32" y="523.86" width="2.88" height="2.88" fill="#355d93"/>
<rect x="307.96" y="526.06" width="2.88" height="2.88" fill="#355d93"/>
<rect x="309.08" y="531.56" width="2.88" height="2.88" fill="#355d93"/>
<rect x="306.84" y="534.86" width="2.88" height="2.88" fill="#355d93"/>
<rect x="303.48" y="537.06" width="2.88" height="2.88" fill="#355d93"/>
<rect x="303.48" y="541.46" width="2.88" height="2.88" fill="#355d93"/>
<rect x="304.60" y="546.96" width="2.88" height="2.88" fill="#355d93"/>
<path d="M324.14 508.06L325.98 511.28L322.30 511.28Z" fill="#6db24f"/>
<path d="M329.74 527.86L331.58 531.08L327.90 531.08Z" fill="#6db24f"/>
<path d="M325.26 534.46L327.10 537.68L323.42 537.68Z" fill="#6db24f"/>
<path d="M324.14 538.86L325.98 542.08L322.30 542.08Z" fill="#6db24f"/>
<path d="M327.50 541.06L329.34 544.28L325.66 544.28Z" fill="#6db24f"/>
<path d="M330.86 543.26L332.70 546.48L329.02 546.48Z" fill="#6db24f"/>
<path d="M325.26 544.36L327.10 547.58L323.42 547.58Z" fill="#6db24f"/>
<path d="M321.90 545.46L323.74 548.68L320.06 548.68Z" fill="#6db24f"/>
<path d="M328.62 546.56L330.46 549.78L326.78 549.78Z" fill="#6db24f"/>
<path d="M331.98 547.66L333.82 550.88L330.14 550.88Z" fill="#6db24f"/>
<path d="M343.51 537.04L345.35 533.82L341.67 533.82Z" fill="#6b2d6f"/>
<path d="M345.75 548.04L347.59 544.82L343.91 544.82Z" fill="#6b2d6f"/>
<path d="M342.39 549.14L344.23 545.92L340.55 545.92Z" fill="#6b2d6f"/>
<path d="M349.11 549.69L350.95 546.47L347.27 546.47Z" fill="#6b2d6f"/>
<path d="M343.62 550.24L345.46 547.02L341.78 547.02Z" fill="#6b2d6f"/>
<path d="M349.91 550.79L351.75 547.57L348.07 547.57Z" fill="#6b2d6f"/>
<path d="M350.00 551.34L351.84 548.12L348.16 548.12Z" fill="#6b2d6f"/>
<line x1="285.00" y1="549.50" x2="297.00" y2="549.50" stroke="#1a1a1a" stroke-width="1.0"/>
<line x1="291.00" y1="549.50" x2="291.00" y2="549.50" stroke="#1a1a1a" stroke-width="0.9"/>
<line x1="287.80" y1="549.50" x2="294.20" y2="549.50" stroke="#1a1a1a" stroke-width="0.9"/>
<line x1="287.80" y1="549.50" x2="294.20" y2="549.50" stroke="#1a1a1a" stroke-width="0.9"/>
<line x1="303.40" y1="531.90" x2="315.40" y2="531.90" stroke="#1a1a1a" stroke-width="1.0"/>
<line x1="309.40" y1="517.60" x2="309.40" y2="546.75" stroke="#1a1a1a" stroke-width="0.9"/>
<line x1="306.20" y1="517.60" x2="312.60" y2="517.60" stroke="#1a1a1a" stroke-width="0.9"/>
<line x1="306.20" y1="546.75" x2="312.60" y2="546.75" stroke="#1a1a1a" stroke-width="0.9"/>
<line x1="321.50" y1="540.70" x2="333.50" y2="540.70" stroke="#1a1a1a" stroke-width="1.0"/>
<line x1="327.50" y1="529.15" x2="327.50" y2="551.70" stroke="#1a1a1a" stroke-width="0.9"/>
<line x1="324.30" y1="529.15" x2="330.70" y2="529.15" stroke="#1a1a1a" stroke-width="0.9"/>
<line x1="324.30" y1="551.70" x2="330.70" y2="551.70" stroke="#1a1a1a" stroke-width="0.9"/>
<line x1="339.75" y1="547.30" x2="351.75" y2="547.30" stroke="#1a1a1a" stroke-width="1.0"/>
<line x1="345.75" y1="544.00" x2="345.75" y2="550.60" stroke="#1a1a1a" stroke-width="0.9"/>
<line x1="342.55" y1="544.00" x2="348.95" y2="544.00" stroke="#1a1a1a" stroke-width="0.9"/>
<line x1="342.55" y1="550.60" x2="348.95" y2="550.60" stroke="#1a1a1a" stroke-width="0.9"/>
<line x1="288.75" y1="499.50" x2="308.00" y2="499.50" stroke="#444444" stroke-width="1.1"/>
<path d="M295.27 495.25L295.27 497.75M294.19 495.88L296.36 497.12M294.19 497.12L296.36 495.88M298.38 495.25L298.38 497.75M297.29 495.88L299.46 497.12M297.29 497.12L299.46 495.88M301.47 495.25L301.47 497.75M300.39 495.88L302.56 497.12M300.39 497.12L302.56 495.88" stroke="#333" stroke-width="0.75" fill="none"/>
<line x1="308.75" y1="497.00" x2="346.25" y2="497.00" stroke="#444444" stroke-width="1.1"/>
<path d="M324.40 492.75L324.40 495.25M323.32 493.38L325.48 494.62M323.32 494.62L325.48 493.38M327.50 492.75L327.50 495.25M326.42 493.38L328.58 494.62M326.42 494.62L328.58 493.38M330.60 492.75L330.60 495.25M329.52 493.38L331.68 494.62M329.52 494.62L331.68 493.38" stroke="#333" stroke-width="0.75" fill="none"/>
<text x="318.20" y="468.70" font-size="9.4" fill="#1a1a1a" stroke="#1a1a1a" stroke-width="0.22" text-anchor="middle" textLength="29.2" lengthAdjust="spacingAndGlyphs">MIP-1&#945;</text>
<text x="258.20" y="517.90" font-size="9.0" fill="#1a1a1a" stroke="#1a1a1a" stroke-width="0.22" text-anchor="middle" textLength="25.4" lengthAdjust="spacingAndGlyphs" transform="rotate(-90 258.20 517.90)">pg/mL</text>
<line x1="406.90" y1="293.20" x2="406.90" y2="404.10" stroke="#222222" stroke-width="1.45"/>
<line x1="406.40" y1="403.60" x2="512.80" y2="403.60" stroke="#222222" stroke-width="1.45"/>
<line x1="404.10" y1="404.20" x2="406.90" y2="404.20" stroke="#222222" stroke-width="1.0"/>
<text x="401.70" y="406.61" font-size="7.8" fill="#1a1a1a" stroke="#1a1a1a" stroke-width="0.22" text-anchor="end" textLength="10.19" lengthAdjust="spacingAndGlyphs">0.0</text>
<line x1="404.10" y1="377.20" x2="406.90" y2="377.20" stroke="#222222" stroke-width="1.0"/>
<text x="401.70" y="379.61" font-size="7.8" fill="#1a1a1a" stroke="#1a1a1a" stroke-width="0.22" text-anchor="end" textLength="10.19" lengthAdjust="spacingAndGlyphs">0.5</text>
<line x1="404.10" y1="350.20" x2="406.90" y2="350.20" stroke="#222222" stroke-width="1.0"/>
<text x="401.70" y="352.61" font-size="7.8" fill="#1a1a1a" stroke="#1a1a1a" stroke-width="0.22" text-anchor="end" textLength="10.19" lengthAdjust="spacingAndGlyphs">1.0</text>
<line x1="404.10" y1="323.20" x2="406.90" y2="323.20" stroke="#222222" stroke-width="1.0"/>
<text x="401.70" y="325.61" font-size="7.8" fill="#1a1a1a" stroke="#1a1a1a" stroke-width="0.22" text-anchor="end" textLength="10.19" lengthAdjust="spacingAndGlyphs">1.5</text>
<line x1="404.10" y1="296.20" x2="406.90" y2="296.20" stroke="#222222" stroke-width="1.0"/>
<text x="401.70" y="298.61" font-size="7.8" fill="#1a1a1a" stroke="#1a1a1a" stroke-width="0.22" text-anchor="end" textLength="10.19" lengthAdjust="spacingAndGlyphs">2.0</text>
<line x1="419.00" y1="403.60" x2="419.00" y2="406.10" stroke="#222222" stroke-width="1.0"/>
<text x="423.00" y="412.40" font-size="8.2" fill="#1a1a1a" stroke="#1a1a1a" stroke-width="0.22" text-anchor="end" textLength="20.5" lengthAdjust="spacingAndGlyphs" transform="rotate(-45 423.00 412.40)">Naive</text>
<line x1="447.30" y1="403.60" x2="447.30" y2="406.10" stroke="#222222" stroke-width="1.0"/>
<text x="451.30" y="412.40" font-size="8.2" fill="#1a1a1a" stroke="#1a1a1a" stroke-width="0.22" text-anchor="end" textLength="19" lengthAdjust="spacingAndGlyphs" transform="rotate(-45 451.30 412.40)">UnRx</text>
<line x1="473.80" y1="403.60" x2="473.80" y2="406.10" stroke="#222222" stroke-width="1.0"/>
<text x="477.80" y="412.40" font-size="8.2" fill="#1a1a1a" stroke="#1a1a1a" stroke-width="0.22" text-anchor="end" textLength="23" lengthAdjust="spacingAndGlyphs" transform="rotate(-45 477.80 412.40)">&#945;-IFN&#947;</text>
<line x1="501.20" y1="403.60" x2="501.20" y2="406.10" stroke="#222222" stroke-width="1.0"/>
<text x="505.20" y="412.40" font-size="8.2" fill="#1a1a1a" stroke="#1a1a1a" stroke-width="0.22" text-anchor="end" textLength="19" lengthAdjust="spacingAndGlyphs" transform="rotate(-45 505.20 412.40)">Ruxo</text>
<circle cx="420.50" cy="378.82" r="2.35" fill="#b4283b"/>
<circle cx="414.80" cy="385.30" r="2.35" fill="#b4283b"/>
<circle cx="420.50" cy="385.84" r="2.35" fill="#b4283b"/>
<circle cx="426.20" cy="383.14" r="2.35" fill="#b4283b"/>
<circle cx="413.50" cy="390.16" r="2.35" fill="#b4283b"/>
<circle cx="419.00" cy="390.70" r="2.35" fill="#b4283b"/>
<circle cx="424.50" cy="390.16" r="2.35" fill="#b4283b"/>
<circle cx="416.20" cy="392.32" r="2.35" fill="#b4283b"/>
<circle cx="421.80" cy="392.32" r="2.35" fill="#b4283b"/>
<circle cx="427.20" cy="390.97" r="2.35" fill="#b4283b"/>
<circle cx="410.80" cy="390.97" r="2.35" fill="#b4283b"/>
<circle cx="419.00" cy="393.67" r="2.35" fill="#b4283b"/>
<rect x="445.19" y="314.06" width="4.23" height="4.23" fill="#355d93"/>
<rect x="448.29" y="325.40" width="4.23" height="4.23" fill="#355d93"/>
<rect x="438.58" y="330.26" width="4.23" height="4.23" fill="#355d93"/>
<rect x="442.08" y="333.50" width="4.23" height="4.23" fill="#355d93"/>
<rect x="448.58" y="337.82" width="4.23" height="4.23" fill="#355d93"/>
<rect x="438.29" y="348.62" width="4.23" height="4.23" fill="#355d93"/>
<rect x="443.19" y="349.16" width="4.23" height="4.23" fill="#355d93"/>
<rect x="445.19" y="347.00" width="4.23" height="4.23" fill="#355d93"/>
<rect x="451.79" y="348.62" width="4.23" height="4.23" fill="#355d93"/>
<rect x="447.19" y="353.48" width="4.23" height="4.23" fill="#355d93"/>
<rect x="448.58" y="358.88" width="4.23" height="4.23" fill="#355d93"/>
<rect x="441.79" y="364.28" width="4.23" height="4.23" fill="#355d93"/>
<path d="M474.20 329.14L476.90 333.87L471.50 333.87Z" fill="#6db24f"/>
<path d="M479.90 337.78L482.60 342.51L477.20 342.51Z" fill="#6db24f"/>
<path d="M468.40 343.18L471.10 347.91L465.70 347.91Z" fill="#6db24f"/>
<path d="M474.20 344.26L476.90 348.99L471.50 348.99Z" fill="#6db24f"/>
<path d="M481.20 351.82L483.90 356.55L478.50 356.55Z" fill="#6db24f"/>
<path d="M467.30 355.60L470.00 360.33L464.60 360.33Z" fill="#6db24f"/>
<path d="M471.90 357.76L474.60 362.49L469.20 362.49Z" fill="#6db24f"/>
<path d="M476.50 356.68L479.20 361.41L473.80 361.41Z" fill="#6db24f"/>
<path d="M479.90 360.46L482.60 365.19L477.20 365.19Z" fill="#6db24f"/>
<path d="M465.30 365.32L468.00 370.05L462.60 370.05Z" fill="#6db24f"/>
<path d="M468.40 368.02L471.10 372.75L465.70 372.75Z" fill="#6db24f"/>
<path d="M474.20 366.40L476.90 371.13L471.50 371.13Z" fill="#6db24f"/>
<path d="M474.20 372.88L476.90 377.61L471.50 377.61Z" fill="#6db24f"/>
<path d="M479.90 370.72L482.60 375.45L477.20 375.45Z" fill="#6db24f"/>
<path d="M497.40 375.04L500.10 370.31L494.70 370.31Z" fill="#6b2d6f"/>
<path d="M507.60 378.82L510.30 374.09L504.90 374.09Z" fill="#6b2d6f"/>
<path d="M494.70 382.06L497.40 377.33L492.00 377.33Z" fill="#6b2d6f"/>
<path d="M501.20 381.52L503.90 376.79L498.50 376.79Z" fill="#6b2d6f"/>
<path d="M505.70 382.60L508.40 377.87L503.00 377.87Z" fill="#6b2d6f"/>
<path d="M497.70 384.22L500.40 379.49L495.00 379.49Z" fill="#6b2d6f"/>
<path d="M502.70 384.22L505.40 379.49L500.00 379.49Z" fill="#6b2d6f"/>
<path d="M507.70 383.68L510.40 378.95L505.00 378.95Z" fill="#6b2d6f"/>
<path d="M500.20 385.84L502.90 381.11L497.50 381.11Z" fill="#6b2d6f"/>
<path d="M504.20 386.38L506.90 381.65L501.50 381.65Z" fill="#6b2d6f"/>
<path d="M501.20 388.00L503.90 383.27L498.50 383.27Z" fill="#6b2d6f"/>
<line x1="410.00" y1="388.76" x2="428.00" y2="388.76" stroke="#1a1a1a" stroke-width="1.0"/>
<line x1="419.00" y1="384.22" x2="419.00" y2="392.86" stroke="#1a1a1a" stroke-width="0.9"/>
<line x1="415.40" y1="384.22" x2="422.60" y2="384.22" stroke="#1a1a1a" stroke-width="0.9"/>
<line x1="415.40" y1="392.86" x2="422.60" y2="392.86" stroke="#1a1a1a" stroke-width="0.9"/>
<line x1="438.30" y1="344.80" x2="456.30" y2="344.80" stroke="#1a1a1a" stroke-width="1.0"/>
<line x1="447.30" y1="330.22" x2="447.30" y2="359.38" stroke="#1a1a1a" stroke-width="0.9"/>
<line x1="443.70" y1="330.22" x2="450.90" y2="330.22" stroke="#1a1a1a" stroke-width="0.9"/>
<line x1="443.70" y1="359.38" x2="450.90" y2="359.38" stroke="#1a1a1a" stroke-width="0.9"/>
<line x1="464.80" y1="358.30" x2="482.80" y2="358.30" stroke="#1a1a1a" stroke-width="1.0"/>
<line x1="473.80" y1="344.80" x2="473.80" y2="371.26" stroke="#1a1a1a" stroke-width="0.9"/>
<line x1="470.20" y1="344.80" x2="477.40" y2="344.80" stroke="#1a1a1a" stroke-width="0.9"/>
<line x1="470.20" y1="371.26" x2="477.40" y2="371.26" stroke="#1a1a1a" stroke-width="0.9"/>
<line x1="492.20" y1="380.98" x2="510.20" y2="380.98" stroke="#1a1a1a" stroke-width="1.0"/>
<line x1="501.20" y1="377.74" x2="501.20" y2="384.22" stroke="#1a1a1a" stroke-width="0.9"/>
<line x1="497.60" y1="377.74" x2="504.80" y2="377.74" stroke="#1a1a1a" stroke-width="0.9"/>
<line x1="497.60" y1="384.22" x2="504.80" y2="384.22" stroke="#1a1a1a" stroke-width="0.9"/>
<line x1="416.20" y1="280.80" x2="474.40" y2="280.80" stroke="#444444" stroke-width="1.1"/>
<path d="M440.80 275.65L440.80 278.35M439.63 276.32L441.97 277.68M439.63 277.68L441.97 276.32M443.80 275.65L443.80 278.35M442.63 276.32L444.97 277.68M442.63 277.68L444.97 276.32M446.80 275.65L446.80 278.35M445.63 276.32L447.97 277.68M445.63 277.68L447.97 276.32M449.80 275.65L449.80 278.35M448.63 276.32L450.97 277.68M448.63 277.68L450.97 276.32" stroke="#333" stroke-width="0.75" fill="none"/>
<line x1="447.30" y1="296.00" x2="501.80" y2="296.00" stroke="#444444" stroke-width="1.1"/>
<path d="M470.05 290.85L470.05 293.55M468.88 291.52L471.22 292.88M468.88 292.88L471.22 291.52M473.05 290.85L473.05 293.55M471.88 291.52L474.22 292.88M471.88 292.88L474.22 291.52M476.05 290.85L476.05 293.55M474.88 291.52L477.22 292.88M474.88 292.88L477.22 291.52M479.05 290.85L479.05 293.55M477.88 291.52L480.22 292.88M477.88 292.88L480.22 291.52" stroke="#333" stroke-width="0.75" fill="none"/>
<line x1="416.20" y1="313.40" x2="442.10" y2="313.40" stroke="#444444" stroke-width="1.1"/>
<path d="M424.65 308.25L424.65 310.95M423.48 308.92L425.82 310.27M423.48 310.27L425.82 308.92M427.65 308.25L427.65 310.95M426.48 308.92L428.82 310.27M426.48 310.27L428.82 308.92M430.65 308.25L430.65 310.95M429.48 308.92L431.82 310.27M429.48 310.27L431.82 308.92M433.65 308.25L433.65 310.95M432.48 308.92L434.82 310.27M432.48 310.27L434.82 308.92" stroke="#333" stroke-width="0.75" fill="none"/>
<line x1="447.90" y1="309.60" x2="472.40" y2="309.60" stroke="#444444" stroke-width="1.1"/>
<path d="M458.65 304.45L458.65 307.15M457.48 305.12L459.82 306.48M457.48 306.48L459.82 305.12M461.65 304.45L461.65 307.15M460.48 305.12L462.82 306.48M460.48 306.48L462.82 305.12" stroke="#333" stroke-width="0.75" fill="none"/>
<line x1="474.40" y1="317.10" x2="503.30" y2="317.10" stroke="#444444" stroke-width="1.1"/>
<path d="M484.35 311.95L484.35 314.65M483.18 312.62L485.52 313.98M483.18 313.98L485.52 312.62M487.35 311.95L487.35 314.65M486.18 312.62L488.52 313.98M486.18 313.98L488.52 312.62M490.35 311.95L490.35 314.65M489.18 312.62L491.52 313.98M489.18 313.98L491.52 312.62M493.35 311.95L493.35 314.65M492.18 312.62L494.52 313.98M492.18 313.98L494.52 312.62" stroke="#333" stroke-width="0.75" fill="none"/>
<text x="385.50" y="349.10" font-size="9.0" fill="#1a1a1a" stroke="#1a1a1a" stroke-width="0.22" text-anchor="middle" textLength="98.5" lengthAdjust="spacingAndGlyphs" transform="rotate(-90 385.50 349.10)">Spleen % of body weight</text>
<line x1="406.90" y1="462.90" x2="406.90" y2="574.20" stroke="#222222" stroke-width="1.45"/>
<line x1="406.40" y1="573.70" x2="512.20" y2="573.70" stroke="#222222" stroke-width="1.45"/>
<line x1="404.10" y1="573.70" x2="406.90" y2="573.70" stroke="#222222" stroke-width="1.0"/>
<text x="401.70" y="576.11" font-size="7.8" fill="#1a1a1a" stroke="#1a1a1a" stroke-width="0.22" text-anchor="end" textLength="4.08" lengthAdjust="spacingAndGlyphs">0</text>
<line x1="404.10" y1="552.10" x2="406.90" y2="552.10" stroke="#222222" stroke-width="1.0"/>
<text x="401.70" y="554.51" font-size="7.8" fill="#1a1a1a" stroke="#1a1a1a" stroke-width="0.22" text-anchor="end" textLength="4.08" lengthAdjust="spacingAndGlyphs">2</text>
<line x1="404.10" y1="530.50" x2="406.90" y2="530.50" stroke="#222222" stroke-width="1.0"/>
<text x="401.70" y="532.91" font-size="7.8" fill="#1a1a1a" stroke="#1a1a1a" stroke-width="0.22" text-anchor="end" textLength="4.08" lengthAdjust="spacingAndGlyphs">4</text>
<line x1="404.10" y1="508.90" x2="406.90" y2="508.90" stroke="#222222" stroke-width="1.0"/>
<text x="401.70" y="511.31" font-size="7.8" fill="#1a1a1a" stroke="#1a1a1a" stroke-width="0.22" text-anchor="end" textLength="4.08" lengthAdjust="spacingAndGlyphs">6</text>
<line x1="404.10" y1="487.30" x2="406.90" y2="487.30" stroke="#222222" stroke-width="1.0"/>
<text x="401.70" y="489.71" font-size="7.8" fill="#1a1a1a" stroke="#1a1a1a" stroke-width="0.22" text-anchor="end" textLength="4.08" lengthAdjust="spacingAndGlyphs">8</text>
<line x1="404.10" y1="465.70" x2="406.90" y2="465.70" stroke="#222222" stroke-width="1.0"/>
<text x="401.70" y="468.11" font-size="7.8" fill="#1a1a1a" stroke="#1a1a1a" stroke-width="0.22" text-anchor="end" textLength="8.15" lengthAdjust="spacingAndGlyphs">10</text>
<line x1="420.50" y1="573.70" x2="420.50" y2="576.20" stroke="#222222" stroke-width="1.0"/>
<text x="424.50" y="582.50" font-size="8.2" fill="#1a1a1a" stroke="#1a1a1a" stroke-width="0.22" text-anchor="end" textLength="20.5" lengthAdjust="spacingAndGlyphs" transform="rotate(-45 424.50 582.50)">Naive</text>
<line x1="447.30" y1="573.70" x2="447.30" y2="576.20" stroke="#222222" stroke-width="1.0"/>
<text x="451.30" y="582.50" font-size="8.2" fill="#1a1a1a" stroke="#1a1a1a" stroke-width="0.22" text-anchor="end" textLength="19" lengthAdjust="spacingAndGlyphs" transform="rotate(-45 451.30 582.50)">UnRx</text>
<line x1="474.40" y1="573.70" x2="474.40" y2="576.20" stroke="#222222" stroke-width="1.0"/>
<text x="478.40" y="582.50" font-size="8.2" fill="#1a1a1a" stroke="#1a1a1a" stroke-width="0.22" text-anchor="end" textLength="23" lengthAdjust="spacingAndGlyphs" transform="rotate(-45 478.40 582.50)">&#945;-IFN&#947;</text>
<line x1="501.20" y1="573.70" x2="501.20" y2="576.20" stroke="#222222" stroke-width="1.0"/>
<text x="505.20" y="582.50" font-size="8.2" fill="#1a1a1a" stroke="#1a1a1a" stroke-width="0.22" text-anchor="end" textLength="19" lengthAdjust="spacingAndGlyphs" transform="rotate(-45 505.20 582.50)">Ruxo</text>
<circle cx="420.20" cy="509.98" r="2.35" fill="#b4283b"/>
<circle cx="416.60" cy="514.30" r="2.35" fill="#b4283b"/>
<circle cx="414.50" cy="517.54" r="2.35" fill="#b4283b"/>
<circle cx="425.10" cy="517.54" r="2.35" fill="#b4283b"/>
<circle cx="418.00" cy="519.16" r="2.35" fill="#b4283b"/>
<circle cx="422.00" cy="518.62" r="2.35" fill="#b4283b"/>
<circle cx="420.50" cy="520.24" r="2.35" fill="#b4283b"/>
<circle cx="420.20" cy="522.94" r="2.35" fill="#b4283b"/>
<circle cx="420.20" cy="534.17" r="2.35" fill="#b4283b"/>
<circle cx="420.20" cy="542.06" r="2.35" fill="#b4283b"/>
<circle cx="424.00" cy="520.78" r="2.35" fill="#b4283b"/>
<rect x="441.58" y="476.01" width="4.23" height="4.23" fill="#355d93"/>
<rect x="445.79" y="474.82" width="4.23" height="4.23" fill="#355d93"/>
<rect x="451.58" y="481.73" width="4.23" height="4.23" fill="#355d93"/>
<rect x="441.38" y="486.59" width="4.23" height="4.23" fill="#355d93"/>
<rect x="445.19" y="485.94" width="4.23" height="4.23" fill="#355d93"/>
<rect x="448.99" y="486.59" width="4.23" height="4.23" fill="#355d93"/>
<rect x="444.19" y="490.15" width="4.23" height="4.23" fill="#355d93"/>
<rect x="447.99" y="490.15" width="4.23" height="4.23" fill="#355d93"/>
<rect x="441.99" y="498.15" width="4.23" height="4.23" fill="#355d93"/>
<rect x="447.99" y="500.85" width="4.23" height="4.23" fill="#355d93"/>
<rect x="445.19" y="509.16" width="4.23" height="4.23" fill="#355d93"/>
<rect x="446.69" y="483.03" width="4.23" height="4.23" fill="#355d93"/>
<path d="M474.40 478.55L477.10 483.28L471.70 483.28Z" fill="#6db24f"/>
<path d="M468.00 488.59L470.70 493.32L465.30 493.32Z" fill="#6db24f"/>
<path d="M471.60 490.75L474.30 495.48L468.90 495.48Z" fill="#6db24f"/>
<path d="M476.90 490.75L479.60 495.48L474.20 495.48Z" fill="#6db24f"/>
<path d="M480.10 487.08L482.80 491.81L477.40 491.81Z" fill="#6db24f"/>
<path d="M481.20 492.81L483.90 497.53L478.50 497.53Z" fill="#6db24f"/>
<path d="M468.50 494.86L471.20 499.59L465.80 499.59Z" fill="#6db24f"/>
<path d="M472.70 498.10L475.40 502.83L470.00 502.83Z" fill="#6db24f"/>
<path d="M477.60 496.05L480.30 500.77L474.90 500.77Z" fill="#6db24f"/>
<path d="M468.50 510.30L471.20 515.03L465.80 515.03Z" fill="#6db24f"/>
<path d="M480.10 508.57L482.80 513.30L477.40 513.30Z" fill="#6db24f"/>
<path d="M474.40 514.62L477.10 519.35L471.70 519.35Z" fill="#6db24f"/>
<path d="M474.40 523.05L477.10 527.77L471.70 527.77Z" fill="#6db24f"/>
<path d="M501.90 486.98L504.60 482.25L499.20 482.25Z" fill="#6b2d6f"/>
<path d="M498.10 492.49L500.80 487.76L495.40 487.76Z" fill="#6b2d6f"/>
<path d="M504.40 498.21L507.10 493.48L501.70 493.48Z" fill="#6b2d6f"/>
<path d="M494.90 506.63L497.60 501.91L492.20 501.91Z" fill="#6b2d6f"/>
<path d="M499.10 507.71L501.80 502.99L496.40 502.99Z" fill="#6b2d6f"/>
<path d="M504.40 509.44L507.10 504.71L501.70 504.71Z" fill="#6b2d6f"/>
<path d="M508.20 506.63L510.90 501.91L505.50 501.91Z" fill="#6b2d6f"/>
<path d="M501.30 513.98L504.00 509.25L498.60 509.25Z" fill="#6b2d6f"/>
<path d="M504.70 512.14L507.40 507.41L502.00 507.41Z" fill="#6b2d6f"/>
<path d="M497.70 511.60L500.40 506.87L495.00 506.87Z" fill="#6b2d6f"/>
<path d="M498.10 525.75L500.80 521.02L495.40 521.02Z" fill="#6b2d6f"/>
<path d="M501.70 505.12L504.40 500.39L499.00 500.39Z" fill="#6b2d6f"/>
<line x1="411.50" y1="521.32" x2="429.50" y2="521.32" stroke="#1a1a1a" stroke-width="1.0"/>
<line x1="420.50" y1="512.46" x2="420.50" y2="529.96" stroke="#1a1a1a" stroke-width="0.9"/>
<line x1="416.90" y1="512.46" x2="424.10" y2="512.46" stroke="#1a1a1a" stroke-width="0.9"/>
<line x1="416.90" y1="529.96" x2="424.10" y2="529.96" stroke="#1a1a1a" stroke-width="0.9"/>
<line x1="438.30" y1="491.30" x2="456.30" y2="491.30" stroke="#1a1a1a" stroke-width="1.0"/>
<line x1="447.30" y1="481.25" x2="447.30" y2="500.80" stroke="#1a1a1a" stroke-width="0.9"/>
<line x1="443.70" y1="481.25" x2="450.90" y2="481.25" stroke="#1a1a1a" stroke-width="0.9"/>
<line x1="443.70" y1="500.80" x2="450.90" y2="500.80" stroke="#1a1a1a" stroke-width="0.9"/>
<line x1="465.40" y1="500.15" x2="483.40" y2="500.15" stroke="#1a1a1a" stroke-width="1.0"/>
<line x1="474.40" y1="487.73" x2="474.40" y2="512.46" stroke="#1a1a1a" stroke-width="0.9"/>
<line x1="470.80" y1="487.73" x2="478.00" y2="487.73" stroke="#1a1a1a" stroke-width="0.9"/>
<line x1="470.80" y1="512.46" x2="478.00" y2="512.46" stroke="#1a1a1a" stroke-width="0.9"/>
<line x1="492.20" y1="505.44" x2="510.20" y2="505.44" stroke="#1a1a1a" stroke-width="1.0"/>
<line x1="501.20" y1="495.08" x2="501.20" y2="515.60" stroke="#1a1a1a" stroke-width="0.9"/>
<line x1="497.60" y1="495.08" x2="504.80" y2="495.08" stroke="#1a1a1a" stroke-width="0.9"/>
<line x1="497.60" y1="515.60" x2="504.80" y2="515.60" stroke="#1a1a1a" stroke-width="0.9"/>
<line x1="421.30" y1="455.70" x2="501.20" y2="455.70" stroke="#444444" stroke-width="1.1"/>
<path d="M459.75 450.55L459.75 453.25M458.58 451.22L460.92 452.57M458.58 452.57L460.92 451.22M462.75 450.55L462.75 453.25M461.58 451.22L463.92 452.57M461.58 452.57L463.92 451.22" stroke="#333" stroke-width="0.75" fill="none"/>
<line x1="413.80" y1="470.10" x2="438.40" y2="470.10" stroke="#444444" stroke-width="1.1"/>
<path d="M421.60 464.95L421.60 467.65M420.43 465.62L422.77 466.98M420.43 466.98L422.77 465.62M424.60 464.95L424.60 467.65M423.43 465.62L425.77 466.98M423.43 466.98L425.77 465.62M427.60 464.95L427.60 467.65M426.43 465.62L428.77 466.98M426.43 466.98L428.77 465.62M430.60 464.95L430.60 467.65M429.43 465.62L431.77 466.98M429.43 466.98L431.77 465.62" stroke="#333" stroke-width="0.75" fill="none"/>
<line x1="445.60" y1="470.10" x2="501.20" y2="470.10" stroke="#444444" stroke-width="1.1"/>
<path d="M471.90 464.95L471.90 467.65M470.73 465.62L473.07 466.98M470.73 466.98L473.07 465.62M474.90 464.95L474.90 467.65M473.73 465.62L476.07 466.98M473.73 466.98L476.07 465.62" stroke="#333" stroke-width="0.75" fill="none"/>
<text x="385.70" y="519.00" font-size="9.0" fill="#1a1a1a" stroke="#1a1a1a" stroke-width="0.22" text-anchor="middle" textLength="91" lengthAdjust="spacingAndGlyphs" transform="rotate(-90 385.70 519.00)">Liver % of body weight</text>
</svg><div class="bd"></div>
</body></html>
